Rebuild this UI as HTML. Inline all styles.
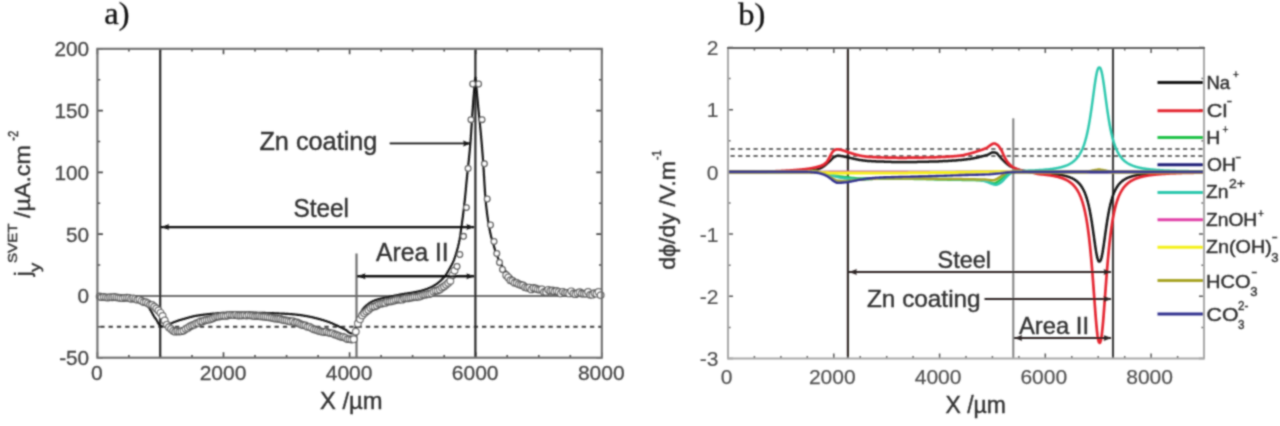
<!DOCTYPE html>
<html><head><meta charset="utf-8"><title>SVET profiles</title>
<style>html,body{margin:0;padding:0;background:#fff;overflow:hidden}svg{display:block}text{stroke:#3a3a3a;stroke-width:0.45px}</style>
</head><body>
<svg width="1280" height="426" viewBox="0 0 1280 426">
<defs><filter id="bl" filterUnits="userSpaceOnUse" x="0" y="0" width="1280" height="426"><feConvolveMatrix order="5" kernelMatrix="0.00023 0.00332 0.00809 0.00332 0.00023 0.00332 0.04785 0.11640 0.04785 0.00332 0.00809 0.11640 0.28313 0.11640 0.00809 0.00332 0.04785 0.11640 0.04785 0.00332 0.00023 0.00332 0.00809 0.00332 0.00023" edgeMode="none"/></filter></defs>
<rect width="1280" height="426" fill="#fff"/>
<g filter="url(#bl)">
<path d="M97.4 357.7V352.2M97.4 48.8V54.3M128.9 357.7V354.9M128.9 48.8V51.6M160.4 357.7V354.9M160.4 48.8V51.6M192.0 357.7V354.9M192.0 48.8V51.6M223.5 357.7V352.2M223.5 48.8V54.3M255.0 357.7V354.9M255.0 48.8V51.6M286.6 357.7V354.9M286.6 48.8V51.6M318.1 357.7V354.9M318.1 48.8V51.6M349.6 357.7V352.2M349.6 48.8V54.3M381.1 357.7V354.9M381.1 48.8V51.6M412.6 357.7V354.9M412.6 48.8V51.6M444.2 357.7V354.9M444.2 48.8V51.6M475.7 357.7V352.2M475.7 48.8V54.3M507.2 357.7V354.9M507.2 48.8V51.6M538.8 357.7V354.9M538.8 48.8V51.6M570.3 357.7V354.9M570.3 48.8V51.6M601.8 357.7V352.2M601.8 48.8V54.3M97.4 357.7H102.9M601.8 357.7H596.3M97.4 326.8H100.2M601.8 326.8H599.0M97.4 295.9H102.9M601.8 295.9H596.3M97.4 265.0H100.2M601.8 265.0H599.0M97.4 234.1H102.9M601.8 234.1H596.3M97.4 203.2H100.2M601.8 203.2H599.0M97.4 172.4H102.9M601.8 172.4H596.3M97.4 141.5H100.2M601.8 141.5H599.0M97.4 110.6H102.9M601.8 110.6H596.3M97.4 79.7H100.2M601.8 79.7H599.0M97.4 48.8H102.9M601.8 48.8H596.3" stroke="#444" stroke-width="1.6" fill="none"/>
<path d="M97.4 296.1H601.8" stroke="#6e6e6e" stroke-width="2" fill="none"/>
<path d="M97.4 326.8H601.8" stroke="#3a3a3a" stroke-width="2" stroke-dasharray="4.3 4" stroke-dashoffset="5.45" fill="none"/>
<path d="M160.2 48.8V357.7" stroke="#2a2a2a" stroke-width="2.2"/>
<path d="M475.4 48.8V357.7" stroke="#2a2a2a" stroke-width="2.2"/>
<path d="M356.5 253.5V357.7" stroke="#6e6e6e" stroke-width="2.2"/>
<path d="M97.5 295.2L98.0 295.2L98.5 295.2L99.0 295.2L99.5 295.2L100.0 295.2L100.5 295.2L101.0 295.3L101.5 295.3L102.0 295.3L102.5 295.3L103.0 295.3L103.5 295.3L104.0 295.3L104.5 295.3L105.0 295.3L105.5 295.4L106.0 295.4L106.5 295.4L107.0 295.4L107.5 295.4L108.0 295.4L108.5 295.5L109.0 295.5L109.5 295.5L110.0 295.5L110.5 295.5L111.0 295.5L111.5 295.6L112.0 295.6L112.5 295.6L113.0 295.6L113.5 295.6L114.0 295.7L114.5 295.7L115.0 295.7L115.5 295.8L116.0 295.8L116.5 295.8L117.0 295.8L117.5 295.9L118.0 295.9L118.5 295.9L119.0 295.9L119.5 296.0L120.0 296.0L120.5 296.0L121.0 296.0L121.5 296.1L122.0 296.1L122.5 296.1L123.0 296.1L123.5 296.2L124.0 296.2L124.5 296.2L125.0 296.2L125.5 296.3L126.0 296.3L126.5 296.3L127.0 296.3L127.5 296.4L128.0 296.4L128.5 296.4L129.0 296.4L129.5 296.5L130.0 296.5L130.5 296.5L131.0 296.6L131.5 296.6L132.0 296.6L132.5 296.6L133.0 296.7L133.5 296.7L134.0 296.7L134.5 296.8L135.0 296.8L135.5 296.8L136.0 296.9L136.5 296.9L137.0 297.0L137.5 297.1L138.0 297.2L138.5 297.4L139.0 297.6L139.5 297.8L140.0 298.0L140.5 298.2L141.0 298.5L141.5 298.8L142.0 299.1L142.5 299.5L143.0 300.0L143.5 300.5L144.0 301.0L144.5 301.5L145.0 302.0L145.5 302.6L146.0 303.2L146.5 303.8L147.0 304.5L147.5 305.3L148.0 306.0L148.5 306.8L149.0 307.6L149.5 308.4L150.0 309.3L150.5 310.1L151.0 311.0L151.5 311.9L152.0 312.8L152.5 313.7L153.0 314.6L153.5 315.5L154.0 316.3L154.5 317.1L155.0 317.8L155.5 318.5L156.0 319.2L156.5 320.0L157.0 320.8L157.5 321.8L158.0 322.7L158.5 323.6L159.0 324.3L159.5 325.0L160.0 325.7L160.5 326.1L161.0 326.3L161.5 326.4L162.0 326.4L162.5 326.5L163.0 326.5L163.5 326.5L164.0 326.4L164.5 326.3L165.0 326.2L165.5 326.1L166.0 325.9L166.5 325.8L167.0 325.6L167.5 325.4L168.0 325.2L168.5 324.9L169.0 324.6L169.5 324.4L170.0 324.1L170.5 323.8L171.0 323.5L171.5 323.2L172.0 323.0L172.5 322.8L173.0 322.6L173.5 322.4L174.0 322.1L174.5 321.9L175.0 321.7L175.5 321.6L176.0 321.4L176.5 321.2L177.0 321.0L177.5 320.8L178.0 320.7L178.5 320.5L179.0 320.3L179.5 320.2L180.0 320.0L180.5 319.9L181.0 319.7L181.5 319.6L182.0 319.5L182.5 319.3L183.0 319.2L183.5 319.0L184.0 318.9L184.5 318.8L185.0 318.6L185.5 318.5L186.0 318.3L186.5 318.2L187.0 318.0L187.5 317.9L188.0 317.7L188.5 317.6L189.0 317.5L189.5 317.3L190.0 317.2L190.5 317.0L191.0 316.9L191.5 316.8L192.0 316.7L192.5 316.5L193.0 316.4L193.5 316.3L194.0 316.2L194.5 316.1L195.0 316.0L195.5 315.9L196.0 315.8L196.5 315.7L197.0 315.7L197.5 315.6L198.0 315.5L198.5 315.4L199.0 315.3L199.5 315.3L200.0 315.2L200.5 315.1L201.0 315.1L201.5 315.0L202.0 314.9L202.5 314.9L203.0 314.8L203.5 314.7L204.0 314.7L204.5 314.6L205.0 314.5L205.5 314.5L206.0 314.4L206.5 314.4L207.0 314.3L207.5 314.3L208.0 314.2L208.5 314.2L209.0 314.1L209.5 314.1L210.0 314.0L210.5 313.9L211.0 313.9L211.5 313.8L212.0 313.8L212.5 313.7L213.0 313.7L213.5 313.6L214.0 313.6L214.5 313.5L215.0 313.5L215.5 313.4L216.0 313.4L216.5 313.3L217.0 313.3L217.5 313.2L218.0 313.2L218.5 313.1L219.0 313.1L219.5 313.1L220.0 313.0L220.5 313.0L221.0 312.9L221.5 312.9L222.0 312.9L222.5 312.9L223.0 312.8L223.5 312.8L224.0 312.8L224.5 312.8L225.0 312.8L225.5 312.8L226.0 312.7L226.5 312.7L227.0 312.7L227.5 312.7L228.0 312.7L228.5 312.7L229.0 312.7L229.5 312.6L230.0 312.6L230.5 312.6L231.0 312.6L231.5 312.6L232.0 312.6L232.5 312.6L233.0 312.6L233.5 312.6L234.0 312.6L234.5 312.5L235.0 312.5L235.5 312.5L236.0 312.5L236.5 312.5L237.0 312.5L237.5 312.5L238.0 312.5L238.5 312.5L239.0 312.5L239.5 312.5L240.0 312.5L240.5 312.5L241.0 312.5L241.5 312.5L242.0 312.5L242.5 312.5L243.0 312.5L243.5 312.5L244.0 312.5L244.5 312.5L245.0 312.5L245.5 312.5L246.0 312.5L246.5 312.6L247.0 312.6L247.5 312.6L248.0 312.6L248.5 312.6L249.0 312.6L249.5 312.6L250.0 312.6L250.5 312.6L251.0 312.6L251.5 312.6L252.0 312.6L252.5 312.7L253.0 312.7L253.5 312.7L254.0 312.7L254.5 312.7L255.0 312.7L255.5 312.7L256.0 312.7L256.5 312.7L257.0 312.8L257.5 312.8L258.0 312.8L258.5 312.8L259.0 312.8L259.5 312.8L260.0 312.8L260.5 312.8L261.0 312.8L261.5 312.9L262.0 312.9L262.5 312.9L263.0 312.9L263.5 312.9L264.0 312.9L264.5 312.9L265.0 312.9L265.5 313.0L266.0 313.0L266.5 313.0L267.0 313.0L267.5 313.0L268.0 313.0L268.5 313.1L269.0 313.1L269.5 313.1L270.0 313.1L270.5 313.1L271.0 313.1L271.5 313.2L272.0 313.2L272.5 313.2L273.0 313.2L273.5 313.2L274.0 313.3L274.5 313.3L275.0 313.3L275.5 313.3L276.0 313.3L276.5 313.3L277.0 313.4L277.5 313.4L278.0 313.4L278.5 313.4L279.0 313.5L279.5 313.5L280.0 313.5L280.5 313.5L281.0 313.5L281.5 313.6L282.0 313.6L282.5 313.6L283.0 313.6L283.5 313.7L284.0 313.7L284.5 313.7L285.0 313.8L285.5 313.8L286.0 313.8L286.5 313.8L287.0 313.9L287.5 313.9L288.0 313.9L288.5 314.0L289.0 314.0L289.5 314.0L290.0 314.1L290.5 314.1L291.0 314.2L291.5 314.2L292.0 314.2L292.5 314.3L293.0 314.3L293.5 314.4L294.0 314.4L294.5 314.4L295.0 314.5L295.5 314.5L296.0 314.6L296.5 314.6L297.0 314.7L297.5 314.8L298.0 314.8L298.5 314.9L299.0 314.9L299.5 315.0L300.0 315.1L300.5 315.1L301.0 315.2L301.5 315.3L302.0 315.4L302.5 315.4L303.0 315.5L303.5 315.6L304.0 315.7L304.5 315.8L305.0 315.8L305.5 315.9L306.0 316.0L306.5 316.1L307.0 316.2L307.5 316.3L308.0 316.4L308.5 316.5L309.0 316.6L309.5 316.7L310.0 316.8L310.5 316.9L311.0 317.0L311.5 317.1L312.0 317.2L312.5 317.3L313.0 317.4L313.5 317.6L314.0 317.7L314.5 317.8L315.0 317.9L315.5 318.1L316.0 318.2L316.5 318.3L317.0 318.4L317.5 318.6L318.0 318.7L318.5 318.8L319.0 319.0L319.5 319.1L320.0 319.2L320.5 319.4L321.0 319.5L321.5 319.7L322.0 319.8L322.5 320.0L323.0 320.1L323.5 320.3L324.0 320.4L324.5 320.6L325.0 320.8L325.5 320.9L326.0 321.1L326.5 321.3L327.0 321.4L327.5 321.6L328.0 321.8L328.5 322.0L329.0 322.1L329.5 322.3L330.0 322.5L330.5 322.7L331.0 322.9L331.5 323.1L332.0 323.3L332.5 323.5L333.0 323.7L333.5 323.9L334.0 324.2L334.5 324.4L335.0 324.6L335.5 324.9L336.0 325.1L336.5 325.3L337.0 325.6L337.5 325.8L338.0 326.0L338.5 326.3L339.0 326.5L339.5 326.8L340.0 327.0L340.5 327.3L341.0 327.5L341.5 327.7L342.0 328.0L342.5 328.2L343.0 328.4L343.5 328.7L344.0 328.9L344.5 329.2L345.0 329.4L345.5 329.7L346.0 330.0L346.5 330.3L347.0 330.7L347.5 331.2L348.0 331.6L348.5 332.1L349.0 332.4L349.5 332.8L350.0 333.0L350.5 333.2L351.0 333.3L351.5 333.5L352.0 333.5L352.5 333.3L353.0 332.7L353.5 331.9L354.0 331.0L354.5 330.0L355.0 328.8L355.5 327.4L356.0 326.0L356.5 324.4L357.0 322.6L357.5 320.7L358.0 319.0L358.5 317.5L359.0 316.3L359.5 315.2L360.0 314.1L360.5 313.2L361.0 312.3L361.5 311.4L362.0 310.5L362.5 309.7L363.0 309.0L363.5 308.4L364.0 307.8L364.5 307.2L365.0 306.7L365.5 306.2L366.0 305.8L366.5 305.3L367.0 304.9L367.5 304.6L368.0 304.2L368.5 303.8L369.0 303.5L369.5 303.1L370.0 302.8L370.5 302.5L371.0 302.2L371.5 301.9L372.0 301.6L372.5 301.4L373.0 301.1L373.5 300.9L374.0 300.7L374.5 300.5L375.0 300.3L375.5 300.2L376.0 300.0L376.5 299.8L377.0 299.7L377.5 299.5L378.0 299.3L378.5 299.2L379.0 299.1L379.5 298.9L380.0 298.8L380.5 298.7L381.0 298.5L381.5 298.4L382.0 298.3L382.5 298.2L383.0 298.0L383.5 297.9L384.0 297.8L384.5 297.7L385.0 297.6L385.5 297.5L386.0 297.4L386.5 297.3L387.0 297.2L387.5 297.1L388.0 297.0L388.5 296.9L389.0 296.8L389.5 296.7L390.0 296.6L390.5 296.5L391.0 296.4L391.5 296.3L392.0 296.2L392.5 296.1L393.0 296.0L393.5 295.9L394.0 295.8L394.5 295.7L395.0 295.6L395.5 295.5L396.0 295.4L396.5 295.3L397.0 295.2L397.5 295.1L398.0 295.0L398.5 294.9L399.0 294.8L399.5 294.7L400.0 294.6L400.5 294.5L401.0 294.4L401.5 294.3L402.0 294.2L402.5 294.1L403.0 294.0L403.5 294.0L404.0 293.9L404.5 293.8L405.0 293.7L405.5 293.7L406.0 293.6L406.5 293.5L407.0 293.5L407.5 293.4L408.0 293.3L408.5 293.2L409.0 293.2L409.5 293.1L410.0 293.0L410.5 292.9L411.0 292.9L411.5 292.8L412.0 292.7L412.5 292.6L413.0 292.5L413.5 292.4L414.0 292.3L414.5 292.2L415.0 292.1L415.5 292.0L416.0 291.9L416.5 291.8L417.0 291.7L417.5 291.6L418.0 291.5L418.5 291.4L419.0 291.3L419.5 291.2L420.0 291.1L420.5 291.0L421.0 290.8L421.5 290.7L422.0 290.5L422.5 290.4L423.0 290.3L423.5 290.1L424.0 289.9L424.5 289.8L425.0 289.6L425.5 289.4L426.0 289.2L426.5 289.1L427.0 288.9L427.5 288.7L428.0 288.5L428.5 288.3L429.0 288.1L429.5 287.9L430.0 287.6L430.5 287.4L431.0 287.2L431.5 287.0L432.0 286.7L432.5 286.4L433.0 286.2L433.5 285.9L434.0 285.6L434.5 285.3L435.0 285.0L435.5 284.7L436.0 284.4L436.5 284.0L437.0 283.7L437.5 283.3L438.0 282.9L438.5 282.5L439.0 282.1L439.5 281.7L440.0 281.3L440.5 280.9L441.0 280.4L441.5 279.9L442.0 279.4L442.5 278.9L443.0 278.4L443.5 277.9L444.0 277.3L444.5 276.7L445.0 276.1L445.5 275.4L446.0 274.6L446.5 273.9L447.0 273.1L447.5 272.2L448.0 271.4L448.5 270.5L449.0 269.7L449.5 268.8L450.0 267.9L450.5 267.0L451.0 266.1L451.5 265.2L452.0 264.2L452.5 263.2L453.0 262.1L453.5 261.0L454.0 259.8L454.5 258.4L455.0 257.0L455.5 255.5L456.0 253.9L456.5 252.2L457.0 250.5L457.5 248.7L458.0 246.8L458.5 244.7L459.0 242.5L459.5 240.0L460.0 237.1L460.5 233.8L461.0 230.2L461.5 226.6L462.0 222.9L462.5 219.1L463.0 215.3L463.5 211.3L464.0 207.1L464.5 202.7L465.0 198.1L465.5 193.0L466.0 187.5L466.5 182.1L467.0 177.0L467.5 172.2L468.0 167.5L468.5 162.8L469.0 158.1L469.5 153.1L470.0 147.7L470.5 141.8L471.0 134.8L471.5 127.1L472.0 119.4L472.5 112.2L473.0 105.1L473.5 98.2L474.0 92.0L474.5 85.4L475.0 79.4L475.5 77.6L476.0 81.7L476.5 88.3L477.0 94.1L477.5 99.4L478.0 104.8L478.5 110.0L479.0 115.0L479.5 119.9L480.0 124.8L480.5 130.0L481.0 135.5L481.5 141.2L482.0 147.2L482.5 153.4L483.0 160.0L483.5 167.4L484.0 175.8L484.5 184.3L485.0 192.2L485.5 198.9L486.0 204.1L486.5 208.7L487.0 212.9L487.5 216.6L488.0 220.1L488.5 223.2L489.0 226.2L489.5 229.0L490.0 231.5L490.5 233.8L491.0 236.0L491.5 237.9L492.0 239.7L492.5 241.4L493.0 243.0L493.5 244.7L494.0 246.4L494.5 248.2L495.0 249.9L495.5 251.5L496.0 253.0L496.5 254.4L497.0 255.6L497.5 256.9L498.0 258.0L498.5 259.1L499.0 260.2L499.5 261.2L500.0 262.2L500.5 263.2L501.0 264.1L501.5 265.0L502.0 265.9L502.5 266.8L503.0 267.6L503.5 268.3L504.0 269.0L504.5 269.7L505.0 270.3L505.5 270.9L506.0 271.5L506.5 272.0L507.0 272.6L507.5 273.1L508.0 273.6L508.5 274.1L509.0 274.6L509.5 275.0L510.0 275.5L510.5 275.9L511.0 276.3L511.5 276.8L512.0 277.2L512.5 277.6L513.0 277.9L513.5 278.3L514.0 278.7L514.5 279.1L515.0 279.4L515.5 279.7L516.0 280.1L516.5 280.4L517.0 280.7L517.5 280.9L518.0 281.2L518.5 281.5L519.0 281.7L519.5 281.9L520.0 282.2L520.5 282.4L521.0 282.6L521.5 282.9L522.0 283.1L522.5 283.3L523.0 283.5L523.5 283.7L524.0 283.9L524.5 284.1L525.0 284.2L525.5 284.4L526.0 284.6L526.5 284.8L527.0 284.9L527.5 285.1L528.0 285.2L528.5 285.4L529.0 285.5L529.5 285.7L530.0 285.8L530.5 285.9L531.0 286.1L531.5 286.2L532.0 286.3L532.5 286.4L533.0 286.6L533.5 286.7L534.0 286.8L534.5 286.9L535.0 287.0L535.5 287.1L536.0 287.2L536.5 287.3L537.0 287.4L537.5 287.5L538.0 287.6L538.5 287.7L539.0 287.8L539.5 287.9L540.0 288.0L540.5 288.1L541.0 288.2L541.5 288.3L542.0 288.4L542.5 288.5L543.0 288.5L543.5 288.6L544.0 288.7L544.5 288.8L545.0 288.9L545.5 289.0L546.0 289.0L546.5 289.1L547.0 289.2L547.5 289.3L548.0 289.4L548.5 289.4L549.0 289.5L549.5 289.6L550.0 289.6L550.5 289.7L551.0 289.8L551.5 289.8L552.0 289.9L552.5 289.9L553.0 290.0L553.5 290.1L554.0 290.1L554.5 290.2L555.0 290.2L555.5 290.3L556.0 290.3L556.5 290.4L557.0 290.4L557.5 290.5L558.0 290.5L558.5 290.5L559.0 290.6L559.5 290.6L560.0 290.7L560.5 290.7L561.0 290.8L561.5 290.8L562.0 290.8L562.5 290.9L563.0 290.9L563.5 290.9L564.0 291.0L564.5 291.0L565.0 291.1L565.5 291.1L566.0 291.1L566.5 291.2L567.0 291.2L567.5 291.2L568.0 291.3L568.5 291.3L569.0 291.3L569.5 291.4L570.0 291.4L570.5 291.4L571.0 291.5L571.5 291.5L572.0 291.5L572.5 291.6L573.0 291.6L573.5 291.6L574.0 291.6L574.5 291.7L575.0 291.7L575.5 291.7L576.0 291.8L576.5 291.8L577.0 291.8L577.5 291.8L578.0 291.9L578.5 291.9L579.0 291.9L579.5 291.9L580.0 292.0L580.5 292.0L581.0 292.0L581.5 292.0L582.0 292.1L582.5 292.1L583.0 292.1L583.5 292.1L584.0 292.2L584.5 292.2L585.0 292.2L585.5 292.2L586.0 292.2L586.5 292.3L587.0 292.3L587.5 292.3L588.0 292.3L588.5 292.4L589.0 292.4L589.5 292.4L590.0 292.4L590.5 292.4L591.0 292.5L591.5 292.5L592.0 292.5L592.5 292.5L593.0 292.5L593.5 292.5L594.0 292.6L594.5 292.6L595.0 292.6L595.5 292.6L596.0 292.6L596.5 292.7L597.0 292.7L597.5 292.7L598.0 292.7L598.5 292.7L599.0 292.7L599.5 292.8L600.0 292.8L600.5 292.8L601.0 292.8" stroke="#151515" stroke-width="2.2" fill="none" stroke-linejoin="round"/>
<g fill="#fff" stroke="#5c5c5c" stroke-width="1.20"><circle cx="99.6" cy="296.4" r="3.30"/><circle cx="101.7" cy="297.2" r="3.30"/><circle cx="103.8" cy="296.9" r="3.30"/><circle cx="105.9" cy="297.3" r="3.30"/><circle cx="108.0" cy="297.6" r="3.30"/><circle cx="110.1" cy="297.2" r="3.30"/><circle cx="112.2" cy="297.3" r="3.30"/><circle cx="114.3" cy="297.0" r="3.30"/><circle cx="116.4" cy="297.3" r="3.30"/><circle cx="118.5" cy="297.6" r="3.30"/><circle cx="120.6" cy="297.9" r="3.30"/><circle cx="122.7" cy="298.2" r="3.30"/><circle cx="124.8" cy="297.8" r="3.30"/><circle cx="126.9" cy="297.7" r="3.30"/><circle cx="129.0" cy="298.0" r="3.30"/><circle cx="131.1" cy="298.8" r="3.30"/><circle cx="133.2" cy="298.3" r="3.30"/><circle cx="135.3" cy="298.8" r="3.30"/><circle cx="137.4" cy="299.7" r="3.30"/><circle cx="139.5" cy="299.4" r="3.30"/><circle cx="141.6" cy="300.8" r="3.30"/><circle cx="143.7" cy="302.0" r="3.30"/><circle cx="145.8" cy="302.2" r="3.30"/><circle cx="147.9" cy="303.3" r="3.30"/><circle cx="150.0" cy="304.6" r="3.30"/><circle cx="152.1" cy="304.9" r="3.30"/><circle cx="154.2" cy="306.6" r="3.30"/><circle cx="156.3" cy="308.4" r="3.30"/><circle cx="158.4" cy="310.4" r="3.30"/><circle cx="160.5" cy="312.8" r="3.30"/><circle cx="162.6" cy="316.0" r="3.30"/><circle cx="164.7" cy="320.4" r="3.30"/><circle cx="166.8" cy="324.6" r="3.30"/><circle cx="168.9" cy="327.2" r="3.30"/><circle cx="171.0" cy="328.9" r="3.30"/><circle cx="173.1" cy="330.8" r="3.30"/><circle cx="175.2" cy="331.7" r="3.30"/><circle cx="177.3" cy="331.3" r="3.30"/><circle cx="179.4" cy="331.6" r="3.30"/><circle cx="181.5" cy="331.2" r="3.30"/><circle cx="183.6" cy="330.6" r="3.30"/><circle cx="185.7" cy="329.1" r="3.30"/><circle cx="187.8" cy="327.9" r="3.30"/><circle cx="189.9" cy="326.4" r="3.30"/><circle cx="192.0" cy="325.4" r="3.30"/><circle cx="194.1" cy="324.7" r="3.30"/><circle cx="196.2" cy="323.4" r="3.30"/><circle cx="198.3" cy="323.0" r="3.30"/><circle cx="200.4" cy="321.5" r="3.30"/><circle cx="202.5" cy="321.4" r="3.30"/><circle cx="204.6" cy="320.5" r="3.30"/><circle cx="206.7" cy="320.0" r="3.30"/><circle cx="208.8" cy="319.7" r="3.30"/><circle cx="210.9" cy="319.0" r="3.30"/><circle cx="213.0" cy="318.3" r="3.30"/><circle cx="215.1" cy="317.2" r="3.30"/><circle cx="217.2" cy="316.6" r="3.30"/><circle cx="219.3" cy="316.6" r="3.30"/><circle cx="221.4" cy="315.9" r="3.30"/><circle cx="223.5" cy="315.7" r="3.30"/><circle cx="225.6" cy="315.9" r="3.30"/><circle cx="227.7" cy="315.5" r="3.30"/><circle cx="229.8" cy="314.8" r="3.30"/><circle cx="231.9" cy="314.9" r="3.30"/><circle cx="234.0" cy="315.2" r="3.30"/><circle cx="236.1" cy="314.8" r="3.30"/><circle cx="238.2" cy="315.5" r="3.30"/><circle cx="240.3" cy="315.4" r="3.30"/><circle cx="242.4" cy="315.4" r="3.30"/><circle cx="244.5" cy="315.1" r="3.30"/><circle cx="246.6" cy="315.6" r="3.30"/><circle cx="248.7" cy="315.0" r="3.30"/><circle cx="250.8" cy="315.4" r="3.30"/><circle cx="252.9" cy="315.7" r="3.30"/><circle cx="255.0" cy="316.2" r="3.30"/><circle cx="257.1" cy="316.1" r="3.30"/><circle cx="259.2" cy="316.0" r="3.30"/><circle cx="261.3" cy="316.4" r="3.30"/><circle cx="263.4" cy="316.6" r="3.30"/><circle cx="265.5" cy="316.8" r="3.30"/><circle cx="267.6" cy="316.9" r="3.30"/><circle cx="269.7" cy="317.4" r="3.30"/><circle cx="271.8" cy="317.7" r="3.30"/><circle cx="273.9" cy="318.3" r="3.30"/><circle cx="276.0" cy="318.7" r="3.30"/><circle cx="278.1" cy="318.7" r="3.30"/><circle cx="280.2" cy="319.0" r="3.30"/><circle cx="282.3" cy="319.7" r="3.30"/><circle cx="284.4" cy="320.2" r="3.30"/><circle cx="286.5" cy="320.4" r="3.30"/><circle cx="288.6" cy="320.9" r="3.30"/><circle cx="290.7" cy="321.5" r="3.30"/><circle cx="292.8" cy="321.1" r="3.30"/><circle cx="294.9" cy="322.5" r="3.30"/><circle cx="297.0" cy="322.5" r="3.30"/><circle cx="299.1" cy="323.4" r="3.30"/><circle cx="301.2" cy="324.5" r="3.30"/><circle cx="303.3" cy="325.2" r="3.30"/><circle cx="305.4" cy="325.4" r="3.30"/><circle cx="307.5" cy="326.7" r="3.30"/><circle cx="309.6" cy="326.9" r="3.30"/><circle cx="311.7" cy="328.1" r="3.30"/><circle cx="313.8" cy="329.3" r="3.30"/><circle cx="315.9" cy="329.7" r="3.30"/><circle cx="318.0" cy="330.5" r="3.30"/><circle cx="320.1" cy="331.2" r="3.30"/><circle cx="322.2" cy="331.7" r="3.30"/><circle cx="324.3" cy="332.0" r="3.30"/><circle cx="326.4" cy="331.7" r="3.30"/><circle cx="328.5" cy="332.6" r="3.30"/><circle cx="330.6" cy="333.1" r="3.30"/><circle cx="332.7" cy="333.3" r="3.30"/><circle cx="334.8" cy="334.4" r="3.30"/><circle cx="336.9" cy="335.1" r="3.30"/><circle cx="339.0" cy="336.0" r="3.30"/><circle cx="341.1" cy="336.8" r="3.30"/><circle cx="343.2" cy="336.9" r="3.30"/><circle cx="345.3" cy="337.8" r="3.30"/><circle cx="347.4" cy="339.1" r="3.30"/><circle cx="349.5" cy="339.1" r="3.30"/><circle cx="351.6" cy="339.6" r="3.30"/><circle cx="353.7" cy="339.2" r="3.30"/><circle cx="355.8" cy="331.6" r="3.30"/><circle cx="357.9" cy="323.5" r="3.30"/><circle cx="360.0" cy="319.3" r="3.30"/><circle cx="362.1" cy="315.4" r="3.30"/><circle cx="364.2" cy="313.2" r="3.30"/><circle cx="366.3" cy="311.6" r="3.30"/><circle cx="368.4" cy="310.1" r="3.30"/><circle cx="370.5" cy="308.0" r="3.30"/><circle cx="372.6" cy="306.7" r="3.30"/><circle cx="374.7" cy="306.4" r="3.30"/><circle cx="376.8" cy="305.6" r="3.30"/><circle cx="378.9" cy="304.1" r="3.30"/><circle cx="381.0" cy="303.7" r="3.30"/><circle cx="383.1" cy="303.3" r="3.30"/><circle cx="385.2" cy="302.9" r="3.30"/><circle cx="387.3" cy="301.6" r="3.30"/><circle cx="389.4" cy="301.6" r="3.30"/><circle cx="391.5" cy="301.3" r="3.30"/><circle cx="393.6" cy="300.7" r="3.30"/><circle cx="395.7" cy="300.0" r="3.30"/><circle cx="397.8" cy="299.5" r="3.30"/><circle cx="399.9" cy="299.5" r="3.30"/><circle cx="402.0" cy="299.7" r="3.30"/><circle cx="404.1" cy="298.6" r="3.30"/><circle cx="406.2" cy="298.3" r="3.30"/><circle cx="408.3" cy="298.3" r="3.30"/><circle cx="410.4" cy="297.7" r="3.30"/><circle cx="412.5" cy="297.4" r="3.30"/><circle cx="414.6" cy="296.9" r="3.30"/><circle cx="416.7" cy="297.0" r="3.30"/><circle cx="418.8" cy="296.7" r="3.30"/><circle cx="420.9" cy="296.0" r="3.30"/><circle cx="423.0" cy="295.1" r="3.30"/><circle cx="425.1" cy="294.7" r="3.30"/><circle cx="427.2" cy="294.3" r="3.30"/><circle cx="429.3" cy="294.0" r="3.30"/><circle cx="431.4" cy="293.3" r="3.30"/><circle cx="433.5" cy="291.8" r="3.30"/><circle cx="435.6" cy="290.7" r="3.30"/><circle cx="437.7" cy="290.5" r="3.30"/><circle cx="439.8" cy="289.5" r="3.30"/><circle cx="441.9" cy="287.7" r="3.30"/><circle cx="444.0" cy="286.4" r="3.30"/><circle cx="446.1" cy="284.8" r="3.30"/><circle cx="448.2" cy="282.9" r="3.30"/><circle cx="450.3" cy="280.9" r="3.30"/><circle cx="452.4" cy="275.3" r="3.30"/><circle cx="454.5" cy="270.6" r="3.30"/><circle cx="506.2" cy="275.2" r="3.30"/><circle cx="508.3" cy="277.4" r="3.30"/><circle cx="510.4" cy="280.2" r="3.30"/><circle cx="512.5" cy="280.9" r="3.30"/><circle cx="514.6" cy="282.7" r="3.30"/><circle cx="516.7" cy="283.0" r="3.30"/><circle cx="518.8" cy="284.2" r="3.30"/><circle cx="520.9" cy="285.0" r="3.30"/><circle cx="523.0" cy="285.5" r="3.30"/><circle cx="525.1" cy="287.2" r="3.30"/><circle cx="527.2" cy="287.8" r="3.30"/><circle cx="529.3" cy="287.6" r="3.30"/><circle cx="531.4" cy="289.4" r="3.30"/><circle cx="533.5" cy="288.0" r="3.30"/><circle cx="535.6" cy="288.4" r="3.30"/><circle cx="537.7" cy="289.3" r="3.30"/><circle cx="539.8" cy="289.7" r="3.30"/><circle cx="541.9" cy="289.4" r="3.30"/><circle cx="544.0" cy="291.9" r="3.30"/><circle cx="546.1" cy="291.9" r="3.30"/><circle cx="548.2" cy="289.8" r="3.30"/><circle cx="550.3" cy="290.8" r="3.30"/><circle cx="552.4" cy="290.5" r="3.30"/><circle cx="554.5" cy="291.4" r="3.30"/><circle cx="556.6" cy="291.0" r="3.30"/><circle cx="558.7" cy="291.9" r="3.30"/><circle cx="560.8" cy="293.4" r="3.30"/><circle cx="562.9" cy="291.8" r="3.30"/><circle cx="565.0" cy="292.8" r="3.30"/><circle cx="567.1" cy="292.8" r="3.30"/><circle cx="569.2" cy="293.4" r="3.30"/><circle cx="571.3" cy="291.3" r="3.30"/><circle cx="573.4" cy="293.5" r="3.30"/><circle cx="575.5" cy="294.2" r="3.30"/><circle cx="577.6" cy="293.2" r="3.30"/><circle cx="579.7" cy="292.2" r="3.30"/><circle cx="581.8" cy="293.5" r="3.30"/><circle cx="583.9" cy="293.7" r="3.30"/><circle cx="586.0" cy="293.6" r="3.30"/><circle cx="588.1" cy="292.0" r="3.30"/><circle cx="590.2" cy="294.7" r="3.30"/><circle cx="592.3" cy="294.7" r="3.30"/><circle cx="594.4" cy="293.1" r="3.30"/><circle cx="596.5" cy="293.7" r="3.30"/><circle cx="598.6" cy="292.0" r="3.30"/><circle cx="600.7" cy="295.1" r="3.30"/></g>
<g fill="#fff" stroke="#555" stroke-width="1.3"><circle cx="472.7" cy="84.0" r="2.8"/><circle cx="471.0" cy="119.7" r="2.8"/><circle cx="468.1" cy="168.5" r="2.8"/><circle cx="466.4" cy="207.6" r="2.8"/><circle cx="463.5" cy="236.3" r="2.8"/><circle cx="459.8" cy="254.5" r="2.8"/><circle cx="457.0" cy="266.5" r="2.8"/><circle cx="478.6" cy="84.0" r="2.8"/><circle cx="482.0" cy="119.7" r="2.8"/><circle cx="484.4" cy="163.8" r="2.8"/><circle cx="487.2" cy="199.0" r="2.8"/><circle cx="490.5" cy="225.0" r="2.8"/><circle cx="494.0" cy="241.5" r="2.8"/><circle cx="496.8" cy="253.5" r="2.8"/><circle cx="499.5" cy="262.5" r="2.8"/><circle cx="502.5" cy="269.5" r="2.8"/></g>
<rect x="97.4" y="48.8" width="504.4" height="308.9" fill="none" stroke="#6e6e6e" stroke-width="2.1"/>
<path d="M161 227.1H474" stroke="#101010" stroke-width="2.4"/>
<path d="M161.2 227.1L169.2 224.1L168.0 227.1L169.2 230.1Z" fill="#151515"/>
<path d="M474.3 227.1L466.3 224.1L467.5 227.1L466.3 230.1Z" fill="#151515"/>
<path d="M357 276.3H474" stroke="#101010" stroke-width="2.4"/>
<path d="M357.5 276.3L365.5 273.3L364.3 276.3L365.5 279.3Z" fill="#151515"/>
<path d="M474.3 276.3L466.3 273.3L467.5 276.3L466.3 279.3Z" fill="#151515"/>
<path d="M389.7 143.4H470" stroke="#101010" stroke-width="1.8"/>
<path d="M471.0 143.4L463.0 140.4L464.2 143.4L463.0 146.4Z" fill="#151515"/>
<text x="259.4" y="150" font-size="25" fill="#333333" font-family="Liberation Sans, sans-serif" textLength="118" lengthAdjust="spacingAndGlyphs">Zn coating</text>
<text x="293.4" y="217" font-size="25" fill="#333333" font-family="Liberation Sans, sans-serif" textLength="55.5" lengthAdjust="spacingAndGlyphs">Steel</text>
<text x="376" y="261.2" font-size="25" fill="#333333" font-family="Liberation Sans, sans-serif" textLength="72.7" lengthAdjust="spacingAndGlyphs">Area II</text>
<text x="89.2" y="365.2" font-size="20.8" fill="#4a4a4a" font-family="Liberation Sans, sans-serif" text-anchor="end" style="stroke-width:0.3px">-50</text>
<text x="89.2" y="303.4" font-size="20.8" fill="#4a4a4a" font-family="Liberation Sans, sans-serif" text-anchor="end" style="stroke-width:0.3px">0</text>
<text x="89.2" y="241.6" font-size="20.8" fill="#4a4a4a" font-family="Liberation Sans, sans-serif" text-anchor="end" style="stroke-width:0.3px">50</text>
<text x="89.2" y="179.9" font-size="20.8" fill="#4a4a4a" font-family="Liberation Sans, sans-serif" text-anchor="end" style="stroke-width:0.3px">100</text>
<text x="89.2" y="118.1" font-size="20.8" fill="#4a4a4a" font-family="Liberation Sans, sans-serif" text-anchor="end" style="stroke-width:0.3px">150</text>
<text x="89.2" y="56.3" font-size="20.8" fill="#4a4a4a" font-family="Liberation Sans, sans-serif" text-anchor="end" style="stroke-width:0.3px">200</text>
<text x="96.9" y="379.8" font-size="21" fill="#4a4a4a" font-family="Liberation Sans, sans-serif" text-anchor="middle" style="stroke-width:0.3px">0</text>
<text x="223.0" y="379.8" font-size="21" fill="#4a4a4a" font-family="Liberation Sans, sans-serif" text-anchor="middle" style="stroke-width:0.3px">2000</text>
<text x="349.1" y="379.8" font-size="21" fill="#4a4a4a" font-family="Liberation Sans, sans-serif" text-anchor="middle" style="stroke-width:0.3px">4000</text>
<text x="475.2" y="379.8" font-size="21" fill="#4a4a4a" font-family="Liberation Sans, sans-serif" text-anchor="middle" style="stroke-width:0.3px">6000</text>
<text x="601.3" y="379.8" font-size="21" fill="#4a4a4a" font-family="Liberation Sans, sans-serif" text-anchor="middle" style="stroke-width:0.3px">8000</text>
<text x="320" y="409.1" font-size="24" fill="#333333" font-family="Liberation Sans, sans-serif" textLength="62.5" lengthAdjust="spacingAndGlyphs">X /µm</text>
<g transform="rotate(-90)" fill="#333333" font-family="Liberation Sans, sans-serif"><text x="-276.2" y="29.5" font-size="22">j</text><text x="-271.9" y="40.3" font-size="15" textLength="9.2" lengthAdjust="spacingAndGlyphs">y</text><text x="-263" y="17.3" font-size="13" textLength="39.5" lengthAdjust="spacingAndGlyphs">SVET</text><text x="-217.9" y="29.6" font-size="22" textLength="72.7" lengthAdjust="spacingAndGlyphs">/µA.cm</text><text x="-140.8" y="17.8" font-size="14" textLength="10" lengthAdjust="spacingAndGlyphs">-2</text></g>
<text x="104.3" y="24" font-size="32.5" fill="#111" font-family="Liberation Serif, serif">a)</text>
<path d="M728.0 358.4V353.4M728.0 48.0V53.0M754.4 358.4V355.9M754.4 48.0V50.5M780.9 358.4V355.9M780.9 48.0V50.5M807.3 358.4V355.9M807.3 48.0V50.5M833.8 358.4V353.4M833.8 48.0V53.0M860.2 358.4V355.9M860.2 48.0V50.5M886.7 358.4V355.9M886.7 48.0V50.5M913.1 358.4V355.9M913.1 48.0V50.5M939.6 358.4V353.4M939.6 48.0V53.0M966.0 358.4V355.9M966.0 48.0V50.5M992.4 358.4V355.9M992.4 48.0V50.5M1018.9 358.4V355.9M1018.9 48.0V50.5M1045.3 358.4V353.4M1045.3 48.0V53.0M1071.8 358.4V355.9M1071.8 48.0V50.5M1098.2 358.4V355.9M1098.2 48.0V50.5M1124.7 358.4V355.9M1124.7 48.0V50.5M1151.1 358.4V353.4M1151.1 48.0V53.0M1177.6 358.4V355.9M1177.6 48.0V50.5M1204.0 358.4V355.9M1204.0 48.0V50.5M728.0 358.5H733.0M1204.0 358.5H1199.0M728.0 327.4H730.5M1204.0 327.4H1201.5M728.0 296.3H733.0M1204.0 296.3H1199.0M728.0 265.2H730.5M1204.0 265.2H1201.5M728.0 234.1H733.0M1204.0 234.1H1199.0M728.0 203.0H730.5M1204.0 203.0H1201.5M728.0 171.9H733.0M1204.0 171.9H1199.0M728.0 140.8H730.5M1204.0 140.8H1201.5M728.0 109.7H733.0M1204.0 109.7H1199.0M728.0 78.6H730.5M1204.0 78.6H1201.5M728.0 47.5H733.0M1204.0 47.5H1199.0" stroke="#555" stroke-width="1.5" fill="none"/>
<path d="M730.5 149.1H1204.0M730.5 156.1H1204.0" stroke="#6a6a6a" stroke-width="2" stroke-dasharray="4.2 3.47" fill="none"/>
<path d="M847.9 48.0V358.4" stroke="#2a2420" stroke-width="2.1"/>
<path d="M1113 48.0V358.4" stroke="#3a3a3a" stroke-width="2.1"/>
<path d="M1013.3 118.3V358.4" stroke="#808080" stroke-width="2"/>
<path d="M728.0 171.9L728.5 171.9L729.0 171.9L729.5 171.9L730.0 171.9L730.5 171.9L731.0 171.9L731.5 171.9L732.0 171.9L732.5 171.9L733.0 171.9L733.5 171.9L734.0 171.9L734.5 171.9L735.0 171.9L735.5 171.9L736.0 171.9L736.5 171.9L737.0 171.9L737.5 171.9L738.0 171.9L738.5 171.9L739.0 171.9L739.5 171.9L740.0 171.9L740.5 171.9L741.0 171.9L741.5 171.9L742.0 171.9L742.5 171.9L743.0 171.9L743.5 171.9L744.0 171.9L744.5 171.9L745.0 171.9L745.5 171.9L746.0 171.9L746.5 171.9L747.0 171.9L747.5 171.9L748.0 171.9L748.5 171.9L749.0 171.9L749.5 171.9L750.0 171.9L750.5 171.9L751.0 171.9L751.5 171.9L752.0 171.9L752.5 171.9L753.0 171.9L753.5 171.9L754.0 171.9L754.5 171.9L755.0 171.9L755.5 171.9L756.0 171.9L756.5 171.9L757.0 171.9L757.5 171.9L758.0 171.9L758.5 171.9L759.0 171.9L759.5 171.9L760.0 171.9L760.5 171.9L761.0 171.9L761.5 171.9L762.0 171.9L762.5 171.9L763.0 171.9L763.5 171.9L764.0 171.9L764.5 171.9L765.0 171.9L765.5 171.9L766.0 171.9L766.5 171.9L767.0 171.9L767.5 171.9L768.0 171.9L768.5 171.9L769.0 171.9L769.5 171.9L770.0 171.9L770.5 171.9L771.0 171.9L771.5 171.9L772.0 171.9L772.5 171.9L773.0 171.9L773.5 171.9L774.0 171.9L774.5 171.9L775.0 171.9L775.5 171.9L776.0 171.9L776.5 171.9L777.0 171.9L777.5 171.9L778.0 171.9L778.5 171.9L779.0 171.9L779.5 171.9L780.0 171.9L780.5 171.8L781.0 171.8L781.5 171.8L782.0 171.8L782.5 171.8L783.0 171.8L783.5 171.8L784.0 171.8L784.5 171.8L785.0 171.8L785.5 171.8L786.0 171.7L786.5 171.7L787.0 171.7L787.5 171.7L788.0 171.7L788.5 171.7L789.0 171.7L789.5 171.7L790.0 171.6L790.5 171.6L791.0 171.6L791.5 171.6L792.0 171.6L792.5 171.6L793.0 171.6L793.5 171.5L794.0 171.5L794.5 171.5L795.0 171.5L795.5 171.5L796.0 171.5L796.5 171.5L797.0 171.4L797.5 171.4L798.0 171.4L798.5 171.4L799.0 171.4L799.5 171.4L800.0 171.3L800.5 171.3L801.0 171.3L801.5 171.3L802.0 171.3L802.5 171.2L803.0 171.2L803.5 171.2L804.0 171.1L804.5 171.1L805.0 171.1L805.5 171.0L806.0 171.0L806.5 171.0L807.0 170.9L807.5 170.9L808.0 170.8L808.5 170.8L809.0 170.8L809.5 170.7L810.0 170.7L810.5 170.6L811.0 170.6L811.5 170.5L812.0 170.4L812.5 170.4L813.0 170.3L813.5 170.2L814.0 170.2L814.5 170.1L815.0 170.0L815.5 169.9L816.0 169.8L816.5 169.6L817.0 169.5L817.5 169.4L818.0 169.2L818.5 169.1L819.0 168.9L819.5 168.7L820.0 168.5L820.5 168.2L821.0 168.0L821.5 167.7L822.0 167.4L822.5 167.1L823.0 166.8L823.5 166.4L824.0 166.1L824.5 165.7L825.0 165.3L825.5 164.9L826.0 164.4L826.5 164.0L827.0 163.6L827.5 163.2L828.0 162.7L828.5 162.3L829.0 161.9L829.5 161.4L830.0 160.9L830.5 160.5L831.0 159.9L831.5 159.4L832.0 158.9L832.5 158.3L833.0 157.9L833.5 157.5L834.0 157.1L834.5 156.9L835.0 156.6L835.5 156.4L836.0 156.1L836.5 155.9L837.0 155.8L837.5 155.7L838.0 155.6L838.5 155.7L839.0 155.7L839.5 155.7L840.0 155.8L840.5 155.9L841.0 156.0L841.5 156.1L842.0 156.2L842.5 156.3L843.0 156.3L843.5 156.4L844.0 156.5L844.5 156.6L845.0 156.8L845.5 156.9L846.0 157.0L846.5 157.1L847.0 157.2L847.5 157.3L848.0 157.5L848.5 157.6L849.0 157.7L849.5 157.8L850.0 157.9L850.5 158.0L851.0 158.1L851.5 158.2L852.0 158.3L852.5 158.4L853.0 158.5L853.5 158.6L854.0 158.8L854.5 158.9L855.0 159.0L855.5 159.1L856.0 159.2L856.5 159.3L857.0 159.4L857.5 159.5L858.0 159.6L858.5 159.7L859.0 159.8L859.5 159.9L860.0 159.9L860.5 160.0L861.0 160.1L861.5 160.2L862.0 160.3L862.5 160.3L863.0 160.4L863.5 160.4L864.0 160.5L864.5 160.6L865.0 160.6L865.5 160.7L866.0 160.7L866.5 160.8L867.0 160.8L867.5 160.9L868.0 160.9L868.5 161.0L869.0 161.0L869.5 161.0L870.0 161.1L870.5 161.1L871.0 161.1L871.5 161.2L872.0 161.2L872.5 161.2L873.0 161.2L873.5 161.3L874.0 161.3L874.5 161.3L875.0 161.3L875.5 161.3L876.0 161.4L876.5 161.4L877.0 161.4L877.5 161.4L878.0 161.4L878.5 161.5L879.0 161.5L879.5 161.5L880.0 161.5L880.5 161.5L881.0 161.6L881.5 161.6L882.0 161.6L882.5 161.6L883.0 161.6L883.5 161.6L884.0 161.6L884.5 161.7L885.0 161.7L885.5 161.7L886.0 161.7L886.5 161.7L887.0 161.7L887.5 161.7L888.0 161.8L888.5 161.8L889.0 161.8L889.5 161.8L890.0 161.8L890.5 161.8L891.0 161.8L891.5 161.9L892.0 161.9L892.5 161.9L893.0 161.9L893.5 161.9L894.0 161.9L894.5 161.9L895.0 161.9L895.5 161.9L896.0 162.0L896.5 162.0L897.0 162.0L897.5 162.0L898.0 162.0L898.5 162.0L899.0 162.0L899.5 162.0L900.0 162.0L900.5 162.0L901.0 162.0L901.5 162.0L902.0 162.0L902.5 162.0L903.0 162.0L903.5 162.0L904.0 162.0L904.5 162.0L905.0 162.0L905.5 162.0L906.0 162.0L906.5 162.0L907.0 162.0L907.5 162.0L908.0 162.0L908.5 162.0L909.0 161.9L909.5 161.9L910.0 161.9L910.5 161.9L911.0 161.9L911.5 161.9L912.0 161.9L912.5 161.9L913.0 161.9L913.5 161.9L914.0 161.9L914.5 161.9L915.0 161.9L915.5 161.9L916.0 161.9L916.5 161.9L917.0 161.9L917.5 161.8L918.0 161.8L918.5 161.8L919.0 161.8L919.5 161.8L920.0 161.8L920.5 161.8L921.0 161.8L921.5 161.8L922.0 161.8L922.5 161.8L923.0 161.8L923.5 161.7L924.0 161.7L924.5 161.7L925.0 161.7L925.5 161.7L926.0 161.7L926.5 161.7L927.0 161.7L927.5 161.7L928.0 161.7L928.5 161.7L929.0 161.6L929.5 161.6L930.0 161.6L930.5 161.6L931.0 161.6L931.5 161.6L932.0 161.6L932.5 161.6L933.0 161.6L933.5 161.5L934.0 161.5L934.5 161.5L935.0 161.5L935.5 161.5L936.0 161.5L936.5 161.4L937.0 161.4L937.5 161.4L938.0 161.4L938.5 161.4L939.0 161.3L939.5 161.3L940.0 161.3L940.5 161.3L941.0 161.2L941.5 161.2L942.0 161.2L942.5 161.2L943.0 161.1L943.5 161.1L944.0 161.1L944.5 161.1L945.0 161.0L945.5 161.0L946.0 161.0L946.5 161.0L947.0 160.9L947.5 160.9L948.0 160.9L948.5 160.8L949.0 160.8L949.5 160.8L950.0 160.8L950.5 160.7L951.0 160.7L951.5 160.7L952.0 160.6L952.5 160.6L953.0 160.6L953.5 160.5L954.0 160.5L954.5 160.5L955.0 160.4L955.5 160.4L956.0 160.4L956.5 160.3L957.0 160.3L957.5 160.2L958.0 160.2L958.5 160.1L959.0 160.1L959.5 160.1L960.0 160.0L960.5 160.0L961.0 159.9L961.5 159.9L962.0 159.8L962.5 159.8L963.0 159.7L963.5 159.7L964.0 159.6L964.5 159.6L965.0 159.5L965.5 159.5L966.0 159.4L966.5 159.3L967.0 159.3L967.5 159.2L968.0 159.1L968.5 159.1L969.0 159.0L969.5 158.9L970.0 158.9L970.5 158.8L971.0 158.7L971.5 158.6L972.0 158.6L972.5 158.5L973.0 158.4L973.5 158.3L974.0 158.2L974.5 158.1L975.0 158.0L975.5 157.9L976.0 157.8L976.5 157.7L977.0 157.6L977.5 157.5L978.0 157.4L978.5 157.3L979.0 157.1L979.5 157.0L980.0 156.9L980.5 156.7L981.0 156.6L981.5 156.5L982.0 156.3L982.5 156.2L983.0 156.1L983.5 156.0L984.0 155.8L984.5 155.7L985.0 155.6L985.5 155.5L986.0 155.3L986.5 155.2L987.0 155.0L987.5 154.9L988.0 154.7L988.5 154.5L989.0 154.2L989.5 153.9L990.0 153.6L990.5 153.3L991.0 153.0L991.5 152.7L992.0 152.5L992.5 152.4L993.0 152.3L993.5 152.4L994.0 152.4L994.5 152.5L995.0 152.6L995.5 152.7L996.0 152.8L996.5 153.0L997.0 153.4L997.5 154.0L998.0 154.6L998.5 155.2L999.0 155.8L999.5 156.3L1000.0 156.9L1000.5 157.5L1001.0 158.1L1001.5 158.7L1002.0 159.2L1002.5 159.7L1003.0 160.2L1003.5 160.7L1004.0 161.2L1004.5 161.6L1005.0 162.1L1005.5 162.5L1006.0 163.0L1006.5 163.4L1007.0 163.8L1007.5 164.3L1008.0 164.7L1008.5 165.1L1009.0 165.5L1009.5 165.8L1010.0 166.1L1010.5 166.4L1011.0 166.6L1011.5 166.9L1012.0 167.1L1012.5 167.3L1013.0 167.5L1013.5 167.7L1014.0 167.9L1014.5 168.1L1015.0 168.3L1015.5 168.5L1016.0 168.7L1016.5 168.9L1017.0 169.1L1017.5 169.3L1018.0 169.5L1018.5 169.7L1019.0 169.9L1019.5 170.0L1020.0 170.2L1020.5 170.3L1021.0 170.4L1021.5 170.5L1022.0 170.6L1022.5 170.8L1023.0 170.9L1023.5 171.0L1024.0 171.1L1024.5 171.2L1025.0 171.3L1025.5 171.4L1026.0 171.5L1026.5 171.6L1027.0 171.6L1027.5 171.7L1028.0 171.8L1028.5 171.9L1029.0 171.9L1029.5 172.0L1030.0 172.1L1030.5 172.1L1031.0 172.2L1031.5 172.3L1032.0 172.3L1032.5 172.4L1033.0 172.5L1033.5 172.5L1034.0 172.6L1034.5 172.6L1035.0 172.7L1035.5 172.8L1036.0 172.8L1036.5 172.9L1037.0 172.9L1037.5 173.0L1038.0 173.0L1038.5 173.0L1039.0 173.1L1039.5 173.1L1040.0 173.1L1040.5 173.2L1041.0 173.2L1041.5 173.2L1042.0 173.2L1042.5 173.2L1043.0 173.3L1043.5 173.3L1044.0 173.3L1044.5 173.4L1045.0 173.4L1045.5 173.4L1046.0 173.4L1046.5 173.5L1047.0 173.5L1047.5 173.5L1048.0 173.6L1048.5 173.6L1049.0 173.7L1049.5 173.7L1050.0 173.7L1050.5 173.8L1051.0 173.8L1051.5 173.9L1052.0 173.9L1052.5 173.9L1053.0 174.0L1053.5 174.0L1054.0 174.1L1054.5 174.1L1055.0 174.2L1055.5 174.3L1056.0 174.3L1056.5 174.4L1057.0 174.4L1057.5 174.5L1058.0 174.6L1058.5 174.6L1059.0 174.7L1059.5 174.8L1060.0 174.9L1060.5 175.0L1061.0 175.0L1061.5 175.1L1062.0 175.2L1062.5 175.3L1063.0 175.4L1063.5 175.5L1064.0 175.6L1064.5 175.7L1065.0 175.9L1065.5 176.0L1066.0 176.1L1066.5 176.2L1067.0 176.4L1067.5 176.5L1068.0 176.7L1068.5 176.9L1069.0 177.0L1069.5 177.2L1070.0 177.4L1070.5 177.6L1071.0 177.8L1071.5 178.0L1072.0 178.2L1072.5 178.5L1073.0 178.7L1073.5 179.0L1074.0 179.3L1074.5 179.6L1075.0 179.9L1075.5 180.3L1076.0 180.6L1076.5 181.0L1077.0 181.4L1077.5 181.8L1078.0 182.3L1078.5 182.8L1079.0 183.3L1079.5 183.9L1080.0 184.5L1080.5 185.1L1081.0 185.8L1081.5 186.5L1082.0 187.3L1082.5 188.1L1083.0 189.0L1083.5 190.0L1084.0 191.0L1084.5 192.1L1085.0 193.3L1085.5 194.6L1086.0 196.0L1086.5 197.5L1087.0 199.1L1087.5 200.9L1088.0 202.8L1088.5 204.8L1089.0 207.0L1089.5 209.3L1090.0 211.8L1090.5 214.5L1091.0 217.3L1091.5 220.4L1092.0 223.5L1092.5 226.9L1093.0 230.3L1093.5 233.9L1094.0 237.4L1094.5 241.0L1095.0 244.5L1095.5 247.9L1096.0 251.1L1096.5 253.9L1097.0 256.4L1097.5 258.4L1098.0 259.9L1098.5 261.0L1099.0 261.5L1099.5 261.6L1100.0 261.3L1100.5 260.6L1101.0 259.4L1101.5 257.6L1102.0 255.4L1102.5 252.8L1103.0 249.8L1103.5 246.6L1104.0 243.1L1104.5 239.6L1105.0 236.0L1105.5 232.4L1106.0 228.9L1106.5 225.5L1107.0 222.2L1107.5 219.1L1108.0 216.2L1108.5 213.4L1109.0 210.8L1109.5 208.3L1110.0 206.1L1110.5 203.9L1111.0 202.0L1111.5 200.2L1112.0 198.5L1112.5 196.9L1113.0 195.4L1113.5 194.1L1114.0 192.8L1114.5 191.7L1115.0 190.6L1115.5 189.6L1116.0 188.6L1116.5 187.8L1117.0 187.0L1117.5 186.2L1118.0 185.5L1118.5 184.8L1119.0 184.2L1119.5 183.6L1120.0 183.1L1120.5 182.6L1121.0 182.1L1121.5 181.7L1122.0 181.2L1122.5 180.9L1123.0 180.5L1123.5 180.1L1124.0 179.8L1124.5 179.5L1125.0 179.2L1125.5 178.9L1126.0 178.6L1126.5 178.4L1127.0 178.2L1127.5 177.9L1128.0 177.7L1128.5 177.5L1129.0 177.3L1129.5 177.1L1130.0 177.0L1130.5 176.8L1131.0 176.6L1131.5 176.5L1132.0 176.3L1132.5 176.2L1133.0 176.1L1133.5 175.9L1134.0 175.8L1134.5 175.7L1135.0 175.6L1135.5 175.5L1136.0 175.4L1136.5 175.3L1137.0 175.2L1137.5 175.1L1138.0 175.0L1138.5 174.9L1139.0 174.8L1139.5 174.8L1140.0 174.7L1140.5 174.6L1141.0 174.5L1141.5 174.5L1142.0 174.4L1142.5 174.4L1143.0 174.3L1143.5 174.2L1144.0 174.2L1144.5 174.1L1145.0 174.1L1145.5 174.0L1146.0 174.0L1146.5 173.9L1147.0 173.9L1147.5 173.8L1148.0 173.8L1148.5 173.8L1149.0 173.7L1149.5 173.7L1150.0 173.6L1150.5 173.6L1151.0 173.6L1151.5 173.5L1152.0 173.5L1152.5 173.5L1153.0 173.4L1153.5 173.4L1154.0 173.4L1154.5 173.3L1155.0 173.3L1155.5 173.3L1156.0 173.3L1156.5 173.2L1157.0 173.2L1157.5 173.2L1158.0 173.2L1158.5 173.1L1159.0 173.1L1159.5 173.1L1160.0 173.1L1160.5 173.1L1161.0 173.0L1161.5 173.0L1162.0 173.0L1162.5 173.0L1163.0 173.0L1163.5 172.9L1164.0 172.9L1164.5 172.9L1165.0 172.9L1165.5 172.9L1166.0 172.9L1166.5 172.8L1167.0 172.8L1167.5 172.8L1168.0 172.8L1168.5 172.8L1169.0 172.8L1169.5 172.8L1170.0 172.7L1170.5 172.7L1171.0 172.7L1171.5 172.7L1172.0 172.7L1172.5 172.7L1173.0 172.7L1173.5 172.7L1174.0 172.6L1174.5 172.6L1175.0 172.6L1175.5 172.6L1176.0 172.6L1176.5 172.6L1177.0 172.6L1177.5 172.6L1178.0 172.6L1178.5 172.6L1179.0 172.5L1179.5 172.5L1180.0 172.5L1180.5 172.5L1181.0 172.5L1181.5 172.5L1182.0 172.5L1182.5 172.5L1183.0 172.5L1183.5 172.5L1184.0 172.5L1184.5 172.5L1185.0 172.5L1185.5 172.4L1186.0 172.4L1186.5 172.4L1187.0 172.4L1187.5 172.4L1188.0 172.4L1188.5 172.4L1189.0 172.4L1189.5 172.4L1190.0 172.4L1190.5 172.4L1191.0 172.4L1191.5 172.4L1192.0 172.4L1192.5 172.4L1193.0 172.4L1193.5 172.4L1194.0 172.3L1194.5 172.3L1195.0 172.3L1195.5 172.3L1196.0 172.3L1196.5 172.3L1197.0 172.3L1197.5 172.3L1198.0 172.3L1198.5 172.3L1199.0 172.3L1199.5 172.3L1200.0 172.3L1200.5 172.3L1201.0 172.3L1201.5 172.3L1202.0 172.3L1202.5 172.3L1203.0 172.3L1203.5 172.3L1204.0 172.3" stroke="#141414" stroke-width="2.5" fill="none" stroke-linejoin="round"/>
<path d="M728.0 171.9L728.5 171.9L729.0 171.9L729.5 171.9L730.0 171.9L730.5 171.9L731.0 171.9L731.5 171.9L732.0 171.9L732.5 171.9L733.0 171.9L733.5 171.9L734.0 171.9L734.5 171.9L735.0 171.9L735.5 171.9L736.0 171.9L736.5 171.9L737.0 171.9L737.5 171.9L738.0 171.9L738.5 171.9L739.0 171.9L739.5 171.9L740.0 171.9L740.5 171.9L741.0 171.9L741.5 171.9L742.0 171.9L742.5 171.9L743.0 171.9L743.5 171.9L744.0 171.9L744.5 171.9L745.0 171.9L745.5 171.9L746.0 171.9L746.5 171.9L747.0 171.9L747.5 171.9L748.0 171.9L748.5 171.9L749.0 171.9L749.5 171.9L750.0 171.9L750.5 171.9L751.0 171.9L751.5 171.9L752.0 171.9L752.5 171.9L753.0 171.9L753.5 171.9L754.0 171.9L754.5 171.9L755.0 171.9L755.5 171.9L756.0 171.9L756.5 172.0L757.0 172.0L757.5 172.0L758.0 172.0L758.5 172.0L759.0 172.0L759.5 172.0L760.0 172.0L760.5 171.9L761.0 171.9L761.5 171.9L762.0 171.9L762.5 171.9L763.0 171.9L763.5 171.9L764.0 171.9L764.5 171.8L765.0 171.8L765.5 171.8L766.0 171.8L766.5 171.8L767.0 171.7L767.5 171.7L768.0 171.7L768.5 171.6L769.0 171.6L769.5 171.6L770.0 171.5L770.5 171.5L771.0 171.5L771.5 171.5L772.0 171.4L772.5 171.4L773.0 171.4L773.5 171.3L774.0 171.3L774.5 171.3L775.0 171.3L775.5 171.2L776.0 171.2L776.5 171.2L777.0 171.2L777.5 171.1L778.0 171.1L778.5 171.1L779.0 171.1L779.5 171.0L780.0 171.0L780.5 171.0L781.0 171.0L781.5 170.9L782.0 170.9L782.5 170.9L783.0 170.9L783.5 170.8L784.0 170.8L784.5 170.8L785.0 170.8L785.5 170.7L786.0 170.7L786.5 170.7L787.0 170.6L787.5 170.6L788.0 170.6L788.5 170.6L789.0 170.5L789.5 170.5L790.0 170.5L790.5 170.4L791.0 170.4L791.5 170.4L792.0 170.3L792.5 170.3L793.0 170.3L793.5 170.2L794.0 170.2L794.5 170.1L795.0 170.1L795.5 170.1L796.0 170.0L796.5 170.0L797.0 169.9L797.5 169.9L798.0 169.9L798.5 169.8L799.0 169.8L799.5 169.7L800.0 169.7L800.5 169.6L801.0 169.6L801.5 169.5L802.0 169.5L802.5 169.4L803.0 169.4L803.5 169.3L804.0 169.3L804.5 169.2L805.0 169.1L805.5 169.1L806.0 169.0L806.5 169.0L807.0 168.9L807.5 168.8L808.0 168.8L808.5 168.7L809.0 168.6L809.5 168.6L810.0 168.5L810.5 168.4L811.0 168.3L811.5 168.2L812.0 168.1L812.5 168.0L813.0 167.9L813.5 167.8L814.0 167.7L814.5 167.6L815.0 167.5L815.5 167.3L816.0 167.2L816.5 167.1L817.0 167.0L817.5 166.8L818.0 166.7L818.5 166.5L819.0 166.4L819.5 166.2L820.0 166.1L820.5 165.9L821.0 165.7L821.5 165.6L822.0 165.3L822.5 165.1L823.0 164.9L823.5 164.6L824.0 164.3L824.5 163.9L825.0 163.5L825.5 163.1L826.0 162.6L826.5 162.1L827.0 161.5L827.5 160.8L828.0 160.0L828.5 159.1L829.0 158.3L829.5 157.3L830.0 156.3L830.5 155.3L831.0 154.4L831.5 153.6L832.0 152.7L832.5 152.0L833.0 151.3L833.5 150.9L834.0 150.5L834.5 150.2L835.0 149.9L835.5 149.7L836.0 149.5L836.5 149.3L837.0 149.3L837.5 149.3L838.0 149.3L838.5 149.4L839.0 149.5L839.5 149.6L840.0 149.7L840.5 149.8L841.0 149.9L841.5 150.0L842.0 150.1L842.5 150.2L843.0 150.4L843.5 150.5L844.0 150.7L844.5 150.9L845.0 151.1L845.5 151.3L846.0 151.5L846.5 151.7L847.0 151.8L847.5 152.0L848.0 152.2L848.5 152.4L849.0 152.5L849.5 152.7L850.0 152.8L850.5 153.0L851.0 153.1L851.5 153.3L852.0 153.5L852.5 153.6L853.0 153.7L853.5 153.9L854.0 154.0L854.5 154.2L855.0 154.3L855.5 154.4L856.0 154.6L856.5 154.7L857.0 154.9L857.5 155.0L858.0 155.1L858.5 155.3L859.0 155.4L859.5 155.5L860.0 155.6L860.5 155.7L861.0 155.8L861.5 155.9L862.0 156.0L862.5 156.1L863.0 156.2L863.5 156.2L864.0 156.3L864.5 156.4L865.0 156.4L865.5 156.5L866.0 156.6L866.5 156.6L867.0 156.7L867.5 156.7L868.0 156.8L868.5 156.8L869.0 156.9L869.5 156.9L870.0 156.9L870.5 157.0L871.0 157.0L871.5 157.0L872.0 157.0L872.5 157.1L873.0 157.1L873.5 157.1L874.0 157.1L874.5 157.2L875.0 157.2L875.5 157.2L876.0 157.2L876.5 157.3L877.0 157.3L877.5 157.3L878.0 157.3L878.5 157.3L879.0 157.4L879.5 157.4L880.0 157.4L880.5 157.4L881.0 157.4L881.5 157.5L882.0 157.5L882.5 157.5L883.0 157.5L883.5 157.5L884.0 157.5L884.5 157.5L885.0 157.5L885.5 157.6L886.0 157.6L886.5 157.6L887.0 157.6L887.5 157.6L888.0 157.6L888.5 157.6L889.0 157.6L889.5 157.6L890.0 157.6L890.5 157.7L891.0 157.7L891.5 157.7L892.0 157.7L892.5 157.7L893.0 157.7L893.5 157.7L894.0 157.7L894.5 157.7L895.0 157.7L895.5 157.7L896.0 157.7L896.5 157.7L897.0 157.7L897.5 157.8L898.0 157.8L898.5 157.8L899.0 157.8L899.5 157.8L900.0 157.8L900.5 157.8L901.0 157.8L901.5 157.8L902.0 157.8L902.5 157.8L903.0 157.8L903.5 157.8L904.0 157.8L904.5 157.8L905.0 157.8L905.5 157.8L906.0 157.8L906.5 157.8L907.0 157.8L907.5 157.7L908.0 157.7L908.5 157.7L909.0 157.7L909.5 157.7L910.0 157.7L910.5 157.7L911.0 157.7L911.5 157.7L912.0 157.7L912.5 157.7L913.0 157.7L913.5 157.7L914.0 157.7L914.5 157.7L915.0 157.7L915.5 157.7L916.0 157.7L916.5 157.7L917.0 157.7L917.5 157.6L918.0 157.6L918.5 157.6L919.0 157.6L919.5 157.6L920.0 157.6L920.5 157.6L921.0 157.6L921.5 157.6L922.0 157.6L922.5 157.6L923.0 157.6L923.5 157.6L924.0 157.5L924.5 157.5L925.0 157.5L925.5 157.5L926.0 157.5L926.5 157.5L927.0 157.5L927.5 157.5L928.0 157.5L928.5 157.5L929.0 157.5L929.5 157.4L930.0 157.4L930.5 157.4L931.0 157.4L931.5 157.4L932.0 157.4L932.5 157.4L933.0 157.4L933.5 157.3L934.0 157.3L934.5 157.3L935.0 157.3L935.5 157.3L936.0 157.3L936.5 157.2L937.0 157.2L937.5 157.2L938.0 157.2L938.5 157.2L939.0 157.1L939.5 157.1L940.0 157.1L940.5 157.1L941.0 157.0L941.5 157.0L942.0 157.0L942.5 157.0L943.0 156.9L943.5 156.9L944.0 156.9L944.5 156.8L945.0 156.8L945.5 156.8L946.0 156.8L946.5 156.7L947.0 156.7L947.5 156.7L948.0 156.6L948.5 156.6L949.0 156.6L949.5 156.5L950.0 156.5L950.5 156.5L951.0 156.4L951.5 156.4L952.0 156.4L952.5 156.3L953.0 156.3L953.5 156.3L954.0 156.2L954.5 156.2L955.0 156.2L955.5 156.1L956.0 156.1L956.5 156.0L957.0 156.0L957.5 155.9L958.0 155.9L958.5 155.8L959.0 155.8L959.5 155.7L960.0 155.7L960.5 155.6L961.0 155.5L961.5 155.4L962.0 155.4L962.5 155.3L963.0 155.2L963.5 155.1L964.0 155.0L964.5 154.9L965.0 154.8L965.5 154.6L966.0 154.5L966.5 154.4L967.0 154.3L967.5 154.2L968.0 154.0L968.5 153.9L969.0 153.8L969.5 153.7L970.0 153.5L970.5 153.4L971.0 153.3L971.5 153.1L972.0 153.0L972.5 152.8L973.0 152.7L973.5 152.5L974.0 152.4L974.5 152.2L975.0 152.1L975.5 151.9L976.0 151.8L976.5 151.6L977.0 151.4L977.5 151.3L978.0 151.1L978.5 150.9L979.0 150.8L979.5 150.6L980.0 150.4L980.5 150.2L981.0 150.1L981.5 149.9L982.0 149.7L982.5 149.5L983.0 149.4L983.5 149.2L984.0 149.0L984.5 148.8L985.0 148.6L985.5 148.4L986.0 148.2L986.5 147.9L987.0 147.7L987.5 147.4L988.0 147.0L988.5 146.7L989.0 146.3L989.5 145.9L990.0 145.5L990.5 145.1L991.0 144.8L991.5 144.5L992.0 144.2L992.5 143.9L993.0 143.7L993.5 143.5L994.0 143.5L994.5 143.5L995.0 143.6L995.5 143.8L996.0 144.1L996.5 144.4L997.0 144.7L997.5 145.0L998.0 145.4L998.5 145.9L999.0 146.5L999.5 147.2L1000.0 147.9L1000.5 148.7L1001.0 149.5L1001.5 150.4L1002.0 151.4L1002.5 152.5L1003.0 153.7L1003.5 154.8L1004.0 155.8L1004.5 156.8L1005.0 157.8L1005.5 158.7L1006.0 159.6L1006.5 160.4L1007.0 161.2L1007.5 161.9L1008.0 162.5L1008.5 163.1L1009.0 163.7L1009.5 164.2L1010.0 164.7L1010.5 165.1L1011.0 165.6L1011.5 166.0L1012.0 166.4L1012.5 166.8L1013.0 167.1L1013.5 167.5L1014.0 167.8L1014.5 168.0L1015.0 168.3L1015.5 168.5L1016.0 168.7L1016.5 168.9L1017.0 169.1L1017.5 169.3L1018.0 169.5L1018.5 169.6L1019.0 169.8L1019.5 169.9L1020.0 170.0L1020.5 170.2L1021.0 170.3L1021.5 170.4L1022.0 170.5L1022.5 170.6L1023.0 170.7L1023.5 170.8L1024.0 170.9L1024.5 171.0L1025.0 171.1L1025.5 171.2L1026.0 171.3L1026.5 171.4L1027.0 171.5L1027.5 171.6L1028.0 171.7L1028.5 171.8L1029.0 171.9L1029.5 172.0L1030.0 172.1L1030.5 172.2L1031.0 172.3L1031.5 172.4L1032.0 172.5L1032.5 172.6L1033.0 172.8L1033.5 172.9L1034.0 173.0L1034.5 173.2L1035.0 173.3L1035.5 173.4L1036.0 173.5L1036.5 173.7L1037.0 173.8L1037.5 173.9L1038.0 174.0L1038.5 174.0L1039.0 174.1L1039.5 174.2L1040.0 174.2L1040.5 174.3L1041.0 174.3L1041.5 174.4L1042.0 174.4L1042.5 174.5L1043.0 174.5L1043.5 174.5L1044.0 174.6L1044.5 174.7L1045.0 174.7L1045.5 174.8L1046.0 174.8L1046.5 174.9L1047.0 174.9L1047.5 175.0L1048.0 175.1L1048.5 175.1L1049.0 175.2L1049.5 175.3L1050.0 175.4L1050.5 175.4L1051.0 175.5L1051.5 175.6L1052.0 175.7L1052.5 175.8L1053.0 175.9L1053.5 175.9L1054.0 176.0L1054.5 176.1L1055.0 176.2L1055.5 176.4L1056.0 176.5L1056.5 176.6L1057.0 176.7L1057.5 176.8L1058.0 176.9L1058.5 177.1L1059.0 177.2L1059.5 177.4L1060.0 177.5L1060.5 177.7L1061.0 177.8L1061.5 178.0L1062.0 178.2L1062.5 178.3L1063.0 178.5L1063.5 178.7L1064.0 178.9L1064.5 179.1L1065.0 179.4L1065.5 179.6L1066.0 179.8L1066.5 180.1L1067.0 180.3L1067.5 180.6L1068.0 180.9L1068.5 181.2L1069.0 181.5L1069.5 181.9L1070.0 182.2L1070.5 182.6L1071.0 183.0L1071.5 183.4L1072.0 183.8L1072.5 184.3L1073.0 184.8L1073.5 185.3L1074.0 185.8L1074.5 186.4L1075.0 187.0L1075.5 187.6L1076.0 188.3L1076.5 189.0L1077.0 189.7L1077.5 190.5L1078.0 191.4L1078.5 192.3L1079.0 193.2L1079.5 194.3L1080.0 195.4L1080.5 196.6L1081.0 197.8L1081.5 199.2L1082.0 200.6L1082.5 202.1L1083.0 203.8L1083.5 205.6L1084.0 207.5L1084.5 209.6L1085.0 211.8L1085.5 214.2L1086.0 216.8L1086.5 219.5L1087.0 222.5L1087.5 225.8L1088.0 229.2L1088.5 233.0L1089.0 237.0L1089.5 241.4L1090.0 246.0L1090.5 251.0L1091.0 256.3L1091.5 261.9L1092.0 267.9L1092.5 274.1L1093.0 280.6L1093.5 287.3L1094.0 294.1L1094.5 301.0L1095.0 307.7L1095.5 314.3L1096.0 320.5L1096.5 326.1L1097.0 331.1L1097.5 335.4L1098.0 338.7L1098.5 341.0L1099.0 342.4L1099.5 342.9L1100.0 342.7L1100.5 341.7L1101.0 339.7L1101.5 336.8L1102.0 332.9L1102.5 328.2L1103.0 322.8L1103.5 316.8L1104.0 310.4L1104.5 303.7L1105.0 296.8L1105.5 290.0L1106.0 283.3L1106.5 276.7L1107.0 270.3L1107.5 264.3L1108.0 258.5L1108.5 253.1L1109.0 248.0L1109.5 243.2L1110.0 238.7L1110.5 234.6L1111.0 230.7L1111.5 227.1L1112.0 223.8L1112.5 220.7L1113.0 217.8L1113.5 215.2L1114.0 212.7L1114.5 210.4L1115.0 208.3L1115.5 206.3L1116.0 204.5L1116.5 202.8L1117.0 201.2L1117.5 199.7L1118.0 198.3L1118.5 197.0L1119.0 195.8L1119.5 194.7L1120.0 193.6L1120.5 192.7L1121.0 191.7L1121.5 190.9L1122.0 190.0L1122.5 189.3L1123.0 188.5L1123.5 187.8L1124.0 187.2L1124.5 186.6L1125.0 186.0L1125.5 185.5L1126.0 185.0L1126.5 184.5L1127.0 184.0L1127.5 183.6L1128.0 183.1L1128.5 182.7L1129.0 182.4L1129.5 182.0L1130.0 181.7L1130.5 181.3L1131.0 181.0L1131.5 180.7L1132.0 180.5L1132.5 180.2L1133.0 179.9L1133.5 179.7L1134.0 179.4L1134.5 179.2L1135.0 179.0L1135.5 178.8L1136.0 178.6L1136.5 178.4L1137.0 178.2L1137.5 178.0L1138.0 177.9L1138.5 177.7L1139.0 177.6L1139.5 177.4L1140.0 177.3L1140.5 177.1L1141.0 177.0L1141.5 176.9L1142.0 176.7L1142.5 176.6L1143.0 176.5L1143.5 176.4L1144.0 176.3L1144.5 176.2L1145.0 176.1L1145.5 176.0L1146.0 175.9L1146.5 175.8L1147.0 175.7L1147.5 175.6L1148.0 175.5L1148.5 175.5L1149.0 175.4L1149.5 175.3L1150.0 175.2L1150.5 175.2L1151.0 175.1L1151.5 175.0L1152.0 175.0L1152.5 174.9L1153.0 174.8L1153.5 174.8L1154.0 174.7L1154.5 174.7L1155.0 174.6L1155.5 174.6L1156.0 174.5L1156.5 174.5L1157.0 174.4L1157.5 174.4L1158.0 174.3L1158.5 174.3L1159.0 174.2L1159.5 174.2L1160.0 174.2L1160.5 174.1L1161.0 174.1L1161.5 174.0L1162.0 174.0L1162.5 174.0L1163.0 173.9L1163.5 173.9L1164.0 173.9L1164.5 173.8L1165.0 173.8L1165.5 173.8L1166.0 173.7L1166.5 173.7L1167.0 173.7L1167.5 173.7L1168.0 173.6L1168.5 173.6L1169.0 173.6L1169.5 173.5L1170.0 173.5L1170.5 173.5L1171.0 173.5L1171.5 173.4L1172.0 173.4L1172.5 173.4L1173.0 173.4L1173.5 173.4L1174.0 173.3L1174.5 173.3L1175.0 173.3L1175.5 173.3L1176.0 173.3L1176.5 173.2L1177.0 173.2L1177.5 173.2L1178.0 173.2L1178.5 173.2L1179.0 173.1L1179.5 173.1L1180.0 173.1L1180.5 173.1L1181.0 173.1L1181.5 173.1L1182.0 173.0L1182.5 173.0L1183.0 173.0L1183.5 173.0L1184.0 173.0L1184.5 173.0L1185.0 173.0L1185.5 172.9L1186.0 172.9L1186.5 172.9L1187.0 172.9L1187.5 172.9L1188.0 172.9L1188.5 172.9L1189.0 172.9L1189.5 172.8L1190.0 172.8L1190.5 172.8L1191.0 172.8L1191.5 172.8L1192.0 172.8L1192.5 172.8L1193.0 172.8L1193.5 172.8L1194.0 172.8L1194.5 172.7L1195.0 172.7L1195.5 172.7L1196.0 172.7L1196.5 172.7L1197.0 172.7L1197.5 172.7L1198.0 172.7L1198.5 172.7L1199.0 172.7L1199.5 172.7L1200.0 172.6L1200.5 172.6L1201.0 172.6L1201.5 172.6L1202.0 172.6L1202.5 172.6L1203.0 172.6L1203.5 172.6L1204.0 172.6" stroke="#e42630" stroke-width="2.7" fill="none" stroke-linejoin="round"/>
<path d="M728.0 171.9L728.5 171.9L729.0 171.9L729.5 171.9L730.0 171.9L730.5 171.9L731.0 171.9L731.5 171.9L732.0 171.9L732.5 171.9L733.0 171.9L733.5 171.9L734.0 171.9L734.5 171.9L735.0 171.9L735.5 171.9L736.0 171.9L736.5 171.9L737.0 171.9L737.5 171.9L738.0 171.9L738.5 171.9L739.0 171.9L739.5 171.9L740.0 171.9L740.5 171.9L741.0 171.9L741.5 171.9L742.0 171.9L742.5 171.9L743.0 171.9L743.5 171.9L744.0 171.9L744.5 171.9L745.0 171.9L745.5 171.9L746.0 171.9L746.5 171.9L747.0 171.9L747.5 171.9L748.0 171.9L748.5 171.9L749.0 171.9L749.5 171.9L750.0 171.9L750.5 171.9L751.0 171.9L751.5 171.9L752.0 171.9L752.5 171.9L753.0 171.9L753.5 171.9L754.0 171.9L754.5 171.9L755.0 171.9L755.5 171.9L756.0 171.9L756.5 171.9L757.0 171.9L757.5 171.9L758.0 171.9L758.5 171.9L759.0 171.9L759.5 171.9L760.0 171.9L760.5 171.9L761.0 171.9L761.5 171.9L762.0 171.9L762.5 171.9L763.0 171.9L763.5 171.9L764.0 171.9L764.5 171.9L765.0 171.9L765.5 171.9L766.0 171.9L766.5 171.9L767.0 171.9L767.5 171.9L768.0 171.9L768.5 171.9L769.0 171.9L769.5 171.9L770.0 171.9L770.5 171.9L771.0 171.9L771.5 171.9L772.0 171.9L772.5 171.9L773.0 171.9L773.5 171.9L774.0 171.9L774.5 171.9L775.0 171.9L775.5 171.9L776.0 171.9L776.5 171.9L777.0 171.9L777.5 171.9L778.0 171.9L778.5 171.9L779.0 171.9L779.5 171.9L780.0 171.9L780.5 171.9L781.0 171.9L781.5 171.9L782.0 171.9L782.5 171.9L783.0 171.9L783.5 171.9L784.0 171.9L784.5 171.9L785.0 171.9L785.5 171.9L786.0 171.9L786.5 171.9L787.0 171.9L787.5 171.9L788.0 171.9L788.5 171.9L789.0 171.9L789.5 171.9L790.0 171.9L790.5 171.9L791.0 171.9L791.5 171.9L792.0 171.9L792.5 171.9L793.0 171.9L793.5 171.9L794.0 171.9L794.5 171.9L795.0 171.9L795.5 171.9L796.0 171.9L796.5 171.9L797.0 171.9L797.5 171.9L798.0 171.9L798.5 171.9L799.0 171.9L799.5 171.9L800.0 171.9L800.5 171.9L801.0 171.9L801.5 171.9L802.0 171.9L802.5 171.9L803.0 171.9L803.5 171.9L804.0 171.9L804.5 171.9L805.0 171.9L805.5 171.9L806.0 171.9L806.5 171.9L807.0 171.9L807.5 171.9L808.0 171.9L808.5 171.9L809.0 171.9L809.5 171.9L810.0 171.9L810.5 171.9L811.0 171.9L811.5 171.9L812.0 171.9L812.5 171.9L813.0 171.9L813.5 171.9L814.0 171.9L814.5 171.9L815.0 171.9L815.5 171.9L816.0 171.9L816.5 172.0L817.0 172.0L817.5 172.1L818.0 172.2L818.5 172.2L819.0 172.3L819.5 172.4L820.0 172.5L820.5 172.6L821.0 172.7L821.5 172.9L822.0 173.0L822.5 173.1L823.0 173.2L823.5 173.3L824.0 173.4L824.5 173.5L825.0 173.6L825.5 173.7L826.0 173.8L826.5 173.9L827.0 174.0L827.5 174.1L828.0 174.2L828.5 174.3L829.0 174.4L829.5 174.5L830.0 174.6L830.5 174.7L831.0 174.8L831.5 174.9L832.0 175.0L832.5 175.1L833.0 175.1L833.5 175.2L834.0 175.3L834.5 175.4L835.0 175.5L835.5 175.6L836.0 175.7L836.5 175.7L837.0 175.8L837.5 175.9L838.0 176.0L838.5 176.1L839.0 176.2L839.5 176.2L840.0 176.3L840.5 176.4L841.0 176.5L841.5 176.5L842.0 176.6L842.5 176.7L843.0 176.7L843.5 176.8L844.0 176.9L844.5 176.9L845.0 177.0L845.5 177.1L846.0 177.1L846.5 177.2L847.0 177.3L847.5 177.3L848.0 177.4L848.5 177.5L849.0 177.5L849.5 177.6L850.0 177.7L850.5 177.7L851.0 177.8L851.5 177.9L852.0 177.9L852.5 178.0L853.0 178.0L853.5 178.1L854.0 178.1L854.5 178.2L855.0 178.2L855.5 178.3L856.0 178.3L856.5 178.4L857.0 178.4L857.5 178.4L858.0 178.5L858.5 178.5L859.0 178.5L859.5 178.5L860.0 178.5L860.5 178.5L861.0 178.5L861.5 178.5L862.0 178.5L862.5 178.5L863.0 178.5L863.5 178.5L864.0 178.5L864.5 178.5L865.0 178.5L865.5 178.5L866.0 178.5L866.5 178.5L867.0 178.5L867.5 178.5L868.0 178.5L868.5 178.5L869.0 178.5L869.5 178.5L870.0 178.5L870.5 178.5L871.0 178.5L871.5 178.5L872.0 178.5L872.5 178.5L873.0 178.5L873.5 178.5L874.0 178.5L874.5 178.5L875.0 178.5L875.5 178.5L876.0 178.5L876.5 178.5L877.0 178.5L877.5 178.5L878.0 178.5L878.5 178.5L879.0 178.5L879.5 178.5L880.0 178.5L880.5 178.5L881.0 178.5L881.5 178.5L882.0 178.5L882.5 178.5L883.0 178.5L883.5 178.5L884.0 178.5L884.5 178.5L885.0 178.5L885.5 178.5L886.0 178.5L886.5 178.5L887.0 178.5L887.5 178.5L888.0 178.5L888.5 178.5L889.0 178.5L889.5 178.5L890.0 178.5L890.5 178.5L891.0 178.5L891.5 178.5L892.0 178.5L892.5 178.5L893.0 178.5L893.5 178.6L894.0 178.6L894.5 178.6L895.0 178.6L895.5 178.6L896.0 178.6L896.5 178.6L897.0 178.6L897.5 178.6L898.0 178.6L898.5 178.6L899.0 178.6L899.5 178.6L900.0 178.6L900.5 178.6L901.0 178.6L901.5 178.6L902.0 178.6L902.5 178.6L903.0 178.6L903.5 178.6L904.0 178.6L904.5 178.7L905.0 178.7L905.5 178.7L906.0 178.7L906.5 178.7L907.0 178.7L907.5 178.7L908.0 178.7L908.5 178.7L909.0 178.7L909.5 178.8L910.0 178.8L910.5 178.8L911.0 178.8L911.5 178.8L912.0 178.8L912.5 178.8L913.0 178.8L913.5 178.8L914.0 178.9L914.5 178.9L915.0 178.9L915.5 178.9L916.0 178.9L916.5 178.9L917.0 178.9L917.5 178.9L918.0 179.0L918.5 179.0L919.0 179.0L919.5 179.0L920.0 179.0L920.5 179.0L921.0 179.0L921.5 179.0L922.0 179.0L922.5 179.1L923.0 179.1L923.5 179.1L924.0 179.1L924.5 179.1L925.0 179.1L925.5 179.1L926.0 179.1L926.5 179.2L927.0 179.2L927.5 179.2L928.0 179.2L928.5 179.2L929.0 179.2L929.5 179.2L930.0 179.2L930.5 179.2L931.0 179.3L931.5 179.3L932.0 179.3L932.5 179.3L933.0 179.3L933.5 179.3L934.0 179.3L934.5 179.3L935.0 179.4L935.5 179.4L936.0 179.4L936.5 179.4L937.0 179.4L937.5 179.4L938.0 179.4L938.5 179.4L939.0 179.5L939.5 179.5L940.0 179.5L940.5 179.5L941.0 179.5L941.5 179.5L942.0 179.5L942.5 179.5L943.0 179.6L943.5 179.6L944.0 179.6L944.5 179.6L945.0 179.6L945.5 179.6L946.0 179.6L946.5 179.6L947.0 179.6L947.5 179.7L948.0 179.7L948.5 179.7L949.0 179.7L949.5 179.7L950.0 179.7L950.5 179.7L951.0 179.7L951.5 179.7L952.0 179.7L952.5 179.7L953.0 179.7L953.5 179.7L954.0 179.8L954.5 179.8L955.0 179.8L955.5 179.8L956.0 179.8L956.5 179.8L957.0 179.8L957.5 179.8L958.0 179.8L958.5 179.8L959.0 179.8L959.5 179.8L960.0 179.8L960.5 179.8L961.0 179.8L961.5 179.8L962.0 179.9L962.5 179.9L963.0 179.9L963.5 179.9L964.0 179.9L964.5 179.9L965.0 179.9L965.5 179.9L966.0 179.9L966.5 179.9L967.0 179.9L967.5 179.9L968.0 180.0L968.5 180.0L969.0 180.0L969.5 180.0L970.0 180.0L970.5 180.0L971.0 180.0L971.5 180.0L972.0 180.0L972.5 180.1L973.0 180.1L973.5 180.1L974.0 180.1L974.5 180.1L975.0 180.1L975.5 180.1L976.0 180.2L976.5 180.2L977.0 180.2L977.5 180.2L978.0 180.2L978.5 180.2L979.0 180.3L979.5 180.3L980.0 180.3L980.5 180.3L981.0 180.4L981.5 180.4L982.0 180.5L982.5 180.5L983.0 180.6L983.5 180.7L984.0 180.7L984.5 180.8L985.0 180.9L985.5 181.0L986.0 181.1L986.5 181.2L987.0 181.3L987.5 181.4L988.0 181.5L988.5 181.6L989.0 181.8L989.5 182.0L990.0 182.1L990.5 182.3L991.0 182.6L991.5 182.7L992.0 182.9L992.5 183.1L993.0 183.2L993.5 183.3L994.0 183.3L994.5 183.3L995.0 183.1L995.5 183.0L996.0 182.7L996.5 182.5L997.0 182.1L997.5 181.8L998.0 181.4L998.5 181.1L999.0 180.7L999.5 180.3L1000.0 180.0L1000.5 179.6L1001.0 179.2L1001.5 178.8L1002.0 178.4L1002.5 177.9L1003.0 177.4L1003.5 177.0L1004.0 176.5L1004.5 176.1L1005.0 175.7L1005.5 175.3L1006.0 175.0L1006.5 174.7L1007.0 174.4L1007.5 174.2L1008.0 173.9L1008.5 173.7L1009.0 173.4L1009.5 173.2L1010.0 173.0L1010.5 172.8L1011.0 172.7L1011.5 172.6L1012.0 172.5L1012.5 172.4L1013.0 172.4L1013.5 172.3L1014.0 172.3L1014.5 172.2L1015.0 172.2L1015.5 172.1L1016.0 172.1L1016.5 172.0L1017.0 172.0L1017.5 172.0L1018.0 171.9L1018.5 171.9L1019.0 171.9L1019.5 171.9L1020.0 171.9L1020.5 171.9L1021.0 171.9L1021.5 171.9L1022.0 171.9L1022.5 171.9L1023.0 171.9L1023.5 171.9L1024.0 171.9L1024.5 171.9L1025.0 171.9L1025.5 171.9L1026.0 171.9L1026.5 171.9L1027.0 171.9L1027.5 171.9L1028.0 171.9L1028.5 171.9L1029.0 171.9L1029.5 171.9L1030.0 171.9L1030.5 171.9L1031.0 171.9L1031.5 171.9L1032.0 171.9L1032.5 171.9L1033.0 171.9L1033.5 171.9L1034.0 171.9L1034.5 171.9L1035.0 171.9L1035.5 171.9L1036.0 171.9L1036.5 171.9L1037.0 171.9L1037.5 171.9L1038.0 171.9L1038.5 171.9L1039.0 171.9L1039.5 171.9L1040.0 171.9L1040.5 171.9L1041.0 171.9L1041.5 171.9L1042.0 171.9L1042.5 171.9L1043.0 171.9L1043.5 171.9L1044.0 171.9L1044.5 171.9L1045.0 171.9L1045.5 171.9L1046.0 171.9L1046.5 171.9L1047.0 171.9L1047.5 171.9L1048.0 171.9L1048.5 171.9L1049.0 171.9L1049.5 171.9L1050.0 171.9L1050.5 171.9L1051.0 171.9L1051.5 171.9L1052.0 171.9L1052.5 171.9L1053.0 171.9L1053.5 171.9L1054.0 171.9L1054.5 171.9L1055.0 171.9L1055.5 171.9L1056.0 171.9L1056.5 171.9L1057.0 171.9L1057.5 171.9L1058.0 171.9L1058.5 171.9L1059.0 171.9L1059.5 171.9L1060.0 171.9L1060.5 171.9L1061.0 171.9L1061.5 171.9L1062.0 171.9L1062.5 171.9L1063.0 171.9L1063.5 171.9L1064.0 171.9L1064.5 171.9L1065.0 171.9L1065.5 171.9L1066.0 171.9L1066.5 171.9L1067.0 171.9L1067.5 171.9L1068.0 171.9L1068.5 171.9L1069.0 171.9L1069.5 171.9L1070.0 171.9L1070.5 171.9L1071.0 171.9L1071.5 171.9L1072.0 171.9L1072.5 171.9L1073.0 171.9L1073.5 171.9L1074.0 171.9L1074.5 171.9L1075.0 171.9L1075.5 171.9L1076.0 171.9L1076.5 171.9L1077.0 171.9L1077.5 171.9L1078.0 171.9L1078.5 171.9L1079.0 171.9L1079.5 171.9L1080.0 171.9L1080.5 171.9L1081.0 171.9L1081.5 171.9L1082.0 171.9L1082.5 171.9L1083.0 171.9L1083.5 171.9L1084.0 171.9L1084.5 171.9L1085.0 171.9L1085.5 171.9L1086.0 171.9L1086.5 171.9L1087.0 171.9L1087.5 171.9L1088.0 171.9L1088.5 171.9L1089.0 171.9L1089.5 171.9L1090.0 171.9L1090.5 171.9L1091.0 171.9L1091.5 171.9L1092.0 171.9L1092.5 171.9L1093.0 171.9L1093.5 171.9L1094.0 171.9L1094.5 171.9L1095.0 171.9L1095.5 171.9L1096.0 171.9L1096.5 171.9L1097.0 171.9L1097.5 171.9L1098.0 171.9L1098.5 171.9L1099.0 171.9L1099.5 171.9L1100.0 171.9L1100.5 171.9L1101.0 171.9L1101.5 171.9L1102.0 171.9L1102.5 171.9L1103.0 171.9L1103.5 171.9L1104.0 171.9L1104.5 171.9L1105.0 171.9L1105.5 171.9L1106.0 171.9L1106.5 171.9L1107.0 171.9L1107.5 171.9L1108.0 171.9L1108.5 171.9L1109.0 171.9L1109.5 171.9L1110.0 171.9L1110.5 171.9L1111.0 171.9L1111.5 171.9L1112.0 171.9L1112.5 171.9L1113.0 171.9L1113.5 171.9L1114.0 171.9L1114.5 171.9L1115.0 171.9L1115.5 171.9L1116.0 171.9L1116.5 171.9L1117.0 171.9L1117.5 171.9L1118.0 171.9L1118.5 171.9L1119.0 171.9L1119.5 171.9L1120.0 171.9L1120.5 171.9L1121.0 171.9L1121.5 171.9L1122.0 171.9L1122.5 171.9L1123.0 171.9L1123.5 171.9L1124.0 171.9L1124.5 171.9L1125.0 171.9L1125.5 171.9L1126.0 171.9L1126.5 171.9L1127.0 171.9L1127.5 171.9L1128.0 171.9L1128.5 171.9L1129.0 171.9L1129.5 171.9L1130.0 171.9L1130.5 171.9L1131.0 171.9L1131.5 171.9L1132.0 171.9L1132.5 171.9L1133.0 171.9L1133.5 171.9L1134.0 171.9L1134.5 171.9L1135.0 171.9L1135.5 171.9L1136.0 171.9L1136.5 171.9L1137.0 171.9L1137.5 171.9L1138.0 171.9L1138.5 171.9L1139.0 171.9L1139.5 171.9L1140.0 171.9L1140.5 171.9L1141.0 171.9L1141.5 171.9L1142.0 171.9L1142.5 171.9L1143.0 171.9L1143.5 171.9L1144.0 171.9L1144.5 171.9L1145.0 171.9L1145.5 171.9L1146.0 171.9L1146.5 171.9L1147.0 171.9L1147.5 171.9L1148.0 171.9L1148.5 171.9L1149.0 171.9L1149.5 171.9L1150.0 171.9L1150.5 171.9L1151.0 171.9L1151.5 171.9L1152.0 171.9L1152.5 171.9L1153.0 171.9L1153.5 171.9L1154.0 171.9L1154.5 171.9L1155.0 171.9L1155.5 171.9L1156.0 171.9L1156.5 171.9L1157.0 171.9L1157.5 171.9L1158.0 171.9L1158.5 171.9L1159.0 171.9L1159.5 171.9L1160.0 171.9L1160.5 171.9L1161.0 171.9L1161.5 171.9L1162.0 171.9L1162.5 171.9L1163.0 171.9L1163.5 171.9L1164.0 171.9L1164.5 171.9L1165.0 171.9L1165.5 171.9L1166.0 171.9L1166.5 171.9L1167.0 171.9L1167.5 171.9L1168.0 171.9L1168.5 171.9L1169.0 171.9L1169.5 171.9L1170.0 171.9L1170.5 171.9L1171.0 171.9L1171.5 171.9L1172.0 171.9L1172.5 171.9L1173.0 171.9L1173.5 171.9L1174.0 171.9L1174.5 171.9L1175.0 171.9L1175.5 171.9L1176.0 171.9L1176.5 171.9L1177.0 171.9L1177.5 171.9L1178.0 171.9L1178.5 171.9L1179.0 171.9L1179.5 171.9L1180.0 171.9L1180.5 171.9L1181.0 171.9L1181.5 171.9L1182.0 171.9L1182.5 171.9L1183.0 171.9L1183.5 171.9L1184.0 171.9L1184.5 171.9L1185.0 171.9L1185.5 171.9L1186.0 171.9L1186.5 171.9L1187.0 171.9L1187.5 171.9L1188.0 171.9L1188.5 171.9L1189.0 171.9L1189.5 171.9L1190.0 171.9L1190.5 171.9L1191.0 171.9L1191.5 171.9L1192.0 171.9L1192.5 171.9L1193.0 171.9L1193.5 171.9L1194.0 171.9L1194.5 171.9L1195.0 171.9L1195.5 171.9L1196.0 171.9L1196.5 171.9L1197.0 171.9L1197.5 171.9L1198.0 171.9L1198.5 171.9L1199.0 171.9L1199.5 171.9L1200.0 171.9L1200.5 171.9L1201.0 171.9L1201.5 171.9L1202.0 171.9L1202.5 171.9L1203.0 171.9L1203.5 171.9L1204.0 171.9" stroke="#21c24a" stroke-width="2.5" fill="none" stroke-linejoin="round"/>
<path d="M728.0 171.9L728.5 171.9L729.0 171.9L729.5 171.9L730.0 171.9L730.5 171.9L731.0 171.9L731.5 171.9L732.0 171.9L732.5 171.9L733.0 171.9L733.5 171.9L734.0 171.9L734.5 171.9L735.0 171.9L735.5 171.9L736.0 171.9L736.5 171.9L737.0 171.9L737.5 171.9L738.0 171.9L738.5 171.9L739.0 171.9L739.5 171.9L740.0 171.9L740.5 171.9L741.0 171.9L741.5 171.9L742.0 171.9L742.5 171.9L743.0 171.9L743.5 171.9L744.0 171.9L744.5 171.9L745.0 171.9L745.5 171.9L746.0 171.9L746.5 171.9L747.0 171.9L747.5 171.9L748.0 171.9L748.5 171.9L749.0 171.9L749.5 171.9L750.0 171.9L750.5 171.9L751.0 171.9L751.5 171.9L752.0 171.9L752.5 171.9L753.0 171.9L753.5 171.9L754.0 171.9L754.5 171.9L755.0 171.9L755.5 171.9L756.0 171.9L756.5 171.9L757.0 171.9L757.5 171.9L758.0 171.9L758.5 171.9L759.0 171.9L759.5 171.9L760.0 171.9L760.5 171.9L761.0 171.9L761.5 171.9L762.0 171.9L762.5 171.9L763.0 171.9L763.5 171.9L764.0 171.9L764.5 171.9L765.0 171.9L765.5 171.9L766.0 171.9L766.5 171.9L767.0 171.9L767.5 171.9L768.0 171.9L768.5 171.9L769.0 171.9L769.5 171.9L770.0 171.9L770.5 171.9L771.0 171.9L771.5 171.9L772.0 171.9L772.5 171.9L773.0 171.9L773.5 171.9L774.0 171.9L774.5 171.9L775.0 171.9L775.5 171.9L776.0 171.9L776.5 171.9L777.0 171.9L777.5 171.9L778.0 171.9L778.5 171.9L779.0 171.9L779.5 171.9L780.0 171.9L780.5 171.9L781.0 171.9L781.5 171.9L782.0 171.9L782.5 171.9L783.0 171.9L783.5 171.9L784.0 171.9L784.5 171.9L785.0 171.9L785.5 171.9L786.0 171.9L786.5 171.9L787.0 171.9L787.5 171.9L788.0 171.9L788.5 171.9L789.0 171.9L789.5 171.9L790.0 171.9L790.5 171.9L791.0 171.9L791.5 171.9L792.0 171.9L792.5 171.9L793.0 171.9L793.5 171.9L794.0 171.9L794.5 171.9L795.0 171.9L795.5 171.9L796.0 171.9L796.5 171.9L797.0 171.9L797.5 171.9L798.0 171.9L798.5 171.9L799.0 171.9L799.5 171.9L800.0 171.9L800.5 171.9L801.0 171.9L801.5 171.9L802.0 171.9L802.5 171.9L803.0 171.9L803.5 171.9L804.0 171.9L804.5 171.9L805.0 171.9L805.5 171.9L806.0 171.9L806.5 171.9L807.0 171.9L807.5 171.9L808.0 171.9L808.5 171.9L809.0 171.9L809.5 171.9L810.0 171.9L810.5 171.9L811.0 171.9L811.5 171.9L812.0 171.9L812.5 171.9L813.0 171.9L813.5 171.9L814.0 171.9L814.5 171.9L815.0 171.9L815.5 171.9L816.0 171.9L816.5 171.9L817.0 171.9L817.5 171.9L818.0 171.9L818.5 171.9L819.0 171.9L819.5 171.9L820.0 171.9L820.5 171.9L821.0 171.9L821.5 171.9L822.0 171.9L822.5 171.9L823.0 171.9L823.5 171.9L824.0 171.9L824.5 171.9L825.0 171.9L825.5 171.9L826.0 171.9L826.5 171.9L827.0 171.9L827.5 171.9L828.0 171.9L828.5 171.9L829.0 171.9L829.5 171.9L830.0 171.9L830.5 171.9L831.0 171.9L831.5 171.9L832.0 171.9L832.5 171.9L833.0 171.9L833.5 171.9L834.0 171.9L834.5 171.9L835.0 171.9L835.5 171.9L836.0 171.9L836.5 171.9L837.0 171.9L837.5 171.9L838.0 171.9L838.5 171.9L839.0 171.9L839.5 171.9L840.0 171.9L840.5 171.9L841.0 171.9L841.5 171.9L842.0 171.9L842.5 171.9L843.0 171.9L843.5 171.9L844.0 171.9L844.5 171.9L845.0 171.9L845.5 171.9L846.0 171.9L846.5 171.9L847.0 171.9L847.5 171.9L848.0 171.9L848.5 171.9L849.0 171.9L849.5 171.9L850.0 171.9L850.5 171.9L851.0 171.9L851.5 171.9L852.0 171.9L852.5 171.9L853.0 171.9L853.5 171.9L854.0 171.9L854.5 171.9L855.0 171.9L855.5 171.9L856.0 171.9L856.5 171.9L857.0 171.9L857.5 171.9L858.0 171.9L858.5 171.9L859.0 171.9L859.5 171.9L860.0 171.9L860.5 171.9L861.0 171.9L861.5 171.9L862.0 171.9L862.5 171.9L863.0 171.9L863.5 171.9L864.0 171.9L864.5 171.9L865.0 171.9L865.5 171.9L866.0 171.9L866.5 171.9L867.0 171.9L867.5 171.9L868.0 171.9L868.5 171.9L869.0 171.9L869.5 171.9L870.0 171.9L870.5 171.9L871.0 171.9L871.5 171.9L872.0 171.9L872.5 171.9L873.0 171.9L873.5 171.9L874.0 171.9L874.5 171.9L875.0 171.9L875.5 171.9L876.0 171.9L876.5 171.9L877.0 171.9L877.5 171.9L878.0 171.9L878.5 171.9L879.0 171.9L879.5 171.9L880.0 171.9L880.5 171.9L881.0 171.9L881.5 171.9L882.0 171.9L882.5 171.9L883.0 171.9L883.5 171.9L884.0 171.9L884.5 171.9L885.0 171.9L885.5 171.9L886.0 171.9L886.5 171.9L887.0 171.9L887.5 171.9L888.0 171.9L888.5 171.9L889.0 171.9L889.5 171.9L890.0 171.9L890.5 171.9L891.0 171.9L891.5 171.9L892.0 171.9L892.5 171.9L893.0 171.9L893.5 171.9L894.0 171.9L894.5 171.9L895.0 171.9L895.5 171.9L896.0 171.9L896.5 171.9L897.0 171.9L897.5 171.9L898.0 171.9L898.5 171.9L899.0 171.9L899.5 171.9L900.0 171.9L900.5 171.9L901.0 171.9L901.5 171.9L902.0 171.9L902.5 171.9L903.0 171.9L903.5 171.9L904.0 171.9L904.5 171.9L905.0 171.9L905.5 171.9L906.0 171.9L906.5 171.9L907.0 171.9L907.5 171.9L908.0 171.9L908.5 171.9L909.0 171.9L909.5 171.9L910.0 171.9L910.5 171.9L911.0 171.9L911.5 171.9L912.0 171.9L912.5 171.9L913.0 171.9L913.5 171.9L914.0 171.9L914.5 171.9L915.0 171.9L915.5 171.9L916.0 171.9L916.5 171.9L917.0 171.9L917.5 171.9L918.0 171.9L918.5 171.9L919.0 171.9L919.5 171.9L920.0 171.9L920.5 171.9L921.0 171.9L921.5 171.9L922.0 171.9L922.5 171.9L923.0 171.9L923.5 171.9L924.0 171.9L924.5 171.9L925.0 171.9L925.5 171.9L926.0 171.9L926.5 171.9L927.0 171.9L927.5 171.9L928.0 171.9L928.5 171.9L929.0 171.9L929.5 171.9L930.0 171.9L930.5 171.9L931.0 171.9L931.5 171.9L932.0 171.9L932.5 171.9L933.0 171.9L933.5 171.9L934.0 171.9L934.5 171.9L935.0 171.9L935.5 171.9L936.0 171.9L936.5 171.9L937.0 171.9L937.5 171.9L938.0 171.9L938.5 171.9L939.0 171.9L939.5 171.9L940.0 171.9L940.5 171.9L941.0 171.9L941.5 171.9L942.0 171.9L942.5 171.9L943.0 171.9L943.5 171.9L944.0 171.9L944.5 171.9L945.0 171.9L945.5 171.9L946.0 171.9L946.5 171.9L947.0 171.9L947.5 171.9L948.0 171.9L948.5 171.9L949.0 171.9L949.5 171.9L950.0 171.9L950.5 171.9L951.0 171.9L951.5 171.9L952.0 171.9L952.5 171.9L953.0 171.9L953.5 171.9L954.0 171.9L954.5 171.9L955.0 171.9L955.5 171.9L956.0 171.9L956.5 171.9L957.0 171.9L957.5 171.9L958.0 171.9L958.5 171.9L959.0 171.9L959.5 171.9L960.0 171.9L960.5 171.9L961.0 171.9L961.5 171.9L962.0 171.9L962.5 171.9L963.0 171.9L963.5 171.9L964.0 171.9L964.5 171.9L965.0 171.9L965.5 171.9L966.0 171.9L966.5 171.9L967.0 171.9L967.5 171.9L968.0 171.9L968.5 171.9L969.0 171.9L969.5 171.9L970.0 171.9L970.5 171.9L971.0 171.9L971.5 171.9L972.0 171.9L972.5 171.9L973.0 171.9L973.5 171.9L974.0 171.9L974.5 171.9L975.0 171.9L975.5 171.9L976.0 171.9L976.5 171.9L977.0 171.9L977.5 171.9L978.0 171.9L978.5 171.9L979.0 171.9L979.5 171.9L980.0 171.9L980.5 171.9L981.0 171.9L981.5 171.9L982.0 171.9L982.5 171.9L983.0 171.9L983.5 171.9L984.0 171.9L984.5 171.9L985.0 171.9L985.5 171.9L986.0 171.9L986.5 171.9L987.0 171.9L987.5 171.9L988.0 171.9L988.5 171.9L989.0 171.9L989.5 171.9L990.0 171.9L990.5 171.9L991.0 171.9L991.5 171.9L992.0 171.9L992.5 171.9L993.0 171.9L993.5 171.9L994.0 171.9L994.5 171.9L995.0 171.9L995.5 171.9L996.0 171.9L996.5 171.9L997.0 171.9L997.5 171.9L998.0 171.9L998.5 171.9L999.0 171.9L999.5 171.9L1000.0 171.9L1000.5 171.9L1001.0 171.9L1001.5 171.9L1002.0 171.9L1002.5 171.9L1003.0 171.9L1003.5 171.9L1004.0 171.9L1004.5 171.9L1005.0 171.9L1005.5 171.9L1006.0 171.9L1006.5 171.9L1007.0 171.9L1007.5 171.9L1008.0 171.9L1008.5 171.9L1009.0 171.9L1009.5 171.9L1010.0 171.9L1010.5 171.9L1011.0 171.9L1011.5 171.9L1012.0 171.9L1012.5 171.9L1013.0 171.9L1013.5 171.9L1014.0 171.9L1014.5 171.9L1015.0 171.9L1015.5 171.9L1016.0 171.9L1016.5 171.9L1017.0 171.9L1017.5 171.9L1018.0 171.9L1018.5 171.9L1019.0 171.9L1019.5 171.9L1020.0 171.9L1020.5 171.9L1021.0 171.9L1021.5 171.9L1022.0 171.9L1022.5 171.9L1023.0 171.9L1023.5 171.9L1024.0 171.9L1024.5 171.9L1025.0 171.9L1025.5 171.9L1026.0 171.9L1026.5 171.9L1027.0 171.9L1027.5 171.9L1028.0 171.9L1028.5 171.9L1029.0 171.9L1029.5 171.9L1030.0 171.9L1030.5 171.9L1031.0 171.9L1031.5 171.9L1032.0 171.9L1032.5 171.9L1033.0 171.9L1033.5 171.9L1034.0 171.9L1034.5 171.9L1035.0 171.9L1035.5 171.9L1036.0 171.9L1036.5 171.9L1037.0 171.9L1037.5 171.9L1038.0 171.9L1038.5 171.9L1039.0 171.9L1039.5 171.9L1040.0 171.9L1040.5 171.9L1041.0 171.9L1041.5 171.9L1042.0 171.9L1042.5 171.9L1043.0 171.9L1043.5 171.9L1044.0 171.9L1044.5 171.9L1045.0 171.9L1045.5 171.9L1046.0 171.9L1046.5 171.9L1047.0 171.9L1047.5 171.9L1048.0 171.9L1048.5 171.9L1049.0 171.9L1049.5 171.9L1050.0 171.9L1050.5 171.9L1051.0 171.9L1051.5 171.9L1052.0 171.9L1052.5 171.9L1053.0 171.9L1053.5 171.9L1054.0 171.9L1054.5 171.9L1055.0 171.9L1055.5 171.9L1056.0 171.9L1056.5 171.9L1057.0 171.9L1057.5 171.9L1058.0 171.9L1058.5 171.9L1059.0 171.9L1059.5 171.9L1060.0 171.9L1060.5 171.9L1061.0 171.9L1061.5 171.9L1062.0 171.9L1062.5 171.9L1063.0 171.9L1063.5 171.9L1064.0 171.9L1064.5 171.9L1065.0 171.9L1065.5 171.9L1066.0 171.9L1066.5 171.9L1067.0 171.9L1067.5 171.9L1068.0 171.9L1068.5 171.9L1069.0 171.9L1069.5 171.9L1070.0 171.9L1070.5 171.9L1071.0 171.9L1071.5 171.9L1072.0 171.9L1072.5 171.9L1073.0 171.9L1073.5 171.9L1074.0 171.9L1074.5 171.9L1075.0 171.9L1075.5 171.9L1076.0 171.9L1076.5 171.9L1077.0 171.9L1077.5 171.9L1078.0 171.9L1078.5 171.9L1079.0 171.9L1079.5 171.9L1080.0 171.9L1080.5 171.9L1081.0 171.9L1081.5 171.9L1082.0 171.9L1082.5 171.9L1083.0 171.9L1083.5 171.9L1084.0 171.9L1084.5 171.9L1085.0 171.9L1085.5 171.9L1086.0 171.9L1086.5 171.9L1087.0 171.9L1087.5 171.9L1088.0 171.9L1088.5 171.9L1089.0 171.9L1089.5 171.9L1090.0 171.9L1090.5 171.9L1091.0 171.9L1091.5 171.9L1092.0 171.9L1092.5 171.9L1093.0 171.9L1093.5 171.9L1094.0 171.9L1094.5 171.9L1095.0 171.9L1095.5 171.9L1096.0 171.9L1096.5 171.9L1097.0 171.9L1097.5 171.9L1098.0 171.9L1098.5 171.9L1099.0 171.9L1099.5 171.9L1100.0 171.9L1100.5 171.9L1101.0 171.9L1101.5 171.9L1102.0 171.9L1102.5 171.9L1103.0 171.9L1103.5 171.9L1104.0 171.9L1104.5 171.9L1105.0 171.9L1105.5 171.9L1106.0 171.9L1106.5 171.9L1107.0 171.9L1107.5 171.9L1108.0 171.9L1108.5 171.9L1109.0 171.9L1109.5 171.9L1110.0 171.9L1110.5 171.9L1111.0 171.9L1111.5 171.9L1112.0 171.9L1112.5 171.9L1113.0 171.9L1113.5 171.9L1114.0 171.9L1114.5 171.9L1115.0 171.9L1115.5 171.9L1116.0 171.9L1116.5 171.9L1117.0 171.9L1117.5 171.9L1118.0 171.9L1118.5 171.9L1119.0 171.9L1119.5 171.9L1120.0 171.9L1120.5 171.9L1121.0 171.9L1121.5 171.9L1122.0 171.9L1122.5 171.9L1123.0 171.9L1123.5 171.9L1124.0 171.9L1124.5 171.9L1125.0 171.9L1125.5 171.9L1126.0 171.9L1126.5 171.9L1127.0 171.9L1127.5 171.9L1128.0 171.9L1128.5 171.9L1129.0 171.9L1129.5 171.9L1130.0 171.9L1130.5 171.9L1131.0 171.9L1131.5 171.9L1132.0 171.9L1132.5 171.9L1133.0 171.9L1133.5 171.9L1134.0 171.9L1134.5 171.9L1135.0 171.9L1135.5 171.9L1136.0 171.9L1136.5 171.9L1137.0 171.9L1137.5 171.9L1138.0 171.9L1138.5 171.9L1139.0 171.9L1139.5 171.9L1140.0 171.9L1140.5 171.9L1141.0 171.9L1141.5 171.9L1142.0 171.9L1142.5 171.9L1143.0 171.9L1143.5 171.9L1144.0 171.9L1144.5 171.9L1145.0 171.9L1145.5 171.9L1146.0 171.9L1146.5 171.9L1147.0 171.9L1147.5 171.9L1148.0 171.9L1148.5 171.9L1149.0 171.9L1149.5 171.9L1150.0 171.9L1150.5 171.9L1151.0 171.9L1151.5 171.9L1152.0 171.9L1152.5 171.9L1153.0 171.9L1153.5 171.9L1154.0 171.9L1154.5 171.9L1155.0 171.9L1155.5 171.9L1156.0 171.9L1156.5 171.9L1157.0 171.9L1157.5 171.9L1158.0 171.9L1158.5 171.9L1159.0 171.9L1159.5 171.9L1160.0 171.9L1160.5 171.9L1161.0 171.9L1161.5 171.9L1162.0 171.9L1162.5 171.9L1163.0 171.9L1163.5 171.9L1164.0 171.9L1164.5 171.9L1165.0 171.9L1165.5 171.9L1166.0 171.9L1166.5 171.9L1167.0 171.9L1167.5 171.9L1168.0 171.9L1168.5 171.9L1169.0 171.9L1169.5 171.9L1170.0 171.9L1170.5 171.9L1171.0 171.9L1171.5 171.9L1172.0 171.9L1172.5 171.9L1173.0 171.9L1173.5 171.9L1174.0 171.9L1174.5 171.9L1175.0 171.9L1175.5 171.9L1176.0 171.9L1176.5 171.9L1177.0 171.9L1177.5 171.9L1178.0 171.9L1178.5 171.9L1179.0 171.9L1179.5 171.9L1180.0 171.9L1180.5 171.9L1181.0 171.9L1181.5 171.9L1182.0 171.9L1182.5 171.9L1183.0 171.9L1183.5 171.9L1184.0 171.9L1184.5 171.9L1185.0 171.9L1185.5 171.9L1186.0 171.9L1186.5 171.9L1187.0 171.9L1187.5 171.9L1188.0 171.9L1188.5 171.9L1189.0 171.9L1189.5 171.9L1190.0 171.9L1190.5 171.9L1191.0 171.9L1191.5 171.9L1192.0 171.9L1192.5 171.9L1193.0 171.9L1193.5 171.9L1194.0 171.9L1194.5 171.9L1195.0 171.9L1195.5 171.9L1196.0 171.9L1196.5 171.9L1197.0 171.9L1197.5 171.9L1198.0 171.9L1198.5 171.9L1199.0 171.9L1199.5 171.9L1200.0 171.9L1200.5 171.9L1201.0 171.9L1201.5 171.9L1202.0 171.9L1202.5 171.9L1203.0 171.9L1203.5 171.9L1204.0 171.9" stroke="#1c1c78" stroke-width="2.5" fill="none" stroke-linejoin="round"/>
<path d="M728.0 171.9L728.5 171.9L729.0 171.9L729.5 171.9L730.0 171.9L730.5 171.9L731.0 171.9L731.5 171.9L732.0 171.9L732.5 171.9L733.0 171.9L733.5 171.9L734.0 171.9L734.5 171.9L735.0 171.9L735.5 171.9L736.0 171.9L736.5 171.9L737.0 171.9L737.5 171.9L738.0 171.9L738.5 171.9L739.0 171.9L739.5 171.9L740.0 171.9L740.5 171.9L741.0 171.9L741.5 171.9L742.0 171.9L742.5 171.9L743.0 171.9L743.5 171.9L744.0 171.9L744.5 171.9L745.0 171.9L745.5 171.9L746.0 171.9L746.5 171.9L747.0 171.9L747.5 171.9L748.0 171.9L748.5 171.9L749.0 171.9L749.5 171.9L750.0 171.9L750.5 171.9L751.0 171.9L751.5 171.9L752.0 171.9L752.5 171.9L753.0 171.9L753.5 171.9L754.0 171.9L754.5 171.9L755.0 171.9L755.5 171.9L756.0 171.9L756.5 171.9L757.0 171.9L757.5 171.9L758.0 171.9L758.5 171.9L759.0 171.9L759.5 171.9L760.0 171.9L760.5 171.9L761.0 171.9L761.5 171.9L762.0 171.9L762.5 171.9L763.0 171.9L763.5 171.9L764.0 171.9L764.5 171.9L765.0 171.9L765.5 171.9L766.0 171.9L766.5 171.9L767.0 171.9L767.5 171.9L768.0 171.9L768.5 171.9L769.0 171.9L769.5 171.9L770.0 171.9L770.5 171.9L771.0 171.9L771.5 171.9L772.0 171.9L772.5 171.9L773.0 171.9L773.5 171.9L774.0 171.9L774.5 171.9L775.0 171.9L775.5 171.9L776.0 171.9L776.5 171.9L777.0 171.9L777.5 171.9L778.0 171.9L778.5 171.9L779.0 171.9L779.5 171.9L780.0 171.9L780.5 171.9L781.0 171.9L781.5 171.9L782.0 171.9L782.5 171.9L783.0 171.9L783.5 171.9L784.0 171.9L784.5 171.9L785.0 171.9L785.5 171.9L786.0 171.9L786.5 171.9L787.0 171.9L787.5 171.9L788.0 171.9L788.5 171.9L789.0 171.9L789.5 171.9L790.0 171.9L790.5 171.9L791.0 171.9L791.5 171.9L792.0 171.9L792.5 171.9L793.0 171.8L793.5 171.8L794.0 171.8L794.5 171.8L795.0 171.8L795.5 171.8L796.0 171.8L796.5 171.8L797.0 171.8L797.5 171.8L798.0 171.8L798.5 171.8L799.0 171.8L799.5 171.8L800.0 171.8L800.5 171.8L801.0 171.8L801.5 171.8L802.0 171.8L802.5 171.8L803.0 171.8L803.5 171.8L804.0 171.8L804.5 171.8L805.0 171.8L805.5 171.8L806.0 171.8L806.5 171.8L807.0 171.8L807.5 171.8L808.0 171.8L808.5 171.8L809.0 171.8L809.5 171.8L810.0 171.8L810.5 171.8L811.0 171.8L811.5 171.8L812.0 171.8L812.5 171.8L813.0 171.8L813.5 171.8L814.0 171.8L814.5 171.8L815.0 171.8L815.5 171.8L816.0 171.9L816.5 171.9L817.0 172.0L817.5 172.0L818.0 172.1L818.5 172.2L819.0 172.3L819.5 172.4L820.0 172.5L820.5 172.6L821.0 172.7L821.5 172.9L822.0 173.0L822.5 173.1L823.0 173.3L823.5 173.4L824.0 173.5L824.5 173.6L825.0 173.7L825.5 173.9L826.0 174.0L826.5 174.1L827.0 174.2L827.5 174.4L828.0 174.5L828.5 174.6L829.0 174.8L829.5 174.9L830.0 175.1L830.5 175.2L831.0 175.4L831.5 175.5L832.0 175.7L832.5 175.8L833.0 175.9L833.5 176.1L834.0 176.2L834.5 176.3L835.0 176.4L835.5 176.5L836.0 176.7L836.5 176.8L837.0 176.9L837.5 177.0L838.0 177.1L838.5 177.2L839.0 177.4L839.5 177.5L840.0 177.6L840.5 177.7L841.0 177.8L841.5 177.9L842.0 178.0L842.5 178.1L843.0 178.1L843.5 178.2L844.0 178.3L844.5 178.4L845.0 178.4L845.5 178.5L846.0 178.5L846.5 178.6L847.0 178.6L847.5 178.7L848.0 178.7L848.5 178.8L849.0 178.9L849.5 178.9L850.0 179.0L850.5 179.0L851.0 179.0L851.5 179.1L852.0 179.1L852.5 179.2L853.0 179.2L853.5 179.3L854.0 179.3L854.5 179.3L855.0 179.4L855.5 179.4L856.0 179.4L856.5 179.4L857.0 179.5L857.5 179.5L858.0 179.5L858.5 179.5L859.0 179.5L859.5 179.5L860.0 179.5L860.5 179.5L861.0 179.5L861.5 179.5L862.0 179.5L862.5 179.5L863.0 179.5L863.5 179.4L864.0 179.4L864.5 179.4L865.0 179.4L865.5 179.3L866.0 179.3L866.5 179.3L867.0 179.3L867.5 179.2L868.0 179.2L868.5 179.2L869.0 179.1L869.5 179.1L870.0 179.0L870.5 179.0L871.0 179.0L871.5 178.9L872.0 178.9L872.5 178.9L873.0 178.8L873.5 178.8L874.0 178.8L874.5 178.7L875.0 178.7L875.5 178.7L876.0 178.6L876.5 178.6L877.0 178.6L877.5 178.6L878.0 178.6L878.5 178.5L879.0 178.5L879.5 178.5L880.0 178.5L880.5 178.5L881.0 178.5L881.5 178.5L882.0 178.5L882.5 178.5L883.0 178.4L883.5 178.4L884.0 178.4L884.5 178.4L885.0 178.4L885.5 178.4L886.0 178.4L886.5 178.4L887.0 178.4L887.5 178.4L888.0 178.4L888.5 178.4L889.0 178.4L889.5 178.3L890.0 178.3L890.5 178.3L891.0 178.3L891.5 178.3L892.0 178.3L892.5 178.3L893.0 178.3L893.5 178.3L894.0 178.3L894.5 178.3L895.0 178.3L895.5 178.3L896.0 178.3L896.5 178.3L897.0 178.3L897.5 178.3L898.0 178.3L898.5 178.3L899.0 178.3L899.5 178.3L900.0 178.3L900.5 178.3L901.0 178.3L901.5 178.3L902.0 178.3L902.5 178.3L903.0 178.3L903.5 178.3L904.0 178.3L904.5 178.3L905.0 178.3L905.5 178.3L906.0 178.3L906.5 178.3L907.0 178.3L907.5 178.3L908.0 178.3L908.5 178.3L909.0 178.3L909.5 178.3L910.0 178.3L910.5 178.3L911.0 178.4L911.5 178.4L912.0 178.4L912.5 178.4L913.0 178.4L913.5 178.4L914.0 178.4L914.5 178.4L915.0 178.4L915.5 178.4L916.0 178.4L916.5 178.5L917.0 178.5L917.5 178.5L918.0 178.5L918.5 178.5L919.0 178.5L919.5 178.5L920.0 178.5L920.5 178.5L921.0 178.6L921.5 178.6L922.0 178.6L922.5 178.6L923.0 178.6L923.5 178.6L924.0 178.6L924.5 178.6L925.0 178.6L925.5 178.7L926.0 178.7L926.5 178.7L927.0 178.7L927.5 178.7L928.0 178.7L928.5 178.7L929.0 178.7L929.5 178.8L930.0 178.8L930.5 178.8L931.0 178.8L931.5 178.8L932.0 178.8L932.5 178.8L933.0 178.8L933.5 178.9L934.0 178.9L934.5 178.9L935.0 178.9L935.5 178.9L936.0 178.9L936.5 178.9L937.0 178.9L937.5 178.9L938.0 179.0L938.5 179.0L939.0 179.0L939.5 179.0L940.0 179.0L940.5 179.0L941.0 179.0L941.5 179.0L942.0 179.0L942.5 179.0L943.0 179.0L943.5 179.0L944.0 179.1L944.5 179.1L945.0 179.1L945.5 179.1L946.0 179.1L946.5 179.1L947.0 179.1L947.5 179.1L948.0 179.1L948.5 179.1L949.0 179.1L949.5 179.1L950.0 179.1L950.5 179.1L951.0 179.1L951.5 179.1L952.0 179.2L952.5 179.2L953.0 179.2L953.5 179.2L954.0 179.2L954.5 179.2L955.0 179.2L955.5 179.2L956.0 179.2L956.5 179.2L957.0 179.2L957.5 179.2L958.0 179.2L958.5 179.2L959.0 179.2L959.5 179.2L960.0 179.3L960.5 179.3L961.0 179.3L961.5 179.3L962.0 179.3L962.5 179.3L963.0 179.3L963.5 179.3L964.0 179.3L964.5 179.3L965.0 179.3L965.5 179.4L966.0 179.4L966.5 179.4L967.0 179.4L967.5 179.4L968.0 179.4L968.5 179.4L969.0 179.4L969.5 179.5L970.0 179.5L970.5 179.5L971.0 179.5L971.5 179.5L972.0 179.5L972.5 179.5L973.0 179.6L973.5 179.6L974.0 179.6L974.5 179.6L975.0 179.6L975.5 179.7L976.0 179.7L976.5 179.7L977.0 179.8L977.5 179.8L978.0 179.9L978.5 179.9L979.0 180.0L979.5 180.1L980.0 180.1L980.5 180.2L981.0 180.3L981.5 180.4L982.0 180.5L982.5 180.5L983.0 180.6L983.5 180.7L984.0 180.8L984.5 181.0L985.0 181.1L985.5 181.2L986.0 181.4L986.5 181.5L987.0 181.8L987.5 182.0L988.0 182.2L988.5 182.5L989.0 182.7L989.5 182.9L990.0 183.1L990.5 183.3L991.0 183.5L991.5 183.7L992.0 183.8L992.5 184.0L993.0 184.2L993.5 184.3L994.0 184.5L994.5 184.6L995.0 184.7L995.5 184.7L996.0 184.8L996.5 184.7L997.0 184.6L997.5 184.4L998.0 184.2L998.5 184.0L999.0 183.7L999.5 183.4L1000.0 183.0L1000.5 182.7L1001.0 182.4L1001.5 182.0L1002.0 181.6L1002.5 181.1L1003.0 180.6L1003.5 180.0L1004.0 179.5L1004.5 178.9L1005.0 178.3L1005.5 177.8L1006.0 177.3L1006.5 176.8L1007.0 176.4L1007.5 175.9L1008.0 175.4L1008.5 174.9L1009.0 174.5L1009.5 174.1L1010.0 173.7L1010.5 173.4L1011.0 173.1L1011.5 172.7L1012.0 172.4L1012.5 172.1L1013.0 171.8L1013.5 171.5L1014.0 171.3L1014.5 171.2L1015.0 171.1L1015.5 171.1L1016.0 171.1L1016.5 171.1L1017.0 171.1L1017.5 171.1L1018.0 171.0L1018.5 171.0L1019.0 171.0L1019.5 171.0L1020.0 171.0L1020.5 170.9L1021.0 170.9L1021.5 170.9L1022.0 170.9L1022.5 170.9L1023.0 170.9L1023.5 170.8L1024.0 170.8L1024.5 170.8L1025.0 170.8L1025.5 170.8L1026.0 170.8L1026.5 170.7L1027.0 170.7L1027.5 170.7L1028.0 170.7L1028.5 170.7L1029.0 170.6L1029.5 170.6L1030.0 170.6L1030.5 170.6L1031.0 170.6L1031.5 170.5L1032.0 170.5L1032.5 170.5L1033.0 170.5L1033.5 170.4L1034.0 170.4L1034.5 170.4L1035.0 170.4L1035.5 170.3L1036.0 170.3L1036.5 170.3L1037.0 170.3L1037.5 170.2L1038.0 170.2L1038.5 170.2L1039.0 170.1L1039.5 170.1L1040.0 170.1L1040.5 170.0L1041.0 170.0L1041.5 170.0L1042.0 169.9L1042.5 169.9L1043.0 169.9L1043.5 169.8L1044.0 169.8L1044.5 169.7L1045.0 169.7L1045.5 169.6L1046.0 169.6L1046.5 169.6L1047.0 169.5L1047.5 169.5L1048.0 169.4L1048.5 169.4L1049.0 169.3L1049.5 169.2L1050.0 169.2L1050.5 169.1L1051.0 169.1L1051.5 169.0L1052.0 168.9L1052.5 168.9L1053.0 168.8L1053.5 168.7L1054.0 168.6L1054.5 168.6L1055.0 168.5L1055.5 168.4L1056.0 168.3L1056.5 168.2L1057.0 168.1L1057.5 168.0L1058.0 167.9L1058.5 167.8L1059.0 167.7L1059.5 167.6L1060.0 167.5L1060.5 167.4L1061.0 167.3L1061.5 167.1L1062.0 167.0L1062.5 166.8L1063.0 166.7L1063.5 166.5L1064.0 166.4L1064.5 166.2L1065.0 166.0L1065.5 165.9L1066.0 165.7L1066.5 165.5L1067.0 165.3L1067.5 165.1L1068.0 164.8L1068.5 164.6L1069.0 164.3L1069.5 164.1L1070.0 163.8L1070.5 163.5L1071.0 163.2L1071.5 162.9L1072.0 162.6L1072.5 162.2L1073.0 161.8L1073.5 161.5L1074.0 161.0L1074.5 160.6L1075.0 160.2L1075.5 159.7L1076.0 159.2L1076.5 158.6L1077.0 158.0L1077.5 157.4L1078.0 156.8L1078.5 156.1L1079.0 155.4L1079.5 154.6L1080.0 153.7L1080.5 152.9L1081.0 151.9L1081.5 150.9L1082.0 149.8L1082.5 148.7L1083.0 147.5L1083.5 146.2L1084.0 144.8L1084.5 143.3L1085.0 141.7L1085.5 140.0L1086.0 138.2L1086.5 136.2L1087.0 134.1L1087.5 131.9L1088.0 129.5L1088.5 127.0L1089.0 124.3L1089.5 121.4L1090.0 118.4L1090.5 115.3L1091.0 111.9L1091.5 108.5L1092.0 104.9L1092.5 101.3L1093.0 97.5L1093.5 93.8L1094.0 90.1L1094.5 86.4L1095.0 83.0L1095.5 79.7L1096.0 76.7L1096.5 74.1L1097.0 71.8L1097.5 70.0L1098.0 68.7L1098.5 67.8L1099.0 67.5L1099.5 67.4L1100.0 67.7L1100.5 68.5L1101.0 69.7L1101.5 71.4L1102.0 73.6L1102.5 76.1L1103.0 79.1L1103.5 82.3L1104.0 85.7L1104.5 89.3L1105.0 93.0L1105.5 96.8L1106.0 100.5L1106.5 104.2L1107.0 107.8L1107.5 111.3L1108.0 114.6L1108.5 117.8L1109.0 120.8L1109.5 123.7L1110.0 126.4L1110.5 129.0L1111.0 131.4L1111.5 133.7L1112.0 135.8L1112.5 137.8L1113.0 139.6L1113.5 141.4L1114.0 143.0L1114.5 144.5L1115.0 145.9L1115.5 147.2L1116.0 148.5L1116.5 149.6L1117.0 150.7L1117.5 151.7L1118.0 152.7L1118.5 153.6L1119.0 154.4L1119.5 155.2L1120.0 155.9L1120.5 156.6L1121.0 157.3L1121.5 157.9L1122.0 158.5L1122.5 159.0L1123.0 159.6L1123.5 160.1L1124.0 160.5L1124.5 161.0L1125.0 161.4L1125.5 161.8L1126.0 162.1L1126.5 162.5L1127.0 162.8L1127.5 163.2L1128.0 163.5L1128.5 163.8L1129.0 164.0L1129.5 164.3L1130.0 164.5L1130.5 164.8L1131.0 165.0L1131.5 165.2L1132.0 165.4L1132.5 165.6L1133.0 165.8L1133.5 166.0L1134.0 166.2L1134.5 166.4L1135.0 166.5L1135.5 166.7L1136.0 166.8L1136.5 167.0L1137.0 167.1L1137.5 167.2L1138.0 167.4L1138.5 167.5L1139.0 167.6L1139.5 167.7L1140.0 167.8L1140.5 167.9L1141.0 168.0L1141.5 168.1L1142.0 168.2L1142.5 168.3L1143.0 168.4L1143.5 168.5L1144.0 168.5L1144.5 168.6L1145.0 168.7L1145.5 168.8L1146.0 168.8L1146.5 168.9L1147.0 169.0L1147.5 169.0L1148.0 169.1L1148.5 169.2L1149.0 169.2L1149.5 169.3L1150.0 169.3L1150.5 169.4L1151.0 169.4L1151.5 169.5L1152.0 169.5L1152.5 169.6L1153.0 169.6L1153.5 169.7L1154.0 169.7L1154.5 169.8L1155.0 169.8L1155.5 169.8L1156.0 169.9L1156.5 169.9L1157.0 170.0L1157.5 170.0L1158.0 170.0L1158.5 170.1L1159.0 170.1L1159.5 170.1L1160.0 170.2L1160.5 170.2L1161.0 170.2L1161.5 170.3L1162.0 170.3L1162.5 170.3L1163.0 170.3L1163.5 170.4L1164.0 170.4L1164.5 170.4L1165.0 170.4L1165.5 170.5L1166.0 170.5L1166.5 170.5L1167.0 170.5L1167.5 170.6L1168.0 170.6L1168.5 170.6L1169.0 170.6L1169.5 170.6L1170.0 170.7L1170.5 170.7L1171.0 170.7L1171.5 170.7L1172.0 170.7L1172.5 170.7L1173.0 170.8L1173.5 170.8L1174.0 170.8L1174.5 170.8L1175.0 170.8L1175.5 170.8L1176.0 170.9L1176.5 170.9L1177.0 170.9L1177.5 170.9L1178.0 170.9L1178.5 170.9L1179.0 170.9L1179.5 171.0L1180.0 171.0L1180.5 171.0L1181.0 171.0L1181.5 171.0L1182.0 171.0L1182.5 171.0L1183.0 171.0L1183.5 171.0L1184.0 171.1L1184.5 171.1L1185.0 171.1L1185.5 171.1L1186.0 171.1L1186.5 171.1L1187.0 171.1L1187.5 171.1L1188.0 171.1L1188.5 171.1L1189.0 171.2L1189.5 171.2L1190.0 171.2L1190.5 171.2L1191.0 171.2L1191.5 171.2L1192.0 171.2L1192.5 171.2L1193.0 171.2L1193.5 171.2L1194.0 171.2L1194.5 171.2L1195.0 171.3L1195.5 171.3L1196.0 171.3L1196.5 171.3L1197.0 171.3L1197.5 171.3L1198.0 171.3L1198.5 171.3L1199.0 171.3L1199.5 171.3L1200.0 171.3L1200.5 171.3L1201.0 171.3L1201.5 171.3L1202.0 171.3L1202.5 171.4L1203.0 171.4L1203.5 171.4L1204.0 171.4" stroke="#2ec8ae" stroke-width="2.5" fill="none" stroke-linejoin="round"/>
<path d="M728.0 171.9L728.5 171.9L729.0 171.9L729.5 171.9L730.0 171.9L730.5 171.9L731.0 171.9L731.5 171.9L732.0 171.9L732.5 171.9L733.0 171.9L733.5 171.9L734.0 171.9L734.5 171.9L735.0 171.9L735.5 171.9L736.0 171.9L736.5 171.9L737.0 171.9L737.5 171.9L738.0 171.9L738.5 171.9L739.0 171.9L739.5 171.9L740.0 171.9L740.5 171.9L741.0 171.9L741.5 171.9L742.0 171.9L742.5 171.9L743.0 171.9L743.5 171.9L744.0 171.9L744.5 171.9L745.0 171.9L745.5 171.9L746.0 171.9L746.5 171.9L747.0 171.9L747.5 171.9L748.0 171.9L748.5 171.9L749.0 171.9L749.5 171.9L750.0 171.9L750.5 171.9L751.0 171.9L751.5 171.9L752.0 171.9L752.5 171.9L753.0 171.9L753.5 171.9L754.0 171.9L754.5 171.9L755.0 171.9L755.5 171.9L756.0 171.9L756.5 171.9L757.0 171.9L757.5 171.9L758.0 171.9L758.5 171.9L759.0 171.9L759.5 171.9L760.0 171.9L760.5 171.9L761.0 171.9L761.5 171.9L762.0 171.9L762.5 171.9L763.0 171.9L763.5 171.9L764.0 171.9L764.5 171.9L765.0 171.9L765.5 171.9L766.0 171.9L766.5 171.9L767.0 171.9L767.5 171.9L768.0 171.9L768.5 171.9L769.0 171.9L769.5 171.9L770.0 171.9L770.5 171.9L771.0 171.9L771.5 171.9L772.0 171.9L772.5 171.9L773.0 171.9L773.5 171.9L774.0 171.9L774.5 171.9L775.0 171.9L775.5 171.9L776.0 171.9L776.5 171.9L777.0 171.9L777.5 171.9L778.0 171.9L778.5 171.9L779.0 171.9L779.5 171.9L780.0 171.9L780.5 171.9L781.0 171.9L781.5 171.9L782.0 171.9L782.5 171.9L783.0 171.9L783.5 171.9L784.0 171.9L784.5 171.9L785.0 171.9L785.5 171.9L786.0 171.9L786.5 171.9L787.0 171.9L787.5 171.9L788.0 171.9L788.5 171.9L789.0 171.9L789.5 171.9L790.0 171.9L790.5 171.9L791.0 171.9L791.5 171.9L792.0 171.9L792.5 171.9L793.0 171.9L793.5 171.9L794.0 171.9L794.5 171.9L795.0 171.9L795.5 171.9L796.0 171.9L796.5 171.9L797.0 171.9L797.5 171.9L798.0 171.9L798.5 171.9L799.0 171.9L799.5 171.9L800.0 171.9L800.5 171.9L801.0 171.9L801.5 171.9L802.0 171.9L802.5 171.9L803.0 171.9L803.5 171.9L804.0 171.9L804.5 171.9L805.0 171.9L805.5 171.9L806.0 171.9L806.5 171.9L807.0 171.9L807.5 171.9L808.0 171.9L808.5 171.9L809.0 171.9L809.5 171.9L810.0 171.9L810.5 171.9L811.0 171.9L811.5 171.9L812.0 171.9L812.5 171.9L813.0 171.9L813.5 171.9L814.0 171.9L814.5 171.9L815.0 171.9L815.5 171.9L816.0 171.9L816.5 171.9L817.0 171.9L817.5 171.9L818.0 171.9L818.5 171.9L819.0 171.9L819.5 171.9L820.0 171.9L820.5 171.9L821.0 171.9L821.5 171.9L822.0 171.9L822.5 171.9L823.0 171.9L823.5 171.9L824.0 171.9L824.5 171.9L825.0 171.9L825.5 171.9L826.0 171.9L826.5 171.9L827.0 171.9L827.5 171.9L828.0 171.9L828.5 171.9L829.0 171.9L829.5 171.9L830.0 171.9L830.5 171.9L831.0 171.9L831.5 171.9L832.0 171.9L832.5 171.9L833.0 171.9L833.5 171.9L834.0 171.9L834.5 171.9L835.0 171.9L835.5 171.9L836.0 171.9L836.5 171.9L837.0 171.9L837.5 171.9L838.0 171.9L838.5 171.9L839.0 171.9L839.5 171.9L840.0 171.9L840.5 171.9L841.0 171.9L841.5 171.9L842.0 171.9L842.5 171.9L843.0 171.9L843.5 171.9L844.0 171.9L844.5 171.9L845.0 171.9L845.5 171.9L846.0 171.9L846.5 171.9L847.0 171.9L847.5 171.9L848.0 171.9L848.5 171.9L849.0 171.9L849.5 171.9L850.0 171.9L850.5 171.9L851.0 171.9L851.5 171.9L852.0 171.9L852.5 171.9L853.0 171.9L853.5 171.9L854.0 171.9L854.5 171.9L855.0 171.9L855.5 171.9L856.0 171.9L856.5 171.9L857.0 171.9L857.5 171.9L858.0 171.9L858.5 171.9L859.0 171.9L859.5 171.9L860.0 171.9L860.5 171.9L861.0 171.9L861.5 171.9L862.0 171.9L862.5 171.9L863.0 171.9L863.5 171.9L864.0 171.9L864.5 171.9L865.0 171.9L865.5 171.9L866.0 171.9L866.5 171.9L867.0 171.9L867.5 171.9L868.0 171.9L868.5 171.9L869.0 171.9L869.5 171.9L870.0 171.9L870.5 171.9L871.0 171.9L871.5 171.9L872.0 171.9L872.5 171.9L873.0 171.9L873.5 171.9L874.0 171.9L874.5 171.9L875.0 171.9L875.5 171.9L876.0 171.9L876.5 171.9L877.0 171.9L877.5 171.9L878.0 171.9L878.5 171.9L879.0 171.9L879.5 171.9L880.0 171.9L880.5 171.9L881.0 171.9L881.5 171.9L882.0 171.9L882.5 171.9L883.0 171.9L883.5 171.9L884.0 171.9L884.5 171.9L885.0 171.9L885.5 171.9L886.0 171.9L886.5 171.9L887.0 171.9L887.5 171.9L888.0 171.9L888.5 171.9L889.0 171.9L889.5 171.9L890.0 171.9L890.5 171.9L891.0 171.9L891.5 171.9L892.0 171.9L892.5 171.9L893.0 171.9L893.5 171.9L894.0 171.9L894.5 171.9L895.0 171.9L895.5 171.9L896.0 171.9L896.5 171.9L897.0 171.9L897.5 171.9L898.0 171.9L898.5 171.9L899.0 171.9L899.5 171.9L900.0 171.9L900.5 171.9L901.0 171.9L901.5 171.9L902.0 171.9L902.5 171.9L903.0 171.9L903.5 171.9L904.0 171.9L904.5 171.9L905.0 171.9L905.5 171.9L906.0 171.9L906.5 171.9L907.0 171.9L907.5 171.9L908.0 171.9L908.5 171.9L909.0 171.9L909.5 171.9L910.0 171.9L910.5 171.9L911.0 171.9L911.5 171.9L912.0 171.9L912.5 171.9L913.0 171.9L913.5 171.9L914.0 171.9L914.5 171.9L915.0 171.9L915.5 171.9L916.0 171.9L916.5 171.9L917.0 171.9L917.5 171.9L918.0 171.9L918.5 171.9L919.0 171.9L919.5 171.9L920.0 171.9L920.5 171.9L921.0 171.9L921.5 171.9L922.0 171.9L922.5 171.9L923.0 171.9L923.5 171.9L924.0 171.9L924.5 171.9L925.0 171.9L925.5 171.9L926.0 171.9L926.5 171.9L927.0 171.9L927.5 171.9L928.0 171.9L928.5 171.9L929.0 171.9L929.5 171.9L930.0 171.9L930.5 171.9L931.0 171.9L931.5 171.9L932.0 171.9L932.5 171.9L933.0 171.9L933.5 171.9L934.0 171.9L934.5 171.9L935.0 171.9L935.5 171.9L936.0 171.9L936.5 171.9L937.0 171.9L937.5 171.9L938.0 171.9L938.5 171.9L939.0 171.9L939.5 171.9L940.0 171.9L940.5 171.9L941.0 171.9L941.5 171.9L942.0 171.9L942.5 171.9L943.0 171.9L943.5 171.9L944.0 171.9L944.5 171.9L945.0 171.9L945.5 171.9L946.0 171.9L946.5 171.9L947.0 171.9L947.5 171.9L948.0 171.9L948.5 171.9L949.0 171.9L949.5 171.9L950.0 171.9L950.5 171.9L951.0 171.9L951.5 171.9L952.0 171.9L952.5 171.9L953.0 171.9L953.5 171.9L954.0 171.9L954.5 171.9L955.0 171.9L955.5 171.9L956.0 171.9L956.5 171.9L957.0 171.9L957.5 171.9L958.0 171.9L958.5 171.9L959.0 171.9L959.5 171.9L960.0 171.9L960.5 171.9L961.0 171.9L961.5 171.9L962.0 171.9L962.5 171.9L963.0 171.9L963.5 171.9L964.0 171.9L964.5 171.9L965.0 171.9L965.5 171.9L966.0 171.9L966.5 171.9L967.0 171.9L967.5 171.9L968.0 171.9L968.5 171.9L969.0 171.9L969.5 171.9L970.0 171.9L970.5 171.9L971.0 171.9L971.5 171.9L972.0 171.9L972.5 171.9L973.0 171.9L973.5 171.9L974.0 171.9L974.5 171.9L975.0 171.9L975.5 171.9L976.0 171.9L976.5 171.9L977.0 171.9L977.5 171.9L978.0 171.9L978.5 171.9L979.0 171.9L979.5 171.9L980.0 171.9L980.5 171.9L981.0 171.9L981.5 171.9L982.0 171.9L982.5 171.9L983.0 171.9L983.5 171.9L984.0 171.9L984.5 171.9L985.0 171.9L985.5 171.9L986.0 171.9L986.5 171.9L987.0 171.9L987.5 171.9L988.0 171.9L988.5 171.9L989.0 171.9L989.5 171.9L990.0 171.9L990.5 171.9L991.0 171.9L991.5 171.9L992.0 171.9L992.5 171.9L993.0 171.9L993.5 171.9L994.0 171.9L994.5 171.9L995.0 171.9L995.5 171.9L996.0 171.9L996.5 171.9L997.0 171.9L997.5 171.9L998.0 171.9L998.5 171.9L999.0 171.9L999.5 171.9L1000.0 171.9L1000.5 171.9L1001.0 171.9L1001.5 171.9L1002.0 171.9L1002.5 171.9L1003.0 171.9L1003.5 171.9L1004.0 171.9L1004.5 171.9L1005.0 171.9L1005.5 171.9L1006.0 171.9L1006.5 171.9L1007.0 171.9L1007.5 171.9L1008.0 171.9L1008.5 171.9L1009.0 171.9L1009.5 171.9L1010.0 171.9L1010.5 171.9L1011.0 171.9L1011.5 171.9L1012.0 171.9L1012.5 171.9L1013.0 171.9L1013.5 171.9L1014.0 171.9L1014.5 171.9L1015.0 171.9L1015.5 171.9L1016.0 171.9L1016.5 171.9L1017.0 171.9L1017.5 171.9L1018.0 171.9L1018.5 171.9L1019.0 171.9L1019.5 171.9L1020.0 171.9L1020.5 171.9L1021.0 171.9L1021.5 171.9L1022.0 171.9L1022.5 171.9L1023.0 171.9L1023.5 171.9L1024.0 171.9L1024.5 171.9L1025.0 171.9L1025.5 171.9L1026.0 171.9L1026.5 171.9L1027.0 171.9L1027.5 171.9L1028.0 171.9L1028.5 171.9L1029.0 171.9L1029.5 171.9L1030.0 171.9L1030.5 171.9L1031.0 171.9L1031.5 171.9L1032.0 171.9L1032.5 171.9L1033.0 171.9L1033.5 171.9L1034.0 171.9L1034.5 171.9L1035.0 171.9L1035.5 171.9L1036.0 171.9L1036.5 171.9L1037.0 171.9L1037.5 171.9L1038.0 171.9L1038.5 171.9L1039.0 171.9L1039.5 171.9L1040.0 171.9L1040.5 171.9L1041.0 171.9L1041.5 171.9L1042.0 171.9L1042.5 171.9L1043.0 171.9L1043.5 171.9L1044.0 171.9L1044.5 171.9L1045.0 171.9L1045.5 171.9L1046.0 171.9L1046.5 171.9L1047.0 171.9L1047.5 171.9L1048.0 171.9L1048.5 171.9L1049.0 171.9L1049.5 171.9L1050.0 171.9L1050.5 171.9L1051.0 171.9L1051.5 171.9L1052.0 171.9L1052.5 171.9L1053.0 171.9L1053.5 171.9L1054.0 171.9L1054.5 171.9L1055.0 171.9L1055.5 171.9L1056.0 171.9L1056.5 171.9L1057.0 171.9L1057.5 171.9L1058.0 171.9L1058.5 171.9L1059.0 171.9L1059.5 171.9L1060.0 171.9L1060.5 171.9L1061.0 171.9L1061.5 171.9L1062.0 171.9L1062.5 171.9L1063.0 171.9L1063.5 171.9L1064.0 171.9L1064.5 171.9L1065.0 171.9L1065.5 171.9L1066.0 171.9L1066.5 171.9L1067.0 171.9L1067.5 171.9L1068.0 171.9L1068.5 171.9L1069.0 171.9L1069.5 171.9L1070.0 171.9L1070.5 171.9L1071.0 171.9L1071.5 171.9L1072.0 171.9L1072.5 171.9L1073.0 171.9L1073.5 171.9L1074.0 171.9L1074.5 171.9L1075.0 171.9L1075.5 171.9L1076.0 171.9L1076.5 171.9L1077.0 171.9L1077.5 171.9L1078.0 171.9L1078.5 171.9L1079.0 171.9L1079.5 171.9L1080.0 171.9L1080.5 171.9L1081.0 171.9L1081.5 171.9L1082.0 171.9L1082.5 171.9L1083.0 171.9L1083.5 171.9L1084.0 171.9L1084.5 171.9L1085.0 171.9L1085.5 171.9L1086.0 171.9L1086.5 171.9L1087.0 171.9L1087.5 171.9L1088.0 171.9L1088.5 171.9L1089.0 171.9L1089.5 171.9L1090.0 171.9L1090.5 171.9L1091.0 171.9L1091.5 171.9L1092.0 171.9L1092.5 171.9L1093.0 171.9L1093.5 171.9L1094.0 171.9L1094.5 171.9L1095.0 171.9L1095.5 171.9L1096.0 171.9L1096.5 171.9L1097.0 171.9L1097.5 171.9L1098.0 171.9L1098.5 171.9L1099.0 171.9L1099.5 171.9L1100.0 171.9L1100.5 171.9L1101.0 171.9L1101.5 171.9L1102.0 171.9L1102.5 171.9L1103.0 171.9L1103.5 171.9L1104.0 171.9L1104.5 171.9L1105.0 171.9L1105.5 171.9L1106.0 171.9L1106.5 171.9L1107.0 171.9L1107.5 171.9L1108.0 171.9L1108.5 171.9L1109.0 171.9L1109.5 171.9L1110.0 171.9L1110.5 171.9L1111.0 171.9L1111.5 171.9L1112.0 171.9L1112.5 171.9L1113.0 171.9L1113.5 171.9L1114.0 171.9L1114.5 171.9L1115.0 171.9L1115.5 171.9L1116.0 171.9L1116.5 171.9L1117.0 171.9L1117.5 171.9L1118.0 171.9L1118.5 171.9L1119.0 171.9L1119.5 171.9L1120.0 171.9L1120.5 171.9L1121.0 171.9L1121.5 171.9L1122.0 171.9L1122.5 171.9L1123.0 171.9L1123.5 171.9L1124.0 171.9L1124.5 171.9L1125.0 171.9L1125.5 171.9L1126.0 171.9L1126.5 171.9L1127.0 171.9L1127.5 171.9L1128.0 171.9L1128.5 171.9L1129.0 171.9L1129.5 171.9L1130.0 171.9L1130.5 171.9L1131.0 171.9L1131.5 171.9L1132.0 171.9L1132.5 171.9L1133.0 171.9L1133.5 171.9L1134.0 171.9L1134.5 171.9L1135.0 171.9L1135.5 171.9L1136.0 171.9L1136.5 171.9L1137.0 171.9L1137.5 171.9L1138.0 171.9L1138.5 171.9L1139.0 171.9L1139.5 171.9L1140.0 171.9L1140.5 171.9L1141.0 171.9L1141.5 171.9L1142.0 171.9L1142.5 171.9L1143.0 171.9L1143.5 171.9L1144.0 171.9L1144.5 171.9L1145.0 171.9L1145.5 171.9L1146.0 171.9L1146.5 171.9L1147.0 171.9L1147.5 171.9L1148.0 171.9L1148.5 171.9L1149.0 171.9L1149.5 171.9L1150.0 171.9L1150.5 171.9L1151.0 171.9L1151.5 171.9L1152.0 171.9L1152.5 171.9L1153.0 171.9L1153.5 171.9L1154.0 171.9L1154.5 171.9L1155.0 171.9L1155.5 171.9L1156.0 171.9L1156.5 171.9L1157.0 171.9L1157.5 171.9L1158.0 171.9L1158.5 171.9L1159.0 171.9L1159.5 171.9L1160.0 171.9L1160.5 171.9L1161.0 171.9L1161.5 171.9L1162.0 171.9L1162.5 171.9L1163.0 171.9L1163.5 171.9L1164.0 171.9L1164.5 171.9L1165.0 171.9L1165.5 171.9L1166.0 171.9L1166.5 171.9L1167.0 171.9L1167.5 171.9L1168.0 171.9L1168.5 171.9L1169.0 171.9L1169.5 171.9L1170.0 171.9L1170.5 171.9L1171.0 171.9L1171.5 171.9L1172.0 171.9L1172.5 171.9L1173.0 171.9L1173.5 171.9L1174.0 171.9L1174.5 171.9L1175.0 171.9L1175.5 171.9L1176.0 171.9L1176.5 171.9L1177.0 171.9L1177.5 171.9L1178.0 171.9L1178.5 171.9L1179.0 171.9L1179.5 171.9L1180.0 171.9L1180.5 171.9L1181.0 171.9L1181.5 171.9L1182.0 171.9L1182.5 171.9L1183.0 171.9L1183.5 171.9L1184.0 171.9L1184.5 171.9L1185.0 171.9L1185.5 171.9L1186.0 171.9L1186.5 171.9L1187.0 171.9L1187.5 171.9L1188.0 171.9L1188.5 171.9L1189.0 171.9L1189.5 171.9L1190.0 171.9L1190.5 171.9L1191.0 171.9L1191.5 171.9L1192.0 171.9L1192.5 171.9L1193.0 171.9L1193.5 171.9L1194.0 171.9L1194.5 171.9L1195.0 171.9L1195.5 171.9L1196.0 171.9L1196.5 171.9L1197.0 171.9L1197.5 171.9L1198.0 171.9L1198.5 171.9L1199.0 171.9L1199.5 171.9L1200.0 171.9L1200.5 171.9L1201.0 171.9L1201.5 171.9L1202.0 171.9L1202.5 171.9L1203.0 171.9L1203.5 171.9L1204.0 171.9" stroke="#e040a8" stroke-width="2.5" fill="none" stroke-linejoin="round"/>
<path d="M728.0 171.9L728.5 171.9L729.0 171.9L729.5 171.9L730.0 171.9L730.5 171.9L731.0 171.9L731.5 171.9L732.0 171.9L732.5 171.9L733.0 171.9L733.5 171.9L734.0 171.9L734.5 171.9L735.0 171.9L735.5 171.9L736.0 171.9L736.5 171.9L737.0 171.9L737.5 171.9L738.0 171.9L738.5 171.9L739.0 171.9L739.5 171.9L740.0 171.9L740.5 171.9L741.0 171.9L741.5 171.9L742.0 171.9L742.5 171.9L743.0 171.9L743.5 171.9L744.0 171.9L744.5 171.9L745.0 171.9L745.5 171.9L746.0 171.9L746.5 171.9L747.0 171.9L747.5 171.9L748.0 171.9L748.5 171.9L749.0 171.9L749.5 171.9L750.0 171.9L750.5 171.9L751.0 171.9L751.5 171.9L752.0 171.9L752.5 171.9L753.0 171.9L753.5 171.9L754.0 171.9L754.5 171.9L755.0 171.9L755.5 171.9L756.0 171.9L756.5 171.9L757.0 171.9L757.5 171.9L758.0 171.9L758.5 171.9L759.0 171.9L759.5 171.9L760.0 171.9L760.5 171.9L761.0 171.9L761.5 171.9L762.0 171.9L762.5 171.9L763.0 171.9L763.5 171.9L764.0 171.9L764.5 171.9L765.0 171.9L765.5 171.9L766.0 171.9L766.5 171.9L767.0 171.9L767.5 171.9L768.0 171.9L768.5 171.9L769.0 171.9L769.5 171.9L770.0 171.9L770.5 171.9L771.0 171.9L771.5 171.9L772.0 171.9L772.5 171.9L773.0 171.9L773.5 171.9L774.0 171.9L774.5 171.9L775.0 171.9L775.5 171.9L776.0 171.9L776.5 171.9L777.0 171.9L777.5 171.9L778.0 171.9L778.5 171.9L779.0 171.9L779.5 171.9L780.0 171.9L780.5 171.9L781.0 171.9L781.5 171.9L782.0 171.9L782.5 171.9L783.0 171.9L783.5 171.9L784.0 171.9L784.5 171.9L785.0 171.9L785.5 171.9L786.0 171.9L786.5 171.9L787.0 171.9L787.5 171.9L788.0 171.9L788.5 171.9L789.0 171.9L789.5 171.9L790.0 171.9L790.5 171.9L791.0 171.9L791.5 171.9L792.0 171.9L792.5 171.9L793.0 171.9L793.5 171.9L794.0 171.9L794.5 171.9L795.0 171.9L795.5 171.9L796.0 171.9L796.5 171.9L797.0 171.9L797.5 171.9L798.0 171.9L798.5 171.9L799.0 171.9L799.5 171.9L800.0 171.9L800.5 171.9L801.0 171.9L801.5 171.9L802.0 171.9L802.5 171.9L803.0 171.9L803.5 171.9L804.0 171.9L804.5 171.9L805.0 171.9L805.5 171.9L806.0 171.9L806.5 171.9L807.0 171.9L807.5 171.9L808.0 171.9L808.5 171.9L809.0 171.9L809.5 171.9L810.0 171.9L810.5 171.9L811.0 171.9L811.5 171.9L812.0 171.9L812.5 171.9L813.0 171.9L813.5 171.9L814.0 171.9L814.5 172.0L815.0 172.0L815.5 172.0L816.0 172.0L816.5 172.1L817.0 172.1L817.5 172.2L818.0 172.2L818.5 172.2L819.0 172.3L819.5 172.3L820.0 172.4L820.5 172.4L821.0 172.4L821.5 172.5L822.0 172.5L822.5 172.6L823.0 172.6L823.5 172.6L824.0 172.7L824.5 172.7L825.0 172.7L825.5 172.7L826.0 172.7L826.5 172.8L827.0 172.8L827.5 172.8L828.0 172.8L828.5 172.8L829.0 172.9L829.5 172.9L830.0 172.9L830.5 172.9L831.0 172.9L831.5 172.9L832.0 173.0L832.5 173.0L833.0 173.0L833.5 173.0L834.0 173.0L834.5 173.0L835.0 173.0L835.5 173.0L836.0 173.1L836.5 173.1L837.0 173.1L837.5 173.1L838.0 173.1L838.5 173.1L839.0 173.1L839.5 173.1L840.0 173.1L840.5 173.1L841.0 173.1L841.5 173.1L842.0 173.1L842.5 173.1L843.0 173.1L843.5 173.1L844.0 173.1L844.5 173.1L845.0 173.1L845.5 173.1L846.0 173.1L846.5 173.1L847.0 173.1L847.5 173.1L848.0 173.1L848.5 173.1L849.0 173.1L849.5 173.1L850.0 173.1L850.5 173.1L851.0 173.1L851.5 173.1L852.0 173.1L852.5 173.1L853.0 173.1L853.5 173.1L854.0 173.1L854.5 173.1L855.0 173.1L855.5 173.1L856.0 173.1L856.5 173.1L857.0 173.1L857.5 173.1L858.0 173.1L858.5 173.1L859.0 173.1L859.5 173.1L860.0 173.1L860.5 173.1L861.0 173.1L861.5 173.1L862.0 173.1L862.5 173.1L863.0 173.1L863.5 173.1L864.0 173.1L864.5 173.1L865.0 173.1L865.5 173.1L866.0 173.1L866.5 173.1L867.0 173.0L867.5 173.0L868.0 173.0L868.5 173.0L869.0 173.0L869.5 173.0L870.0 173.0L870.5 173.0L871.0 173.0L871.5 173.0L872.0 173.0L872.5 173.0L873.0 173.0L873.5 173.0L874.0 173.0L874.5 173.0L875.0 173.0L875.5 173.0L876.0 173.0L876.5 173.0L877.0 173.0L877.5 173.0L878.0 173.0L878.5 173.0L879.0 173.0L879.5 173.0L880.0 173.0L880.5 173.0L881.0 173.0L881.5 173.0L882.0 173.0L882.5 173.0L883.0 173.0L883.5 173.0L884.0 173.0L884.5 173.0L885.0 173.0L885.5 173.0L886.0 173.0L886.5 173.0L887.0 173.0L887.5 173.0L888.0 173.0L888.5 173.0L889.0 173.0L889.5 173.0L890.0 172.9L890.5 172.9L891.0 172.9L891.5 172.9L892.0 172.9L892.5 172.9L893.0 172.9L893.5 172.9L894.0 172.9L894.5 172.9L895.0 172.9L895.5 172.9L896.0 172.9L896.5 172.9L897.0 172.9L897.5 172.9L898.0 172.9L898.5 172.9L899.0 172.9L899.5 172.9L900.0 172.9L900.5 172.9L901.0 172.9L901.5 172.9L902.0 172.9L902.5 172.9L903.0 172.9L903.5 172.9L904.0 172.9L904.5 172.9L905.0 172.9L905.5 172.9L906.0 172.9L906.5 172.9L907.0 172.9L907.5 172.9L908.0 172.9L908.5 172.8L909.0 172.8L909.5 172.8L910.0 172.8L910.5 172.8L911.0 172.8L911.5 172.8L912.0 172.8L912.5 172.8L913.0 172.8L913.5 172.8L914.0 172.8L914.5 172.8L915.0 172.8L915.5 172.8L916.0 172.8L916.5 172.8L917.0 172.8L917.5 172.8L918.0 172.8L918.5 172.8L919.0 172.8L919.5 172.8L920.0 172.8L920.5 172.7L921.0 172.7L921.5 172.7L922.0 172.7L922.5 172.7L923.0 172.7L923.5 172.7L924.0 172.7L924.5 172.7L925.0 172.7L925.5 172.7L926.0 172.7L926.5 172.7L927.0 172.7L927.5 172.7L928.0 172.7L928.5 172.7L929.0 172.7L929.5 172.7L930.0 172.6L930.5 172.6L931.0 172.6L931.5 172.6L932.0 172.6L932.5 172.6L933.0 172.6L933.5 172.6L934.0 172.6L934.5 172.6L935.0 172.6L935.5 172.6L936.0 172.6L936.5 172.6L937.0 172.6L937.5 172.6L938.0 172.6L938.5 172.6L939.0 172.5L939.5 172.5L940.0 172.5L940.5 172.5L941.0 172.5L941.5 172.5L942.0 172.5L942.5 172.5L943.0 172.5L943.5 172.5L944.0 172.5L944.5 172.5L945.0 172.5L945.5 172.5L946.0 172.5L946.5 172.5L947.0 172.5L947.5 172.4L948.0 172.4L948.5 172.4L949.0 172.4L949.5 172.4L950.0 172.4L950.5 172.4L951.0 172.4L951.5 172.4L952.0 172.4L952.5 172.4L953.0 172.4L953.5 172.4L954.0 172.4L954.5 172.4L955.0 172.4L955.5 172.4L956.0 172.3L956.5 172.3L957.0 172.3L957.5 172.3L958.0 172.3L958.5 172.3L959.0 172.3L959.5 172.3L960.0 172.3L960.5 172.3L961.0 172.3L961.5 172.3L962.0 172.3L962.5 172.3L963.0 172.3L963.5 172.3L964.0 172.3L964.5 172.2L965.0 172.2L965.5 172.2L966.0 172.2L966.5 172.2L967.0 172.2L967.5 172.2L968.0 172.2L968.5 172.2L969.0 172.2L969.5 172.2L970.0 172.2L970.5 172.2L971.0 172.2L971.5 172.1L972.0 172.1L972.5 172.1L973.0 172.1L973.5 172.1L974.0 172.1L974.5 172.1L975.0 172.1L975.5 172.1L976.0 172.1L976.5 172.1L977.0 172.1L977.5 172.1L978.0 172.1L978.5 172.0L979.0 172.0L979.5 172.0L980.0 172.0L980.5 172.0L981.0 172.0L981.5 172.0L982.0 172.0L982.5 172.0L983.0 172.0L983.5 172.0L984.0 172.0L984.5 172.0L985.0 172.0L985.5 172.0L986.0 171.9L986.5 171.9L987.0 171.9L987.5 171.9L988.0 171.9L988.5 171.9L989.0 171.9L989.5 171.9L990.0 171.9L990.5 171.9L991.0 171.9L991.5 171.9L992.0 171.9L992.5 171.9L993.0 171.9L993.5 171.9L994.0 171.8L994.5 171.8L995.0 171.8L995.5 171.8L996.0 171.8L996.5 171.8L997.0 171.8L997.5 171.8L998.0 171.8L998.5 171.8L999.0 171.8L999.5 171.8L1000.0 171.8L1000.5 171.8L1001.0 171.8L1001.5 171.8L1002.0 171.8L1002.5 171.8L1003.0 171.8L1003.5 171.8L1004.0 171.8L1004.5 171.8L1005.0 171.8L1005.5 171.9L1006.0 171.9L1006.5 171.9L1007.0 171.9L1007.5 171.9L1008.0 171.9L1008.5 171.9L1009.0 171.9L1009.5 171.9L1010.0 171.9L1010.5 171.9L1011.0 171.9L1011.5 171.9L1012.0 171.9L1012.5 171.9L1013.0 171.9L1013.5 171.9L1014.0 171.9L1014.5 171.9L1015.0 171.9L1015.5 171.9L1016.0 171.9L1016.5 171.9L1017.0 171.9L1017.5 171.9L1018.0 171.9L1018.5 171.9L1019.0 171.9L1019.5 171.9L1020.0 171.9L1020.5 171.9L1021.0 171.9L1021.5 171.9L1022.0 171.9L1022.5 171.9L1023.0 171.9L1023.5 171.9L1024.0 171.9L1024.5 171.9L1025.0 171.9L1025.5 171.9L1026.0 171.9L1026.5 171.9L1027.0 171.9L1027.5 171.9L1028.0 171.9L1028.5 171.9L1029.0 171.9L1029.5 171.9L1030.0 171.9L1030.5 171.9L1031.0 171.9L1031.5 171.9L1032.0 171.9L1032.5 171.9L1033.0 171.9L1033.5 171.9L1034.0 171.9L1034.5 171.9L1035.0 171.9L1035.5 171.9L1036.0 171.9L1036.5 171.9L1037.0 171.9L1037.5 171.9L1038.0 171.9L1038.5 171.9L1039.0 171.9L1039.5 171.9L1040.0 171.9L1040.5 171.9L1041.0 171.9L1041.5 171.9L1042.0 171.9L1042.5 171.9L1043.0 171.9L1043.5 171.9L1044.0 171.9L1044.5 171.9L1045.0 171.9L1045.5 171.9L1046.0 171.9L1046.5 171.9L1047.0 171.9L1047.5 171.9L1048.0 171.9L1048.5 171.9L1049.0 171.9L1049.5 171.9L1050.0 171.9L1050.5 171.9L1051.0 171.9L1051.5 171.9L1052.0 171.9L1052.5 171.9L1053.0 171.9L1053.5 171.9L1054.0 171.9L1054.5 171.9L1055.0 171.9L1055.5 171.9L1056.0 171.9L1056.5 171.9L1057.0 171.9L1057.5 171.9L1058.0 171.9L1058.5 171.9L1059.0 171.9L1059.5 171.9L1060.0 171.9L1060.5 171.9L1061.0 171.9L1061.5 171.9L1062.0 171.9L1062.5 171.9L1063.0 171.9L1063.5 171.9L1064.0 171.9L1064.5 171.9L1065.0 171.9L1065.5 171.9L1066.0 171.9L1066.5 171.9L1067.0 171.9L1067.5 171.9L1068.0 171.9L1068.5 171.9L1069.0 171.9L1069.5 171.9L1070.0 171.9L1070.5 171.9L1071.0 171.9L1071.5 171.9L1072.0 171.9L1072.5 171.9L1073.0 171.9L1073.5 171.9L1074.0 171.9L1074.5 171.9L1075.0 171.9L1075.5 171.9L1076.0 171.9L1076.5 171.9L1077.0 171.9L1077.5 171.9L1078.0 171.9L1078.5 171.9L1079.0 171.9L1079.5 171.9L1080.0 171.9L1080.5 171.9L1081.0 171.9L1081.5 171.9L1082.0 171.9L1082.5 171.9L1083.0 171.9L1083.5 171.9L1084.0 171.9L1084.5 171.9L1085.0 171.9L1085.5 171.9L1086.0 171.9L1086.5 171.9L1087.0 171.8L1087.5 171.8L1088.0 171.8L1088.5 171.7L1089.0 171.7L1089.5 171.6L1090.0 171.6L1090.5 171.5L1091.0 171.5L1091.5 171.4L1092.0 171.4L1092.5 171.3L1093.0 171.3L1093.5 171.2L1094.0 171.2L1094.5 171.2L1095.0 171.1L1095.5 171.1L1096.0 171.0L1096.5 171.0L1097.0 170.9L1097.5 170.9L1098.0 170.8L1098.5 170.8L1099.0 170.8L1099.5 170.8L1100.0 170.8L1100.5 170.9L1101.0 170.9L1101.5 171.0L1102.0 171.0L1102.5 171.1L1103.0 171.1L1103.5 171.2L1104.0 171.2L1104.5 171.2L1105.0 171.3L1105.5 171.3L1106.0 171.4L1106.5 171.4L1107.0 171.5L1107.5 171.5L1108.0 171.6L1108.5 171.6L1109.0 171.7L1109.5 171.7L1110.0 171.8L1110.5 171.8L1111.0 171.8L1111.5 171.9L1112.0 171.9L1112.5 171.9L1113.0 171.9L1113.5 171.9L1114.0 171.9L1114.5 171.9L1115.0 171.9L1115.5 171.9L1116.0 171.9L1116.5 171.9L1117.0 171.9L1117.5 171.9L1118.0 171.9L1118.5 171.9L1119.0 171.9L1119.5 171.9L1120.0 171.9L1120.5 171.9L1121.0 171.9L1121.5 171.9L1122.0 171.9L1122.5 171.9L1123.0 171.9L1123.5 171.9L1124.0 171.9L1124.5 171.9L1125.0 171.9L1125.5 171.9L1126.0 171.9L1126.5 171.9L1127.0 171.9L1127.5 171.9L1128.0 171.9L1128.5 171.9L1129.0 171.9L1129.5 171.9L1130.0 171.9L1130.5 171.9L1131.0 171.9L1131.5 171.9L1132.0 171.9L1132.5 171.9L1133.0 171.9L1133.5 171.9L1134.0 171.9L1134.5 171.9L1135.0 171.9L1135.5 171.9L1136.0 171.9L1136.5 171.9L1137.0 171.9L1137.5 171.9L1138.0 171.9L1138.5 171.9L1139.0 171.9L1139.5 171.9L1140.0 171.9L1140.5 171.9L1141.0 171.9L1141.5 171.9L1142.0 171.9L1142.5 171.9L1143.0 171.9L1143.5 171.9L1144.0 171.9L1144.5 171.9L1145.0 171.9L1145.5 171.9L1146.0 171.9L1146.5 171.9L1147.0 171.9L1147.5 171.9L1148.0 171.9L1148.5 171.9L1149.0 171.9L1149.5 171.9L1150.0 171.9L1150.5 171.9L1151.0 171.9L1151.5 171.9L1152.0 171.9L1152.5 171.9L1153.0 171.9L1153.5 171.9L1154.0 171.9L1154.5 171.9L1155.0 171.9L1155.5 171.9L1156.0 171.9L1156.5 171.9L1157.0 171.9L1157.5 171.9L1158.0 171.9L1158.5 171.9L1159.0 171.9L1159.5 171.9L1160.0 171.9L1160.5 171.9L1161.0 171.9L1161.5 171.9L1162.0 171.9L1162.5 171.9L1163.0 171.9L1163.5 171.9L1164.0 171.9L1164.5 171.9L1165.0 171.9L1165.5 171.9L1166.0 171.9L1166.5 171.9L1167.0 171.9L1167.5 171.9L1168.0 171.9L1168.5 171.9L1169.0 171.9L1169.5 171.9L1170.0 171.9L1170.5 171.9L1171.0 171.9L1171.5 171.9L1172.0 171.9L1172.5 171.9L1173.0 171.9L1173.5 171.9L1174.0 171.9L1174.5 171.9L1175.0 171.9L1175.5 171.9L1176.0 171.9L1176.5 171.9L1177.0 171.9L1177.5 171.9L1178.0 171.9L1178.5 171.9L1179.0 171.9L1179.5 171.9L1180.0 171.9L1180.5 171.9L1181.0 171.9L1181.5 171.9L1182.0 171.9L1182.5 171.9L1183.0 171.9L1183.5 171.9L1184.0 171.9L1184.5 171.9L1185.0 171.9L1185.5 171.9L1186.0 171.9L1186.5 171.9L1187.0 171.9L1187.5 171.9L1188.0 171.9L1188.5 171.9L1189.0 171.9L1189.5 171.9L1190.0 171.9L1190.5 171.9L1191.0 171.9L1191.5 171.9L1192.0 171.9L1192.5 171.9L1193.0 171.9L1193.5 171.9L1194.0 171.9L1194.5 171.9L1195.0 171.9L1195.5 171.9L1196.0 171.9L1196.5 171.9L1197.0 171.9L1197.5 171.9L1198.0 171.9L1198.5 171.9L1199.0 171.9L1199.5 171.9L1200.0 171.9L1200.5 171.9L1201.0 171.9L1201.5 171.9L1202.0 171.9L1202.5 171.9L1203.0 171.9L1203.5 171.9L1204.0 171.9" stroke="#f4f018" stroke-width="3.0" fill="none" stroke-linejoin="round"/>
<path d="M728.0 171.9L728.5 171.9L729.0 171.9L729.5 171.9L730.0 171.9L730.5 171.9L731.0 171.9L731.5 171.9L732.0 171.9L732.5 171.9L733.0 171.9L733.5 171.9L734.0 171.9L734.5 171.9L735.0 171.9L735.5 171.9L736.0 171.9L736.5 171.9L737.0 171.9L737.5 171.9L738.0 171.9L738.5 171.9L739.0 171.9L739.5 171.9L740.0 171.9L740.5 171.9L741.0 171.9L741.5 171.9L742.0 171.9L742.5 171.9L743.0 171.9L743.5 171.9L744.0 171.9L744.5 171.9L745.0 171.9L745.5 171.9L746.0 171.9L746.5 171.9L747.0 171.9L747.5 171.9L748.0 171.9L748.5 171.9L749.0 171.9L749.5 171.9L750.0 171.9L750.5 171.9L751.0 171.9L751.5 171.9L752.0 171.9L752.5 171.9L753.0 171.9L753.5 171.9L754.0 171.9L754.5 171.9L755.0 171.9L755.5 171.9L756.0 171.9L756.5 171.9L757.0 171.9L757.5 171.9L758.0 171.9L758.5 171.9L759.0 171.9L759.5 171.9L760.0 171.9L760.5 171.9L761.0 171.9L761.5 171.9L762.0 171.9L762.5 171.9L763.0 171.9L763.5 171.9L764.0 171.9L764.5 171.9L765.0 171.9L765.5 171.9L766.0 171.9L766.5 171.9L767.0 171.9L767.5 171.9L768.0 171.9L768.5 171.9L769.0 171.9L769.5 171.9L770.0 171.9L770.5 171.9L771.0 171.9L771.5 171.9L772.0 171.9L772.5 171.9L773.0 171.9L773.5 171.9L774.0 171.9L774.5 171.9L775.0 171.9L775.5 171.9L776.0 171.9L776.5 171.9L777.0 171.9L777.5 171.9L778.0 171.9L778.5 171.9L779.0 171.9L779.5 171.9L780.0 171.9L780.5 171.9L781.0 171.9L781.5 171.9L782.0 171.9L782.5 171.9L783.0 171.9L783.5 171.9L784.0 171.9L784.5 171.9L785.0 171.9L785.5 171.9L786.0 171.9L786.5 171.9L787.0 171.9L787.5 171.9L788.0 171.9L788.5 171.9L789.0 171.9L789.5 171.9L790.0 171.9L790.5 171.9L791.0 171.9L791.5 171.9L792.0 171.9L792.5 171.9L793.0 171.9L793.5 171.9L794.0 171.9L794.5 171.9L795.0 171.9L795.5 171.9L796.0 171.9L796.5 171.9L797.0 171.9L797.5 171.9L798.0 171.9L798.5 171.9L799.0 171.9L799.5 171.9L800.0 171.9L800.5 171.9L801.0 171.9L801.5 171.9L802.0 171.9L802.5 171.9L803.0 171.9L803.5 171.9L804.0 171.9L804.5 171.9L805.0 171.9L805.5 171.9L806.0 171.9L806.5 171.9L807.0 171.9L807.5 171.9L808.0 171.9L808.5 171.9L809.0 171.9L809.5 171.9L810.0 171.9L810.5 171.9L811.0 171.9L811.5 171.9L812.0 171.9L812.5 171.9L813.0 171.9L813.5 171.9L814.0 171.9L814.5 171.9L815.0 171.9L815.5 171.9L816.0 171.9L816.5 172.0L817.0 172.0L817.5 172.1L818.0 172.2L818.5 172.3L819.0 172.4L819.5 172.5L820.0 172.6L820.5 172.8L821.0 172.9L821.5 173.1L822.0 173.2L822.5 173.4L823.0 173.5L823.5 173.7L824.0 173.9L824.5 174.0L825.0 174.2L825.5 174.4L826.0 174.6L826.5 174.8L827.0 175.1L827.5 175.4L828.0 175.7L828.5 176.0L829.0 176.3L829.5 176.6L830.0 176.9L830.5 177.2L831.0 177.5L831.5 177.7L832.0 178.0L832.5 178.3L833.0 178.6L833.5 178.9L834.0 179.2L834.5 179.5L835.0 179.8L835.5 180.0L836.0 180.3L836.5 180.5L837.0 180.6L837.5 180.8L838.0 180.8L838.5 180.8L839.0 180.8L839.5 180.8L840.0 180.8L840.5 180.9L841.0 180.9L841.5 180.9L842.0 180.9L842.5 180.9L843.0 180.9L843.5 180.9L844.0 180.9L844.5 180.9L845.0 180.9L845.5 180.9L846.0 180.9L846.5 180.9L847.0 180.9L847.5 180.9L848.0 180.8L848.5 180.8L849.0 180.8L849.5 180.7L850.0 180.7L850.5 180.6L851.0 180.6L851.5 180.5L852.0 180.5L852.5 180.4L853.0 180.4L853.5 180.3L854.0 180.2L854.5 180.2L855.0 180.1L855.5 180.1L856.0 180.0L856.5 179.9L857.0 179.9L857.5 179.8L858.0 179.8L858.5 179.7L859.0 179.7L859.5 179.6L860.0 179.6L860.5 179.6L861.0 179.5L861.5 179.5L862.0 179.5L862.5 179.4L863.0 179.4L863.5 179.4L864.0 179.3L864.5 179.3L865.0 179.3L865.5 179.2L866.0 179.2L866.5 179.2L867.0 179.1L867.5 179.1L868.0 179.1L868.5 179.1L869.0 179.0L869.5 179.0L870.0 179.0L870.5 178.9L871.0 178.9L871.5 178.9L872.0 178.9L872.5 178.8L873.0 178.8L873.5 178.8L874.0 178.8L874.5 178.8L875.0 178.7L875.5 178.7L876.0 178.7L876.5 178.7L877.0 178.7L877.5 178.7L878.0 178.6L878.5 178.6L879.0 178.6L879.5 178.6L880.0 178.6L880.5 178.6L881.0 178.6L881.5 178.6L882.0 178.6L882.5 178.6L883.0 178.6L883.5 178.5L884.0 178.5L884.5 178.5L885.0 178.5L885.5 178.5L886.0 178.5L886.5 178.5L887.0 178.5L887.5 178.5L888.0 178.5L888.5 178.5L889.0 178.5L889.5 178.5L890.0 178.5L890.5 178.5L891.0 178.4L891.5 178.4L892.0 178.4L892.5 178.4L893.0 178.4L893.5 178.4L894.0 178.4L894.5 178.4L895.0 178.4L895.5 178.4L896.0 178.4L896.5 178.4L897.0 178.4L897.5 178.4L898.0 178.4L898.5 178.4L899.0 178.4L899.5 178.4L900.0 178.4L900.5 178.4L901.0 178.4L901.5 178.4L902.0 178.4L902.5 178.4L903.0 178.4L903.5 178.4L904.0 178.4L904.5 178.4L905.0 178.4L905.5 178.4L906.0 178.4L906.5 178.4L907.0 178.4L907.5 178.4L908.0 178.4L908.5 178.4L909.0 178.4L909.5 178.4L910.0 178.5L910.5 178.5L911.0 178.5L911.5 178.5L912.0 178.5L912.5 178.5L913.0 178.5L913.5 178.5L914.0 178.5L914.5 178.5L915.0 178.5L915.5 178.5L916.0 178.5L916.5 178.5L917.0 178.5L917.5 178.5L918.0 178.6L918.5 178.6L919.0 178.6L919.5 178.6L920.0 178.6L920.5 178.6L921.0 178.6L921.5 178.6L922.0 178.6L922.5 178.6L923.0 178.6L923.5 178.6L924.0 178.6L924.5 178.7L925.0 178.7L925.5 178.7L926.0 178.7L926.5 178.7L927.0 178.7L927.5 178.7L928.0 178.7L928.5 178.7L929.0 178.7L929.5 178.7L930.0 178.7L930.5 178.8L931.0 178.8L931.5 178.8L932.0 178.8L932.5 178.8L933.0 178.8L933.5 178.8L934.0 178.8L934.5 178.8L935.0 178.8L935.5 178.8L936.0 178.8L936.5 178.8L937.0 178.9L937.5 178.9L938.0 178.9L938.5 178.9L939.0 178.9L939.5 178.9L940.0 178.9L940.5 178.9L941.0 178.9L941.5 178.9L942.0 178.9L942.5 178.9L943.0 178.9L943.5 178.9L944.0 179.0L944.5 179.0L945.0 179.0L945.5 179.0L946.0 179.0L946.5 179.0L947.0 179.0L947.5 179.0L948.0 179.0L948.5 179.0L949.0 179.0L949.5 179.0L950.0 179.0L950.5 179.0L951.0 179.0L951.5 179.0L952.0 179.0L952.5 179.0L953.0 179.0L953.5 179.1L954.0 179.1L954.5 179.1L955.0 179.1L955.5 179.1L956.0 179.1L956.5 179.1L957.0 179.1L957.5 179.1L958.0 179.1L958.5 179.1L959.0 179.1L959.5 179.1L960.0 179.1L960.5 179.1L961.0 179.1L961.5 179.1L962.0 179.1L962.5 179.2L963.0 179.2L963.5 179.2L964.0 179.2L964.5 179.2L965.0 179.2L965.5 179.2L966.0 179.2L966.5 179.2L967.0 179.2L967.5 179.2L968.0 179.2L968.5 179.2L969.0 179.2L969.5 179.2L970.0 179.3L970.5 179.3L971.0 179.3L971.5 179.3L972.0 179.3L972.5 179.3L973.0 179.3L973.5 179.3L974.0 179.3L974.5 179.3L975.0 179.3L975.5 179.4L976.0 179.4L976.5 179.4L977.0 179.4L977.5 179.4L978.0 179.4L978.5 179.4L979.0 179.4L979.5 179.4L980.0 179.5L980.5 179.5L981.0 179.5L981.5 179.5L982.0 179.5L982.5 179.5L983.0 179.5L983.5 179.6L984.0 179.6L984.5 179.6L985.0 179.6L985.5 179.6L986.0 179.7L986.5 179.7L987.0 179.7L987.5 179.8L988.0 179.9L988.5 179.9L989.0 180.0L989.5 180.0L990.0 180.1L990.5 180.2L991.0 180.2L991.5 180.2L992.0 180.3L992.5 180.3L993.0 180.3L993.5 180.3L994.0 180.2L994.5 180.1L995.0 179.9L995.5 179.7L996.0 179.4L996.5 179.1L997.0 178.9L997.5 178.6L998.0 178.2L998.5 177.9L999.0 177.6L999.5 177.3L1000.0 177.0L1000.5 176.7L1001.0 176.3L1001.5 175.9L1002.0 175.5L1002.5 175.1L1003.0 174.7L1003.5 174.3L1004.0 174.0L1004.5 173.7L1005.0 173.5L1005.5 173.3L1006.0 173.2L1006.5 173.0L1007.0 172.8L1007.5 172.7L1008.0 172.5L1008.5 172.4L1009.0 172.3L1009.5 172.2L1010.0 172.1L1010.5 172.0L1011.0 171.9L1011.5 171.9L1012.0 171.9L1012.5 171.9L1013.0 171.9L1013.5 171.9L1014.0 171.9L1014.5 171.9L1015.0 171.9L1015.5 171.9L1016.0 171.9L1016.5 171.9L1017.0 171.9L1017.5 171.9L1018.0 171.9L1018.5 171.9L1019.0 171.9L1019.5 171.9L1020.0 171.9L1020.5 171.9L1021.0 171.9L1021.5 171.9L1022.0 171.9L1022.5 171.9L1023.0 171.9L1023.5 171.9L1024.0 171.9L1024.5 171.9L1025.0 171.9L1025.5 171.9L1026.0 171.9L1026.5 171.9L1027.0 171.9L1027.5 171.9L1028.0 171.9L1028.5 171.9L1029.0 171.9L1029.5 171.9L1030.0 171.9L1030.5 171.9L1031.0 171.9L1031.5 171.9L1032.0 171.9L1032.5 171.9L1033.0 171.9L1033.5 171.9L1034.0 171.9L1034.5 171.9L1035.0 171.9L1035.5 171.9L1036.0 171.9L1036.5 171.9L1037.0 171.9L1037.5 171.9L1038.0 171.9L1038.5 171.9L1039.0 171.9L1039.5 171.9L1040.0 171.9L1040.5 171.9L1041.0 171.9L1041.5 171.9L1042.0 171.9L1042.5 171.9L1043.0 171.9L1043.5 171.9L1044.0 171.9L1044.5 171.9L1045.0 171.9L1045.5 171.9L1046.0 171.9L1046.5 171.9L1047.0 171.9L1047.5 171.9L1048.0 171.9L1048.5 171.9L1049.0 171.9L1049.5 171.9L1050.0 171.9L1050.5 171.9L1051.0 171.9L1051.5 171.9L1052.0 171.9L1052.5 171.9L1053.0 171.9L1053.5 171.9L1054.0 171.9L1054.5 171.9L1055.0 171.9L1055.5 171.9L1056.0 171.9L1056.5 171.9L1057.0 171.9L1057.5 171.9L1058.0 171.9L1058.5 171.9L1059.0 171.9L1059.5 171.9L1060.0 171.9L1060.5 171.9L1061.0 171.9L1061.5 171.9L1062.0 171.9L1062.5 171.9L1063.0 171.9L1063.5 171.9L1064.0 171.9L1064.5 171.9L1065.0 171.9L1065.5 171.9L1066.0 171.9L1066.5 171.9L1067.0 171.9L1067.5 171.9L1068.0 171.9L1068.5 171.9L1069.0 171.9L1069.5 171.9L1070.0 171.9L1070.5 171.9L1071.0 171.9L1071.5 171.9L1072.0 171.9L1072.5 171.9L1073.0 171.9L1073.5 171.9L1074.0 171.9L1074.5 171.9L1075.0 171.9L1075.5 171.9L1076.0 171.9L1076.5 171.9L1077.0 171.9L1077.5 171.9L1078.0 171.9L1078.5 171.9L1079.0 171.9L1079.5 171.9L1080.0 171.9L1080.5 171.9L1081.0 171.9L1081.5 171.9L1082.0 171.9L1082.5 171.9L1083.0 171.9L1083.5 171.9L1084.0 171.9L1084.5 171.9L1085.0 171.9L1085.5 171.9L1086.0 171.9L1086.5 171.8L1087.0 171.8L1087.5 171.7L1088.0 171.6L1088.5 171.5L1089.0 171.4L1089.5 171.3L1090.0 171.2L1090.5 171.0L1091.0 170.9L1091.5 170.8L1092.0 170.7L1092.5 170.6L1093.0 170.5L1093.5 170.4L1094.0 170.3L1094.5 170.2L1095.0 170.1L1095.5 170.0L1096.0 169.9L1096.5 169.9L1097.0 169.8L1097.5 169.7L1098.0 169.6L1098.5 169.6L1099.0 169.6L1099.5 169.6L1100.0 169.6L1100.5 169.7L1101.0 169.8L1101.5 169.9L1102.0 169.9L1102.5 170.0L1103.0 170.1L1103.5 170.2L1104.0 170.3L1104.5 170.4L1105.0 170.5L1105.5 170.6L1106.0 170.7L1106.5 170.8L1107.0 170.9L1107.5 171.0L1108.0 171.2L1108.5 171.3L1109.0 171.4L1109.5 171.5L1110.0 171.6L1110.5 171.7L1111.0 171.8L1111.5 171.8L1112.0 171.9L1112.5 171.9L1113.0 171.9L1113.5 171.9L1114.0 171.9L1114.5 171.9L1115.0 171.9L1115.5 171.9L1116.0 171.9L1116.5 171.9L1117.0 171.9L1117.5 171.9L1118.0 171.9L1118.5 171.9L1119.0 171.9L1119.5 171.9L1120.0 171.9L1120.5 171.9L1121.0 171.9L1121.5 171.9L1122.0 171.9L1122.5 171.9L1123.0 171.9L1123.5 171.9L1124.0 171.9L1124.5 171.9L1125.0 171.9L1125.5 171.9L1126.0 171.9L1126.5 171.9L1127.0 171.9L1127.5 171.9L1128.0 171.9L1128.5 171.9L1129.0 171.9L1129.5 171.9L1130.0 171.9L1130.5 171.9L1131.0 171.9L1131.5 171.9L1132.0 171.9L1132.5 171.9L1133.0 171.9L1133.5 171.9L1134.0 171.9L1134.5 171.9L1135.0 171.9L1135.5 171.9L1136.0 171.9L1136.5 171.9L1137.0 171.9L1137.5 171.9L1138.0 171.9L1138.5 171.9L1139.0 171.9L1139.5 171.9L1140.0 171.9L1140.5 171.9L1141.0 171.9L1141.5 171.9L1142.0 171.9L1142.5 171.9L1143.0 171.9L1143.5 171.9L1144.0 171.9L1144.5 171.9L1145.0 171.9L1145.5 171.9L1146.0 171.9L1146.5 171.9L1147.0 171.9L1147.5 171.9L1148.0 171.9L1148.5 171.9L1149.0 171.9L1149.5 171.9L1150.0 171.9L1150.5 171.9L1151.0 171.9L1151.5 171.9L1152.0 171.9L1152.5 171.9L1153.0 171.9L1153.5 171.9L1154.0 171.9L1154.5 171.9L1155.0 171.9L1155.5 171.9L1156.0 171.9L1156.5 171.9L1157.0 171.9L1157.5 171.9L1158.0 171.9L1158.5 171.9L1159.0 171.9L1159.5 171.9L1160.0 171.9L1160.5 171.9L1161.0 171.9L1161.5 171.9L1162.0 171.9L1162.5 171.9L1163.0 171.9L1163.5 171.9L1164.0 171.9L1164.5 171.9L1165.0 171.9L1165.5 171.9L1166.0 171.9L1166.5 171.9L1167.0 171.9L1167.5 171.9L1168.0 171.9L1168.5 171.9L1169.0 171.9L1169.5 171.9L1170.0 171.9L1170.5 171.9L1171.0 171.9L1171.5 171.9L1172.0 171.9L1172.5 171.9L1173.0 171.9L1173.5 171.9L1174.0 171.9L1174.5 171.9L1175.0 171.9L1175.5 171.9L1176.0 171.9L1176.5 171.9L1177.0 171.9L1177.5 171.9L1178.0 171.9L1178.5 171.9L1179.0 171.9L1179.5 171.9L1180.0 171.9L1180.5 171.9L1181.0 171.9L1181.5 171.9L1182.0 171.9L1182.5 171.9L1183.0 171.9L1183.5 171.9L1184.0 171.9L1184.5 171.9L1185.0 171.9L1185.5 171.9L1186.0 171.9L1186.5 171.9L1187.0 171.9L1187.5 171.9L1188.0 171.9L1188.5 171.9L1189.0 171.9L1189.5 171.9L1190.0 171.9L1190.5 171.9L1191.0 171.9L1191.5 171.9L1192.0 171.9L1192.5 171.9L1193.0 171.9L1193.5 171.9L1194.0 171.9L1194.5 171.9L1195.0 171.9L1195.5 171.9L1196.0 171.9L1196.5 171.9L1197.0 171.9L1197.5 171.9L1198.0 171.9L1198.5 171.9L1199.0 171.9L1199.5 171.9L1200.0 171.9L1200.5 171.9L1201.0 171.9L1201.5 171.9L1202.0 171.9L1202.5 171.9L1203.0 171.9L1203.5 171.9L1204.0 171.9" stroke="#a8a428" stroke-width="2.5" fill="none" stroke-linejoin="round"/>
<path d="M728.0 171.9L728.5 171.9L729.0 171.9L729.5 171.9L730.0 171.9L730.5 171.9L731.0 171.9L731.5 171.9L732.0 171.9L732.5 171.9L733.0 171.9L733.5 171.9L734.0 171.9L734.5 171.9L735.0 171.9L735.5 171.9L736.0 171.9L736.5 171.9L737.0 171.9L737.5 171.9L738.0 171.9L738.5 171.9L739.0 171.9L739.5 171.9L740.0 171.9L740.5 171.9L741.0 171.9L741.5 171.9L742.0 171.9L742.5 171.9L743.0 171.9L743.5 171.9L744.0 171.9L744.5 171.9L745.0 171.9L745.5 171.9L746.0 171.9L746.5 171.9L747.0 171.9L747.5 171.9L748.0 171.9L748.5 171.9L749.0 171.9L749.5 171.9L750.0 171.9L750.5 171.9L751.0 171.9L751.5 171.9L752.0 171.9L752.5 171.9L753.0 171.9L753.5 171.9L754.0 171.9L754.5 171.9L755.0 171.9L755.5 171.9L756.0 171.9L756.5 171.9L757.0 171.9L757.5 171.9L758.0 171.9L758.5 171.9L759.0 171.9L759.5 171.9L760.0 171.9L760.5 171.9L761.0 171.9L761.5 171.9L762.0 171.9L762.5 171.9L763.0 171.9L763.5 171.9L764.0 171.9L764.5 171.9L765.0 171.9L765.5 171.9L766.0 171.9L766.5 171.9L767.0 171.9L767.5 171.9L768.0 171.9L768.5 171.9L769.0 171.9L769.5 171.9L770.0 171.9L770.5 171.9L771.0 171.9L771.5 171.9L772.0 171.9L772.5 171.9L773.0 171.9L773.5 171.9L774.0 171.9L774.5 171.9L775.0 171.9L775.5 171.9L776.0 171.9L776.5 171.9L777.0 171.9L777.5 171.9L778.0 171.9L778.5 171.9L779.0 171.9L779.5 171.9L780.0 171.9L780.5 171.9L781.0 171.9L781.5 171.9L782.0 171.9L782.5 171.9L783.0 171.9L783.5 171.9L784.0 171.9L784.5 171.9L785.0 171.9L785.5 171.9L786.0 171.9L786.5 171.9L787.0 171.9L787.5 171.9L788.0 171.9L788.5 171.9L789.0 171.9L789.5 171.9L790.0 171.9L790.5 171.9L791.0 171.9L791.5 171.9L792.0 171.9L792.5 171.9L793.0 171.9L793.5 171.9L794.0 171.9L794.5 171.9L795.0 171.9L795.5 171.9L796.0 171.9L796.5 171.9L797.0 171.9L797.5 171.9L798.0 171.9L798.5 171.9L799.0 171.9L799.5 171.9L800.0 171.9L800.5 171.9L801.0 171.9L801.5 171.9L802.0 171.9L802.5 171.9L803.0 171.9L803.5 171.9L804.0 171.9L804.5 171.9L805.0 171.9L805.5 171.9L806.0 171.9L806.5 171.9L807.0 171.9L807.5 171.9L808.0 172.0L808.5 172.0L809.0 172.0L809.5 172.0L810.0 172.0L810.5 172.1L811.0 172.1L811.5 172.1L812.0 172.2L812.5 172.2L813.0 172.2L813.5 172.3L814.0 172.3L814.5 172.4L815.0 172.4L815.5 172.4L816.0 172.5L816.5 172.6L817.0 172.7L817.5 172.8L818.0 172.9L818.5 173.0L819.0 173.1L819.5 173.2L820.0 173.3L820.5 173.4L821.0 173.6L821.5 173.7L822.0 173.9L822.5 174.0L823.0 174.2L823.5 174.4L824.0 174.6L824.5 174.8L825.0 175.0L825.5 175.2L826.0 175.5L826.5 175.7L827.0 176.0L827.5 176.3L828.0 176.7L828.5 177.0L829.0 177.3L829.5 177.7L830.0 178.0L830.5 178.4L831.0 178.8L831.5 179.2L832.0 179.7L832.5 180.1L833.0 180.5L833.5 180.9L834.0 181.2L834.5 181.5L835.0 181.7L835.5 182.0L836.0 182.3L836.5 182.5L837.0 182.7L837.5 182.8L838.0 182.8L838.5 182.8L839.0 182.8L839.5 182.8L840.0 182.7L840.5 182.7L841.0 182.7L841.5 182.6L842.0 182.6L842.5 182.5L843.0 182.5L843.5 182.4L844.0 182.4L844.5 182.3L845.0 182.3L845.5 182.2L846.0 182.2L846.5 182.1L847.0 182.1L847.5 182.0L848.0 181.9L848.5 181.8L849.0 181.7L849.5 181.6L850.0 181.6L850.5 181.5L851.0 181.4L851.5 181.3L852.0 181.2L852.5 181.1L853.0 181.0L853.5 180.9L854.0 180.8L854.5 180.7L855.0 180.6L855.5 180.5L856.0 180.4L856.5 180.3L857.0 180.1L857.5 180.0L858.0 179.9L858.5 179.8L859.0 179.8L859.5 179.7L860.0 179.6L860.5 179.5L861.0 179.5L861.5 179.4L862.0 179.3L862.5 179.3L863.0 179.2L863.5 179.1L864.0 179.1L864.5 179.0L865.0 178.9L865.5 178.9L866.0 178.8L866.5 178.8L867.0 178.7L867.5 178.6L868.0 178.6L868.5 178.5L869.0 178.5L869.5 178.4L870.0 178.4L870.5 178.3L871.0 178.3L871.5 178.2L872.0 178.2L872.5 178.1L873.0 178.1L873.5 178.0L874.0 178.0L874.5 178.0L875.0 177.9L875.5 177.9L876.0 177.8L876.5 177.8L877.0 177.8L877.5 177.7L878.0 177.7L878.5 177.7L879.0 177.7L879.5 177.6L880.0 177.6L880.5 177.6L881.0 177.6L881.5 177.5L882.0 177.5L882.5 177.5L883.0 177.5L883.5 177.4L884.0 177.4L884.5 177.4L885.0 177.4L885.5 177.4L886.0 177.3L886.5 177.3L887.0 177.3L887.5 177.3L888.0 177.3L888.5 177.2L889.0 177.2L889.5 177.2L890.0 177.2L890.5 177.2L891.0 177.2L891.5 177.1L892.0 177.1L892.5 177.1L893.0 177.1L893.5 177.1L894.0 177.1L894.5 177.1L895.0 177.0L895.5 177.0L896.0 177.0L896.5 177.0L897.0 177.0L897.5 177.0L898.0 177.0L898.5 176.9L899.0 176.9L899.5 176.9L900.0 176.9L900.5 176.9L901.0 176.9L901.5 176.9L902.0 176.9L902.5 176.8L903.0 176.8L903.5 176.8L904.0 176.8L904.5 176.8L905.0 176.8L905.5 176.8L906.0 176.8L906.5 176.7L907.0 176.7L907.5 176.7L908.0 176.7L908.5 176.7L909.0 176.7L909.5 176.7L910.0 176.7L910.5 176.7L911.0 176.6L911.5 176.6L912.0 176.6L912.5 176.6L913.0 176.6L913.5 176.6L914.0 176.6L914.5 176.6L915.0 176.5L915.5 176.5L916.0 176.5L916.5 176.5L917.0 176.5L917.5 176.5L918.0 176.5L918.5 176.4L919.0 176.4L919.5 176.4L920.0 176.4L920.5 176.4L921.0 176.4L921.5 176.4L922.0 176.3L922.5 176.3L923.0 176.3L923.5 176.3L924.0 176.3L924.5 176.3L925.0 176.3L925.5 176.2L926.0 176.2L926.5 176.2L927.0 176.2L927.5 176.2L928.0 176.2L928.5 176.1L929.0 176.1L929.5 176.1L930.0 176.1L930.5 176.1L931.0 176.1L931.5 176.1L932.0 176.0L932.5 176.0L933.0 176.0L933.5 176.0L934.0 176.0L934.5 176.0L935.0 176.0L935.5 175.9L936.0 175.9L936.5 175.9L937.0 175.9L937.5 175.9L938.0 175.9L938.5 175.8L939.0 175.8L939.5 175.8L940.0 175.8L940.5 175.8L941.0 175.8L941.5 175.8L942.0 175.7L942.5 175.7L943.0 175.7L943.5 175.7L944.0 175.7L944.5 175.6L945.0 175.6L945.5 175.6L946.0 175.6L946.5 175.6L947.0 175.6L947.5 175.5L948.0 175.5L948.5 175.5L949.0 175.5L949.5 175.5L950.0 175.5L950.5 175.4L951.0 175.4L951.5 175.4L952.0 175.4L952.5 175.4L953.0 175.3L953.5 175.3L954.0 175.3L954.5 175.3L955.0 175.3L955.5 175.3L956.0 175.2L956.5 175.2L957.0 175.2L957.5 175.2L958.0 175.2L958.5 175.2L959.0 175.1L959.5 175.1L960.0 175.1L960.5 175.1L961.0 175.1L961.5 175.1L962.0 175.0L962.5 175.0L963.0 175.0L963.5 175.0L964.0 175.0L964.5 175.0L965.0 174.9L965.5 174.9L966.0 174.9L966.5 174.9L967.0 174.9L967.5 174.9L968.0 174.9L968.5 174.8L969.0 174.8L969.5 174.8L970.0 174.8L970.5 174.8L971.0 174.8L971.5 174.8L972.0 174.8L972.5 174.7L973.0 174.7L973.5 174.7L974.0 174.7L974.5 174.7L975.0 174.7L975.5 174.7L976.0 174.6L976.5 174.6L977.0 174.6L977.5 174.6L978.0 174.6L978.5 174.6L979.0 174.5L979.5 174.5L980.0 174.5L980.5 174.5L981.0 174.5L981.5 174.5L982.0 174.4L982.5 174.4L983.0 174.4L983.5 174.4L984.0 174.4L984.5 174.4L985.0 174.3L985.5 174.3L986.0 174.3L986.5 174.3L987.0 174.2L987.5 174.2L988.0 174.2L988.5 174.2L989.0 174.2L989.5 174.1L990.0 174.1L990.5 174.1L991.0 174.0L991.5 174.0L992.0 174.0L992.5 173.9L993.0 173.9L993.5 173.8L994.0 173.8L994.5 173.7L995.0 173.7L995.5 173.6L996.0 173.6L996.5 173.5L997.0 173.5L997.5 173.4L998.0 173.4L998.5 173.3L999.0 173.3L999.5 173.2L1000.0 173.2L1000.5 173.2L1001.0 173.1L1001.5 173.1L1002.0 173.0L1002.5 173.0L1003.0 172.9L1003.5 172.9L1004.0 172.8L1004.5 172.7L1005.0 172.7L1005.5 172.6L1006.0 172.6L1006.5 172.5L1007.0 172.5L1007.5 172.4L1008.0 172.4L1008.5 172.4L1009.0 172.3L1009.5 172.3L1010.0 172.2L1010.5 172.2L1011.0 172.2L1011.5 172.2L1012.0 172.1L1012.5 172.1L1013.0 172.1L1013.5 172.1L1014.0 172.1L1014.5 172.1L1015.0 172.1L1015.5 172.0L1016.0 172.0L1016.5 172.0L1017.0 172.0L1017.5 172.0L1018.0 172.0L1018.5 172.0L1019.0 172.0L1019.5 172.0L1020.0 172.0L1020.5 172.0L1021.0 172.0L1021.5 172.0L1022.0 171.9L1022.5 171.9L1023.0 171.9L1023.5 171.9L1024.0 171.9L1024.5 171.9L1025.0 171.9L1025.5 171.9L1026.0 171.9L1026.5 171.9L1027.0 171.9L1027.5 171.9L1028.0 171.9L1028.5 171.9L1029.0 171.9L1029.5 171.9L1030.0 171.9L1030.5 171.9L1031.0 171.9L1031.5 171.9L1032.0 171.9L1032.5 171.9L1033.0 171.9L1033.5 171.9L1034.0 171.9L1034.5 171.9L1035.0 171.9L1035.5 171.9L1036.0 171.9L1036.5 171.9L1037.0 171.9L1037.5 171.9L1038.0 171.9L1038.5 171.9L1039.0 171.9L1039.5 171.9L1040.0 171.9L1040.5 171.9L1041.0 171.9L1041.5 171.9L1042.0 171.9L1042.5 171.9L1043.0 171.9L1043.5 171.9L1044.0 171.9L1044.5 171.9L1045.0 171.9L1045.5 171.9L1046.0 171.9L1046.5 171.9L1047.0 171.9L1047.5 171.9L1048.0 171.9L1048.5 171.9L1049.0 171.9L1049.5 171.9L1050.0 171.9L1050.5 171.9L1051.0 171.9L1051.5 171.9L1052.0 171.9L1052.5 171.9L1053.0 171.9L1053.5 171.9L1054.0 171.9L1054.5 171.9L1055.0 171.9L1055.5 171.9L1056.0 171.9L1056.5 171.9L1057.0 171.9L1057.5 171.9L1058.0 171.9L1058.5 171.9L1059.0 171.9L1059.5 171.9L1060.0 171.9L1060.5 171.9L1061.0 171.9L1061.5 171.9L1062.0 171.9L1062.5 171.9L1063.0 171.9L1063.5 171.9L1064.0 171.9L1064.5 171.9L1065.0 171.9L1065.5 171.9L1066.0 171.9L1066.5 171.9L1067.0 171.9L1067.5 171.9L1068.0 171.9L1068.5 171.9L1069.0 171.9L1069.5 171.9L1070.0 171.9L1070.5 171.9L1071.0 171.9L1071.5 171.9L1072.0 171.9L1072.5 171.9L1073.0 171.9L1073.5 171.9L1074.0 171.9L1074.5 171.9L1075.0 171.9L1075.5 171.9L1076.0 171.9L1076.5 171.9L1077.0 171.9L1077.5 171.9L1078.0 171.9L1078.5 171.9L1079.0 171.9L1079.5 171.9L1080.0 171.9L1080.5 171.9L1081.0 171.9L1081.5 171.9L1082.0 171.9L1082.5 171.9L1083.0 171.9L1083.5 171.9L1084.0 171.9L1084.5 171.9L1085.0 171.9L1085.5 171.9L1086.0 171.9L1086.5 171.9L1087.0 171.9L1087.5 171.9L1088.0 171.9L1088.5 171.9L1089.0 171.9L1089.5 171.9L1090.0 171.9L1090.5 171.9L1091.0 171.9L1091.5 171.9L1092.0 171.9L1092.5 171.9L1093.0 171.9L1093.5 171.9L1094.0 171.9L1094.5 171.9L1095.0 171.9L1095.5 171.9L1096.0 171.9L1096.5 171.9L1097.0 171.9L1097.5 171.9L1098.0 171.9L1098.5 171.9L1099.0 171.9L1099.5 171.9L1100.0 171.9L1100.5 171.9L1101.0 171.9L1101.5 171.9L1102.0 171.9L1102.5 171.9L1103.0 171.9L1103.5 171.9L1104.0 171.9L1104.5 171.9L1105.0 171.9L1105.5 171.9L1106.0 171.9L1106.5 171.9L1107.0 171.9L1107.5 171.9L1108.0 171.9L1108.5 171.9L1109.0 171.9L1109.5 171.9L1110.0 171.9L1110.5 171.9L1111.0 171.9L1111.5 171.9L1112.0 171.9L1112.5 171.9L1113.0 171.9L1113.5 171.9L1114.0 171.9L1114.5 171.9L1115.0 171.9L1115.5 171.9L1116.0 171.9L1116.5 171.9L1117.0 171.9L1117.5 171.9L1118.0 171.9L1118.5 171.9L1119.0 171.9L1119.5 171.9L1120.0 171.9L1120.5 171.9L1121.0 171.9L1121.5 171.9L1122.0 171.9L1122.5 171.9L1123.0 171.9L1123.5 171.9L1124.0 171.9L1124.5 171.9L1125.0 171.9L1125.5 171.9L1126.0 171.9L1126.5 171.9L1127.0 171.9L1127.5 171.9L1128.0 171.9L1128.5 171.9L1129.0 171.9L1129.5 171.9L1130.0 171.9L1130.5 171.9L1131.0 171.9L1131.5 171.9L1132.0 171.9L1132.5 171.9L1133.0 171.9L1133.5 171.9L1134.0 171.9L1134.5 171.9L1135.0 171.9L1135.5 171.9L1136.0 171.9L1136.5 171.9L1137.0 171.9L1137.5 171.9L1138.0 171.9L1138.5 171.9L1139.0 171.9L1139.5 171.9L1140.0 171.9L1140.5 171.9L1141.0 171.9L1141.5 171.9L1142.0 171.9L1142.5 171.9L1143.0 171.9L1143.5 171.9L1144.0 171.9L1144.5 171.9L1145.0 171.9L1145.5 171.9L1146.0 171.9L1146.5 171.9L1147.0 171.9L1147.5 171.9L1148.0 171.9L1148.5 171.9L1149.0 171.9L1149.5 171.9L1150.0 171.9L1150.5 171.9L1151.0 171.9L1151.5 171.9L1152.0 171.9L1152.5 171.9L1153.0 171.9L1153.5 171.9L1154.0 171.9L1154.5 171.9L1155.0 171.9L1155.5 171.9L1156.0 171.9L1156.5 171.9L1157.0 171.9L1157.5 171.9L1158.0 171.9L1158.5 171.9L1159.0 171.9L1159.5 171.9L1160.0 171.9L1160.5 171.9L1161.0 171.9L1161.5 171.9L1162.0 171.9L1162.5 171.9L1163.0 171.9L1163.5 171.9L1164.0 171.9L1164.5 171.9L1165.0 171.9L1165.5 171.9L1166.0 171.9L1166.5 171.9L1167.0 171.9L1167.5 171.9L1168.0 171.9L1168.5 171.9L1169.0 171.9L1169.5 171.9L1170.0 171.9L1170.5 171.9L1171.0 171.9L1171.5 171.9L1172.0 171.9L1172.5 171.9L1173.0 171.9L1173.5 171.9L1174.0 171.9L1174.5 171.9L1175.0 171.9L1175.5 171.9L1176.0 171.9L1176.5 171.9L1177.0 171.9L1177.5 171.9L1178.0 171.9L1178.5 171.9L1179.0 171.9L1179.5 171.9L1180.0 171.9L1180.5 171.9L1181.0 171.9L1181.5 171.9L1182.0 171.9L1182.5 171.9L1183.0 171.9L1183.5 171.9L1184.0 171.9L1184.5 171.9L1185.0 171.9L1185.5 171.9L1186.0 171.9L1186.5 171.9L1187.0 171.9L1187.5 171.9L1188.0 171.9L1188.5 171.9L1189.0 171.9L1189.5 171.9L1190.0 171.9L1190.5 171.9L1191.0 171.9L1191.5 171.9L1192.0 171.9L1192.5 171.9L1193.0 171.9L1193.5 171.9L1194.0 171.9L1194.5 171.9L1195.0 171.9L1195.5 171.9L1196.0 171.9L1196.5 171.9L1197.0 171.9L1197.5 171.9L1198.0 171.9L1198.5 171.9L1199.0 171.9L1199.5 171.9L1200.0 171.9L1200.5 171.9L1201.0 171.9L1201.5 171.9L1202.0 171.9L1202.5 171.9L1203.0 171.9L1203.5 171.9L1204.0 171.9" stroke="#303090" stroke-width="2.6" fill="none" stroke-linejoin="round"/>
<path d="M728.0 48.0V358.4H1204.0V48.0" fill="none" stroke="#a8a8a8" stroke-width="2"/>
<path d="M727.0 48.0H1205.0" fill="none" stroke="#606060" stroke-width="2"/>
<path d="M1157.5 82.5H1203" stroke="#141414" stroke-width="3"/>
<path d="M1157.5 110.7H1203" stroke="#e42630" stroke-width="3"/>
<path d="M1157.5 137.5H1203" stroke="#21c24a" stroke-width="3"/>
<path d="M1157.5 164.8H1203" stroke="#1c1c78" stroke-width="3"/>
<path d="M1157.5 192.5H1203" stroke="#2ec8ae" stroke-width="3"/>
<path d="M1157.5 219.8H1203" stroke="#e040a8" stroke-width="3"/>
<path d="M1157.5 247.3H1203" stroke="#f4f018" stroke-width="3"/>
<path d="M1157.5 280.4H1203" stroke="#a8a428" stroke-width="3"/>
<path d="M1157.5 314.0H1203" stroke="#303090" stroke-width="3"/>
<text x="1206.42" y="89.00" font-size="18.00" fill="#2e2e2e" font-family="Liberation Sans, sans-serif" textLength="23.64" lengthAdjust="spacingAndGlyphs" >Na</text>
<text x="1206.80" y="117.10" font-size="18.00" fill="#2e2e2e" font-family="Liberation Sans, sans-serif" textLength="20.40" lengthAdjust="spacingAndGlyphs" >Cl</text>
<text x="1206.35" y="144.00" font-size="18.00" fill="#2e2e2e" font-family="Liberation Sans, sans-serif" textLength="13.99" lengthAdjust="spacingAndGlyphs" >H</text>
<text x="1206.90" y="171.40" font-size="18.00" fill="#2e2e2e" font-family="Liberation Sans, sans-serif" textLength="28.94" lengthAdjust="spacingAndGlyphs" >OH</text>
<text x="1205.96" y="198.20" font-size="18.00" fill="#2e2e2e" font-family="Liberation Sans, sans-serif" textLength="22.52" lengthAdjust="spacingAndGlyphs" >Zn</text>
<text x="1205.97" y="225.60" font-size="18.00" fill="#2e2e2e" font-family="Liberation Sans, sans-serif" textLength="51.28" lengthAdjust="spacingAndGlyphs" >ZnOH</text>
<text x="1205.95" y="253.00" font-size="18.00" fill="#2e2e2e" font-family="Liberation Sans, sans-serif" textLength="65.85" lengthAdjust="spacingAndGlyphs" >Zn(OH)</text>
<text x="1206.11" y="288.20" font-size="18.00" fill="#2e2e2e" font-family="Liberation Sans, sans-serif" textLength="44.53" lengthAdjust="spacingAndGlyphs" >HCO</text>
<text x="1206.61" y="321.00" font-size="18.00" fill="#2e2e2e" font-family="Liberation Sans, sans-serif" textLength="31.87" lengthAdjust="spacingAndGlyphs" >CO</text>
<text x="1233.05" y="78.20" font-size="11.00" fill="#2e2e2e" font-family="Liberation Sans, sans-serif" textLength="5.84" lengthAdjust="spacingAndGlyphs" >+</text>
<text x="1226.88" y="105.30" font-size="13.00" fill="#2e2e2e" font-family="Liberation Sans, sans-serif" textLength="5.33" lengthAdjust="spacingAndGlyphs" >-</text>
<text x="1222.55" y="132.80" font-size="11.00" fill="#2e2e2e" font-family="Liberation Sans, sans-serif" textLength="5.84" lengthAdjust="spacingAndGlyphs" >+</text>
<text x="1235.31" y="160.70" font-size="13.00" fill="#2e2e2e" font-family="Liberation Sans, sans-serif" textLength="5.99" lengthAdjust="spacingAndGlyphs" >-</text>
<text x="1228.96" y="187.70" font-size="13.00" fill="#2e2e2e" font-family="Liberation Sans, sans-serif" textLength="15.96" lengthAdjust="spacingAndGlyphs" >2+</text>
<text x="1258.05" y="216.50" font-size="11.00" fill="#2e2e2e" font-family="Liberation Sans, sans-serif" textLength="5.84" lengthAdjust="spacingAndGlyphs" >+</text>
<text x="1271.20" y="261.50" font-size="13.00" fill="#2e2e2e" font-family="Liberation Sans, sans-serif" textLength="7.29" lengthAdjust="spacingAndGlyphs" >3</text>
<text x="1271.81" y="241.30" font-size="13.00" fill="#2e2e2e" font-family="Liberation Sans, sans-serif" textLength="5.99" lengthAdjust="spacingAndGlyphs" >-</text>
<text x="1250.20" y="295.70" font-size="13.00" fill="#2e2e2e" font-family="Liberation Sans, sans-serif" textLength="7.29" lengthAdjust="spacingAndGlyphs" >3</text>
<text x="1251.31" y="276.10" font-size="13.00" fill="#2e2e2e" font-family="Liberation Sans, sans-serif" textLength="5.99" lengthAdjust="spacingAndGlyphs" >-</text>
<text x="1238.05" y="309.80" font-size="13.00" fill="#2e2e2e" font-family="Liberation Sans, sans-serif" textLength="10.35" lengthAdjust="spacingAndGlyphs" >2-</text>
<text x="1238.05" y="328.50" font-size="13.00" fill="#2e2e2e" font-family="Liberation Sans, sans-serif" textLength="6.48" lengthAdjust="spacingAndGlyphs" >3</text>
<path d="M849 272H1111" stroke="#2a2222" stroke-width="2"/>
<path d="M849.0 272.0L857.0 269.0L855.8 272.0L857.0 275.0Z" fill="#2a2222"/>
<path d="M1111.5 272.0L1103.5 269.0L1104.7 272.0L1103.5 275.0Z" fill="#2a2222"/>
<path d="M984.5 299H1111" stroke="#2a2222" stroke-width="2"/>
<path d="M1111.5 299.0L1103.5 296.0L1104.7 299.0L1103.5 302.0Z" fill="#2a2222"/>
<path d="M1014 338H1111" stroke="#2a2222" stroke-width="2"/>
<path d="M1014.3 338.0L1022.3 335.0L1021.1 338.0L1022.3 341.0Z" fill="#2a2222"/>
<path d="M1111.5 338.0L1103.5 335.0L1104.7 338.0L1103.5 341.0Z" fill="#2a2222"/>
<text x="937.5" y="268" font-size="24" fill="#333333" font-family="Liberation Sans, sans-serif" textLength="53.5" lengthAdjust="spacingAndGlyphs">Steel</text>
<text x="867" y="306.8" font-size="24.5" fill="#333333" font-family="Liberation Sans, sans-serif" textLength="113.6" lengthAdjust="spacingAndGlyphs">Zn coating</text>
<text x="1019" y="334" font-size="24" fill="#333333" font-family="Liberation Sans, sans-serif" textLength="70" lengthAdjust="spacingAndGlyphs">Area II</text>
<text x="718.5" y="366.2" font-size="21" fill="#505050" font-family="Liberation Sans, sans-serif" text-anchor="end" style="stroke:#555;stroke-width:0.2px">-3</text>
<text x="718.5" y="304.0" font-size="21" fill="#505050" font-family="Liberation Sans, sans-serif" text-anchor="end" style="stroke:#555;stroke-width:0.2px">-2</text>
<text x="718.5" y="241.8" font-size="21" fill="#505050" font-family="Liberation Sans, sans-serif" text-anchor="end" style="stroke:#555;stroke-width:0.2px">-1</text>
<text x="718.5" y="179.6" font-size="21" fill="#505050" font-family="Liberation Sans, sans-serif" text-anchor="end" style="stroke:#555;stroke-width:0.2px">0</text>
<text x="718.5" y="117.4" font-size="21" fill="#505050" font-family="Liberation Sans, sans-serif" text-anchor="end" style="stroke:#555;stroke-width:0.2px">1</text>
<text x="718.5" y="55.2" font-size="21" fill="#505050" font-family="Liberation Sans, sans-serif" text-anchor="end" style="stroke:#555;stroke-width:0.2px">2</text>
<text x="726.5" y="384.3" font-size="21" fill="#505050" font-family="Liberation Sans, sans-serif" text-anchor="middle" style="stroke:#555;stroke-width:0.25px">0</text>
<text x="832.3" y="384.3" font-size="21" fill="#505050" font-family="Liberation Sans, sans-serif" text-anchor="middle" style="stroke:#555;stroke-width:0.25px">2000</text>
<text x="938.1" y="384.3" font-size="21" fill="#505050" font-family="Liberation Sans, sans-serif" text-anchor="middle" style="stroke:#555;stroke-width:0.25px">4000</text>
<text x="1043.8" y="384.3" font-size="21" fill="#505050" font-family="Liberation Sans, sans-serif" text-anchor="middle" style="stroke:#555;stroke-width:0.25px">6000</text>
<text x="1149.6" y="384.3" font-size="21" fill="#505050" font-family="Liberation Sans, sans-serif" text-anchor="middle" style="stroke:#555;stroke-width:0.25px">8000</text>
<text x="945.5" y="413.4" font-size="23" fill="#333333" font-family="Liberation Sans, sans-serif" textLength="60.5" lengthAdjust="spacingAndGlyphs">X /µm</text>
<g transform="rotate(-90)" fill="#333333" font-family="Liberation Sans, sans-serif" style="stroke-width:0.15px"><text x="-269.8" y="675.3" font-size="21.5" textLength="108.9" lengthAdjust="spacingAndGlyphs">dϕ/dy /V.m</text><text x="-159.9" y="660.8" font-size="13" textLength="9.8" lengthAdjust="spacingAndGlyphs">-1</text></g>
<text x="738.3" y="25" font-size="32.5" fill="#111" font-family="Liberation Serif, serif">b)</text>
</g>
</svg>
</body></html>
